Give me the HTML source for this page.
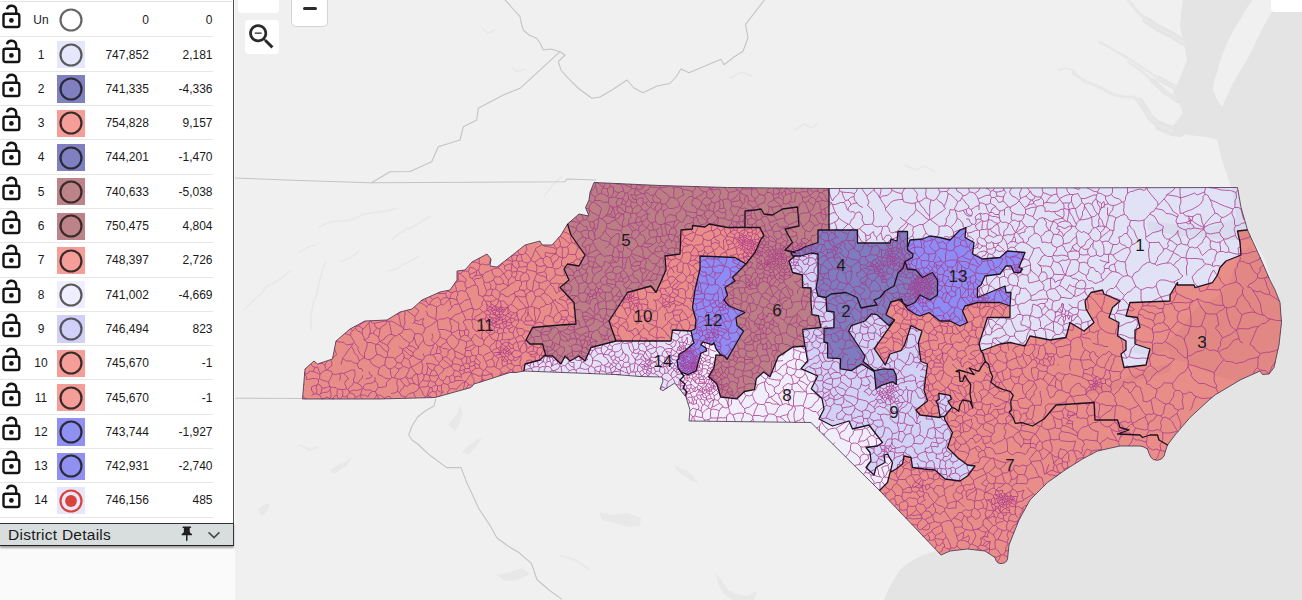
<!DOCTYPE html>
<html><head><meta charset="utf-8"><title>District Map</title>
<style>
html,body{margin:0;padding:0}
body{width:1302px;height:600px;overflow:hidden;position:relative;background:#f0f0f0;font-family:"Liberation Sans",sans-serif;color:#1a1a1a}
#map{position:absolute;left:0;top:0;width:1302px;height:600px}
#side{position:absolute;left:0;top:0;width:235px;height:600px;background:#fafafa}
#panel{position:absolute;left:0;top:0;width:232.6px;height:523px;background:#fff;border-right:1.7px solid #4d4d4d}
#topline{position:absolute;left:0;top:1.3px;width:232px;height:1px;background:#e2e2e2}
.r{position:absolute;left:0;width:213px;height:34.3px;border-bottom:1px solid #e6e6e6;box-sizing:border-box;font-size:12px;letter-spacing:0}
.r span{position:absolute;top:0;line-height:34.4px;white-space:nowrap}
.lk{position:absolute;left:0;top:0;width:24px;height:34px}
.n{left:28px;width:26px;text-align:center}
.sw{left:57px;top:3.6px!important;width:27.5px;height:27.2px}
.sw svg{position:absolute;left:-.2px;top:-.4px;width:28px;height:28px}
.p{right:64.2px;text-align:right}
.d{right:.5px;text-align:right}
#dd{position:absolute;left:0;top:522.6px;width:232.6px;height:21.4px;background:#d8dede;border-top:1.6px solid #333;border-bottom:1.8px solid #222;border-right:1.7px solid #333;box-shadow:0 1.5px 2px rgba(0,0,0,.35);font-size:15.5px;line-height:21px}
#dd b{font-weight:normal;position:absolute;left:8px;top:0;letter-spacing:.25px}
.btn{position:absolute;background:#fff}
</style></head><body>
<svg id="map" viewBox="0 0 1302 600">
<rect width="1302" height="600" fill="#f0f0f0"/>
<path fill="#e4e4e4" d="M884,600 888,590 893,581 900,570 907,564 915,559 922,555.5 930,552.5 936,551 942,550 960,540 1000,540 1010,500 1060,465 1120,440 1160,450 1200,400 1260,365 1275,350 1278,300 1265,260 1245,225 1237,187 1231,187 1226,172 1222,160 1219,148 1217,140 1220,125 1222,107 1228,94 1233,83 1240,71 1247,60 1254,46 1260,33 1267,20 1273,10 1281,0 1302,0 1302,600ZM1183,0 1181,14 1180,27 1184,44 1187,60 1180,78 1173,93 1179,103 1183,113 1176,122 1170,130 1188,135 1207,137 1217,140 1220,125 1222,107 1216,98 1213,90 1214,81 1217,73 1221,58 1227,43 1233,31 1240,20 1246,9 1253,0Z"/><path fill="none" stroke="#e4e4e4" stroke-width="6.5" stroke-linejoin="round" stroke-linecap="round" d="M1140,101 1146,110 1150,117 1160,126 1172,131"/><path fill="none" stroke="#e4e4e4" stroke-width="10" stroke-linejoin="round" stroke-linecap="round" d="M1160,126 1172,131 1180,132"/><path fill="none" stroke="#e4e4e4" stroke-width="4.5" stroke-linejoin="round" stroke-linecap="round" d="M1152,80 1166,93 1178,101"/><path fill="none" stroke="#e4e4e4" stroke-width="5" stroke-linejoin="round" stroke-linecap="round" d="M1158,78 1176,88 1182,92"/><path fill="none" stroke="#e4e4e4" stroke-width="7" stroke-linejoin="round" stroke-linecap="round" d="M1146,20 1158,28 1170,34 1183,42"/><path fill="none" stroke="#e7e7e7" stroke-width="3.2" stroke-linejoin="round" stroke-linecap="round" d="M1073,73 1086,82 1100,87 1112,94 1123,97 1133,97 1140,101 1146,110 1150,117 1160,126 1172,131"/><path fill="none" stroke="#e7e7e7" stroke-width="2.4" stroke-linejoin="round" stroke-linecap="round" d="M1128,62 1140,70 1152,80 1166,93 1176,100"/><path fill="none" stroke="#e7e7e7" stroke-width="2.6" stroke-linejoin="round" stroke-linecap="round" d="M1100,42 1117,52 1128,58 1140,66 1158,78 1176,88"/><path fill="none" stroke="#e7e7e7" stroke-width="3.4" stroke-linejoin="round" stroke-linecap="round" d="M1128,0 1136,10 1146,20 1158,28 1170,34 1183,42"/><path fill="none" stroke="#e7e7e7" stroke-width="1.5" stroke-linejoin="round" stroke-linecap="round" d="M1075,71 1066,68 1058,70"/><path fill="#e8e8e8" d="M330,470 336,466 345,462 352,457 347,465 340,470 334,474Z"/><path fill="#e8e8e8" d="M599,512 612,515 628,513 641,518 640,526 628,527 615,523 602,520Z"/><path fill="#e8e8e8" d="M448,425 452,420 457,414 460,405 463,414 459,424 455,431Z"/><path fill="#e8e8e8" d="M258,510 263,505 270,503 268,510 262,516Z"/><path fill="#e8e8e8" d="M497,575 510,572 522,568 530,574 518,580 505,581Z"/><path fill="#e8e8e8" d="M674,464 679,468 686,470 693,476 699,483 692,481 684,476 677,471Z"/><path fill="#e8e8e8" d="M716,573 722,581 728,590 737,594 747,596 757,591 754,600 733,600 724,594 718,584Z"/><path fill="#e8e8e8" d="M462,452 468,446 476,440 482,438 476,447 468,455Z"/><path fill="none" stroke="#e8e8e8" stroke-width="1.6" stroke-linecap="round" stroke-linejoin="round" d="M319,227 327,223 336,221 345,221 353,219 364,214 373.5,212.5 386,211 398.5,208"/><path fill="none" stroke="#e8e8e8" stroke-width="1.6" stroke-linecap="round" stroke-linejoin="round" d="M392,239.6 400,233 407,229 413,227 419,223 425,219 430,216.7"/><path fill="none" stroke="#e8e8e8" stroke-width="1.6" stroke-linecap="round" stroke-linejoin="round" d="M388,271 396,269 402.7,264.6 411,261 419,256"/><path fill="none" stroke="#e8e8e8" stroke-width="1.6" stroke-linecap="round" stroke-linejoin="round" d="M244,310 252,302 261,294 266,287 273.5,283 282,278 290,271"/><path fill="none" stroke="#e8e8e8" stroke-width="1.6" stroke-linecap="round" stroke-linejoin="round" d="M311,329 311,316 313,304 317,293 319,283 322,272 325.6,262.5"/><path fill="none" stroke="#e8e8e8" stroke-width="1.6" stroke-linecap="round" stroke-linejoin="round" d="M544,196 549,190 552.7,185 557,181 561,177"/><path fill="none" stroke="#e8e8e8" stroke-width="1.6" stroke-linecap="round" stroke-linejoin="round" d="M300,252 308,247 316,245"/><path fill="none" stroke="#e8e8e8" stroke-width="1.6" stroke-linecap="round" stroke-linejoin="round" d="M340,262 350,258 358,252"/><path fill="none" stroke="#e8e8e8" stroke-width="1.6" stroke-linecap="round" stroke-linejoin="round" d="M482,28 488,33 495,30"/><path fill="none" stroke="#e8e8e8" stroke-width="1.6" stroke-linecap="round" stroke-linejoin="round" d="M512,68 518,72 524,69"/><path fill="none" stroke="#e8e8e8" stroke-width="1.6" stroke-linecap="round" stroke-linejoin="round" d="M730,78 742,72 752,76"/><path fill="none" stroke="#e8e8e8" stroke-width="1.6" stroke-linecap="round" stroke-linejoin="round" d="M795,130 804,124 812,128 818,123"/><path fill="none" stroke="#e8e8e8" stroke-width="1.6" stroke-linecap="round" stroke-linejoin="round" d="M905,165 915,170 925,166 935,172"/><path fill="none" stroke="#e8e8e8" stroke-width="1.6" stroke-linecap="round" stroke-linejoin="round" d="M560,555 575,560 590,570"/><path fill="none" stroke="#e8e8e8" stroke-width="1.6" stroke-linecap="round" stroke-linejoin="round" d="M300,445 310,450 318,447"/><path fill="none" stroke="#c4c4c4" stroke-width="1.1" stroke-linejoin="round" d="M235,178 300,180.5 370,182.7 480,182.2 565,181.7 566.7,179 596,180"/><path fill="none" stroke="#c4c4c4" stroke-width="1.1" stroke-linejoin="round" d="M371.7,182.7 390,171.7 410,171.5 431.7,161.7 438.3,146.7 460,140 463.3,126.7 476.7,120 478.3,108.3 503.3,95 520,88.3 560,51.7 565,55 558.3,61.7 561,70 566.7,76.7 578,88 591.7,98.3 600,97 612,90 627,80 634,88 643,92.7 657,86 670,83.5 676,77 681,69 689,72.8 705,66 721,59.3 724,64.7 734,57 743,51.2 748,37.7 745.5,24.3 756,10.8 764.4,0"/><path fill="none" stroke="#c4c4c4" stroke-width="1.1" stroke-linejoin="round" d="M560,51.7 551,49 543.3,50 540,43 536.7,38.3 529,35 523.3,30 521,22 520,16.7 513,9 508.3,3.3 505,0"/><path fill="none" stroke="#c4c4c4" stroke-width="1.1" stroke-linejoin="round" d="M235.4,398.2 302,398.5"/><path fill="none" stroke="#c4c4c4" stroke-width="1.1" stroke-linejoin="round" d="M435.8,399 434,406 425,411 417.7,417 412,426 408.7,435 412,440 417.7,444 425,451 432,456.8 446.6,467.6 461,467.6 466.5,482 473,496 479,509 490,525.4 497,538 508,546 518.8,552.5 531.4,563.3 536.9,579.5 549,590 562,599.4"/><g><path fill="#e2e2f6" d="M1241,207.5 1237.5,187.5 1000,188 829,188.5 829,229 829,230 857.5,230 857.5,243 890,243 891,239 897,241 898,231.5 907.5,231.5 907.5,247.5 910,240 922.5,239 930,236 940,237.5 950,240 960,230 966,227.5 965,237.5 974,242.5 972.5,254 982.5,259 1000,257.5 1007.5,251 1025,252.5 1019,267.5 1022.5,269 1020,272.5 1014,272.5 1011,266 1006,266 1000,274 985,276 981,285 977.5,287.5 977.5,297.5 1005,286 1006,292.5 1011,292.5 1010,306 1010,317.5 987.5,317.5 979,344 981,351 1000,344 1010,342.5 1025,346 1030,336 1050,340 1066,337.5 1070,322.5 1084,331 1094,322.5 1086,309 1085,301 1091,292.5 1102.5,290 1104,294 1120,301 1112.5,307.5 1109,317.5 1119,322.5 1117.5,336 1126,341 1126,350 1121,354 1124,367.5 1146,365 1150,349 1135,344 1135,330 1140,327.5 1137.5,317.5 1126,316 1130,302.5 1132.5,302.5 1170,301 1170,295 1177.5,282.5 1177.5,285 1194,285 1195,287.5 1212.5,282.5 1217.5,275 1220,267.5 1226,261 1241,255 1240,242.5 1237.5,231 1247.5,230Z"/><path fill="#d2d2f5" d="M805,346 807.6,361 801,368.6 817.7,376 811.3,388.7 822,398.5 824,409 819,419 832.5,426 849,421 852.5,429 869,425 882.5,442.5 877.5,446 866,447.5 870,452.5 871,461 866,467.5 874,475 876,467.5 885,462.5 884,455 887.5,454 892.5,462.5 891,469 890,472.5 896,469 902.5,464 904,456 911,457.5 912.5,467.5 924,469 935,470 945,479 960,481 967.5,476 975,466 967.5,465 957.5,457.5 947.5,447.5 952.5,432.5 945,420 944.3,416.5 941.6,416.5 940,417.5 920,415 916,410 927.5,401 924,390 927.5,364 921,361.5 918.3,343 922,331 911,325.7 904.5,345 901,350.5 890,354 885.3,365 874.3,348.6 894.5,320 889,325.7 877,314.7 871.6,313.8 865,321 851.4,325.7 848.6,331 865,356 863.3,361.5 874.3,370.6 883.5,368.8 893.6,369.7 896.3,376 896.3,384.4 892.6,381.6 881.6,385.3 876,389 874.3,371.6 861.5,364 851.4,370.6 840.4,368.8 840.4,358.7 827.6,357.8 827.6,343 824,342 824,328.5 834,327.6 834,312 826.7,311 826,297.5 818,296 816,288 818,277.5 818,254 811,253 801,256 795,256 789,261 792.5,272.5 802.5,275 802.5,287.5 811,288 811,302.5 812,314.7 818.4,315.6 821,327.5 802.8,329.4 803,333.7Z"/><path fill="#f1eefb" d="M887.5,482.5 890,472.5 891,469 892.5,462.5 887.5,454 884,455 885,462.5 876,467.5 874,475 866,467.5 871,461 870,452.5 866,447.5 877.5,446 882.5,442.5 869,425 852.5,429 849,421 832.5,426 819,419 824,409 822,398.5 811.3,388.7 817.7,376 801,368.6 807.6,361 805,346 793,347 778.3,356.6 770,376.8 763.6,372 756.3,378.6 754.5,389.6 744.4,391.5 737,398.8 720.6,397 717,384 708.6,376.8 714,367.6 716,354.8 722.9,355.6 720,354 716,348.7 714,342.7 712,344.7 703,342 701,344.7 706,348 706.7,351 701,353 698.7,360.7 696,371 688,374.7 681.3,372.1 681,372.7 684,376 680,380 685,384 683,388 687,392 685.1,395.9 686,397 690,410 689,421 811,422.5 879.5,490.5 880,490Z"/><path fill="#e98d89" d="M1240,242.5 1241,255 1226,261 1220,267.5 1217.5,275 1212.5,282.5 1195,287.5 1194,285 1177.5,285 1177.5,282.5 1170,295 1170,301 1132.5,302.5 1130,302.5 1126,316 1137.5,317.5 1140,327.5 1135,330 1135,344 1150,349 1146,365 1124,367.5 1121,354 1126,350 1126,341 1117.5,336 1119,322.5 1109,317.5 1112.5,307.5 1120,301 1104,294 1102.5,290 1091,292.5 1085,301 1086,309 1094,322.5 1084,331 1070,322.5 1066,337.5 1050,340 1030,336 1025,346 1010,342.5 1000,344 981,351 979,344 987.5,317.5 1010,317.5 1010,306 1000,302.5 977.5,302.5 965,306 962.5,311 967.5,322.5 960,326 950,321 940,321 929,312.5 920,316 915,314 907.3,309 904.6,304.7 900,300 900,299.5 890.8,302 886,314.7 894.5,320 874.3,348.6 885.3,365 890,354 901,350.5 904.5,345 911,325.7 922,331 918.3,343 921,361.5 927.5,364 924,390 927.5,401 916,410 920,415 940,417.5 941.6,416.5 940,416.5 939.3,412 938,404.7 936,401.3 939.3,399.3 938.7,393.3 942.7,394 950,395.3 951.3,399.3 948,401.3 952,407.3 944.5,416.5 944.3,416.5 945,420 952.5,432.5 947.5,447.5 957.5,457.5 967.5,465 975,466 967.5,476 960,481 945,479 935,470 924,469 912.5,467.5 911,457.5 904,456 902.5,464 896,469 890,472.5 887.5,482.5 880,490 879.5,490.5 880,491 941,555 950,551 967.5,549 985,551 995,557.5 996,560.5 997.8,562.8 1001,563.6 1004,563 1006.3,561.5 1007.5,559 1009,545 1019,520 1030,500 1047.5,482.5 1065,470 1082.5,459 1097.5,451 1120,446 1140,446 1144,447 1147.5,449 1149,453.5 1151,457.5 1153.5,459.6 1157.5,460.3 1161.5,459 1164,456 1165.5,451 1167.5,445 1175,435 1190,417.5 1209,400 1215,395 1240,380 1260,371 1262.5,374.5 1269,374 1274,367.5 1279,345 1281.5,322.5 1280,302.5 1275,290 1270,280 1259,255 1247.5,230 1237.5,231Z"/><path fill="#d2d2f5" d="M936,401.3 938,404.7 939.3,412 940,416.5 944.5,416.5 952,407.3 948,401.3 951.3,399.3 950,395.3 942.7,394 938.7,393.3 939.3,399.3Z"/><path fill="#e4e2f7" d="M683,388 685,384 680,380 684,376 681,372.7 681.3,372.1 681,372 678,368 677,360 679,358.7 678.7,354.7 685,350.7 694,342.7 693,340 691,331 672.5,330 671,341 616,341 591,347.5 585,361 579,356 570,361 565,356 561,364 552.5,356 546,356 545,355 540,360 525,364 524,371 615,374.5 640,376.5 662,377 663,381 660,389 663,390.7 674.7,383 685.1,395.9 687,392Z"/><path fill="#e98d89" d="M540,360 545,355 546,356 542.5,344 530,344 526,340 532.5,327.5 560,325 576,324 574,302.5 560,287.5 569,280 564,269 567.5,264 579,266 585,255 571,235 567.5,224 561,235 552,245 542,245 540,241 525,245 510,257 497,267 490,266 491,259 487,254 472,262 465,270 457,271 457,280 450,290 440,292 422,300 412,309 400,312 387,320 365,321 350,329 336,341 332.5,359 317.5,364 314,361 305,369 302.5,399 379,399 435,397.5 471,387.5 474,384 490,379 510,372.5 516,372.5 524,371 525,364Z"/><path fill="#e98d89" d="M671,341 672.5,330 691,331 695,329 696,320 692.5,307.5 695,290 700,269 700,267 700,256 735,257.5 746,264 749,260 755,252.5 761,239 764,236 760,227.5 727.5,227.5 709,224 705,227 692.5,225.5 692.5,229 681,230 680,254 665,256 666,270 656,292.5 651,286 627.5,292.5 609,321 616,341Z"/><path fill="#ba7e84" d="M590,192.5 589,200 585.5,207.5 589,216 579,214 567.5,224 571,235 585,255 579,266 567.5,264 564,269 569,280 560,287.5 574,302.5 576,324 560,325 532.5,327.5 526,340 530,344 542.5,344 546,356 552.5,356 561,364 565,356 570,361 579,356 585,361 591,347.5 616,341 609,321 627.5,292.5 651,286 656,292.5 666,270 665,256 680,254 681,230 692.5,229 692.5,225.5 705,227 709,224 727.5,227.5 760,227.5 764,236 761,239 755,252.5 749,260 746,264 732.5,277.5 735,281 725,287.5 727.5,295 724,300 729,306 745,312.5 736,317.5 737,325.5 743.5,331 727,359.4 724.7,356.5 722.9,355.6 716,354.8 714,367.6 708.6,376.8 717,384 720.6,397 737,398.8 744.4,391.5 754.5,389.6 756.3,378.6 763.6,372 770,376.8 778.3,356.6 793,347 805,346 803,333.7 802.8,329.4 821,327.5 818.4,315.6 812,314.7 811,302.5 811,288 802.5,287.5 802.5,275 792.5,272.5 789,261 795,256 792.5,256 791,252.5 799,250 806,246.5 818,242.5 818,230 829,230 829,229 829,188.5 727.5,187.5 660,185.5 594,182.5Z"/><path fill="#8c8cf4" d="M695,290 692.5,307.5 696,320 695,329 691,331 693,340 694,342.7 685,350.7 678.7,354.7 679,358.7 677,360 678,368 681,372 688,374.7 696,371 698.7,360.7 701,353 706.7,351 706,348 701,344.7 703,342 712,344.7 714,342.7 716,348.7 720,354 725,356.7 727,359.4 743.5,331 737,325.5 736,317.5 745,312.5 729,306 724,300 727.5,295 725,287.5 735,281 732.5,277.5 746,264 735,257.5 700,256 700,269Z"/><path fill="#8c8cf4" d="M900,300 904.6,304.7 907.3,309 915,314 920,316 929,312.5 940,321 950,321 960,326 967.5,322.5 962.5,311 965,306 977.5,302.5 1000,302.5 1010,306 1011,292.5 1006,292.5 1005,286 977.5,297.5 977.5,287.5 981,285 985,276 1000,274 1006,266 1011,266 1014,272.5 1020,272.5 1022.5,269 1019,267.5 1025,252.5 1007.5,251 1000,257.5 982.5,259 972.5,254 974,242.5 965,237.5 966,227.5 960,230 950,240 940,237.5 930,236 922.5,239 910,240 907.5,247.5 907.5,250 913,254 912.5,257.5 905,261.5 907.5,269 916,270 922.5,277.5 932.5,272.5 937.5,280 937.5,295 930,300 920,295 915,302.5 907.5,306 903,303 901.8,299 900,299.5Z"/><path fill="#7c7cbe" d="M818,242.5 806,246.5 799,250 791,252.5 792.5,256 801,256 811,253 818,254 818,277.5 816,288 818,296 826,297.5 826.7,311 834,312 834,327.6 824,328.5 824,342 827.6,343 827.6,357.8 840.4,358.7 840.4,368.8 851.4,370.6 861.5,364 874.3,371.6 876,389 881.6,385.3 892.6,381.6 896.3,384.4 896.3,376 893.6,369.7 883.5,368.8 874.3,370.6 863.3,361.5 865,356 848.6,331 851.4,325.7 865,321 871.6,313.8 877,314.7 889,325.7 894.5,320 886,314.7 890.8,302 901.8,299 903,303 907.5,306 915,302.5 920,295 930,300 937.5,295 937.5,280 932.5,272.5 922.5,277.5 916,270 907.5,269 905,261.5 912.5,257.5 913,254 907.5,250 907.5,231.5 898,231.5 897,241 891,239 890,243 857.5,243 857.5,230 818,230Z"/><path fill="#000" fill-opacity=".03" d="M1226,240 1250,240 1252.1,240 1247.5,230 1241,207.5 1237.5,187.5 1235.2,187.5 1232,188 1236,218 1214,226 1180,225 1148,221 1148,230 1180,236ZM1249,246 1236,262 1229,284 1216,298 1196,308 1181,328 1166,343 1171,359 1191,364 1216,376 1237.9,381.3 1240,380 1260,371 1262.5,374.5 1266.9,374.2 1274.9,363.5 1279,345 1281.5,322.5 1280,302.5 1275,290 1270,280 1259,255 1258.3,253.4ZM1166,343 1150,347 1130,346 1128,352 1150,356 1168,350ZM1170,372 1172,362 1140,372 1110,384 1086,388 1085,395 1110,392 1140,380Z"/></g><path transform="scale(.5)" d="M613 798l-8-5M607 770l1-1M610 744l0 5M637 759l-6-2 -7 0 -7 2 -4 0 0-6 -3-4M610 749l7-3 2-4 7 1M630 735l-5-2 -3-5M628 788l-5 3M640 749l-8-4 -6-2M626 743l4-8M628 788l-5-8 0-6 4-2 7-2M633 788l-5 0M641 748l-3-6 -3-8 -5 1M639 790l-6-2M633 788l1-8 -2-4 2-6M634 770l1-1M644 776l-4-6 -5-1M635 769l2-4 0-6M639 757l-2 2M643 798l-1-4 -3-4M641 787l-2 3M657 764l-6-2 -5-1 -7-4M639 757l1-8M650 731l-4-4 -6 0 0-1M640 749l1-1M641 787l2-5 1-6M660 779l-4 5 -9 1 -6 2M641 748l6-6 7-2M643 798l5-1 5-3 7 3M660 773l-5 1 -5 2 -6 0M654 740l-3-3 -1-6M655 723l-4 4 -1 4M655 740l-1 0M665 748l-2-5 -8-3M655 740l2-4 6-4 1-6 -2-6 1-1M660 773l-2-5 -1-4M657 764l4-7 1-3 3-6M660 779l2 7 0 7 -2 4M660 779l1-5M660 797l1 1M661 774l-1-1M661 774l6 1 5 0 3 3M663 798l3-1M665 748l6 1 9-2M669 697l3 9 2 3 -3 2 -5 4 -1 0M666 797l2 1M666 797l2-4 6-3M672 683l16 2 5 5 12-2M674 790l2 6 3 2M674 790l0-6 1-6M675 778l8 1M679 761l2-7 -1-7M687 747l-5-1 -2 1M685 792l-4 6M685 717l-1 5 -2 7M685 792l1-8 -3-5M683 779l5 0 5-1M685 792l4 2 5-2M685 717l8 5 10 0 4 4 8 1M685 717l0-1 4-4 5-8 4-6 5-5M693 778l-1-5 -3-6 3-6 5-3 -4-6 -6-5M687 747l9-4 7-3 6 0 1 5 0 8 -3 5 0 5 1 1M701 671l-11-4M696 779l-3-1M694 792l2 6M699 785l-5 7M696 779l2 4M696 779l4-5 4-3 4-7M698 783l1 2M698 783l10-3 5 1 11-3M699 785l8 3 4 6M705 662l-4-5M701 671l3 5 5 8 -1 1M705 662l-3 3 -1 6M703 693l3 5 3 8 6 6 4 10M705 688l-2 5M705 688l3-3M705 662l6-6M729 716l-9-9 -5-9 2-3 -9-10M708 764l7 3M711 794l-3 4M711 794l5-1 5-4M711 656l5 7 4 0 5 6M711 656l1-3M711 652l1 1M717 652l-5 1M715 767l6 3 4 7M715 767l4-6 4-3 2-4 0-3M715 727l0 4 3 6 5 0 3 6M715 727l4-5M717 652l4 2 5 4M717 652l7-6 5-3 0-1M729 716l-6 2 -4 4M721 790l0-1M724 778l-1 6 -2 5M721 790l9 0 6 4 3-7 6-4M725 798l-3-3 -1-5M724 778l1-1M725 777l1-1M725 669l3 6 0 5 2 0M725 669l-1-5 2-6M745 783l-4-3 -11 0 -4-4M726 776l2-5 3-3 6-1 7-1 6-4M738 646l-4 3 -2 4 -6 5M729 716l0-10 3-7 2-6 0-8M729 716l6 3 4 0M734 685l-4-5M739 668l-2 7 -7 5M731 758l9-2 5-4 -5-3 -2-6M734 685l8 0 5 2 5 2M739 668l2-6 -2-9 -1-7M738 646l2-4M739 668l7-2M739 719l4 8 5 4 5 2 6 3M739 719l8-3 1-3 6-4M741 641l2 4 6 2M745 783l6 0M746 666l5 4 6 4M746 666l3-4 6-6M748 798l3-3 2-5M755 656l-5-3 -1-6M749 647l6-2 11-2 8-1M750 762l0-8M756 775l-1-8 -5-5M753 789l-2-6M756 775l-2 3 -3 5M754 709l-2-7 -1-8 1-5M752 689l2-1M753 790l4 6 0 2M753 790l0-1M769 796l-6-4 -2-1 -8-2M754 709l6 1 6 4 6 2M754 688l6 2 6 8 9 7M754 688l5-5M755 656l5 2M780 758l-7 7 0 7 -5 2 -8 1 -4 0M759 683l-1-6 -1-3M757 674l2-7 1-9M759 683l1 0M780 758l-11-2 -3-3 -10-4 1-8 2-5M770 730l-5 1 -6 5M760 658l1 0 2-5 8-4 4-7M760 683l6 3 4 2 5 3M760 683l9-5 2-4 8-5 4 0M770 798l-1-2M781 797l1-1 -2-3 -4 0 -7 3M770 730l4 6 6 2M770 730l0-6 2-8M772 716l2-2M774 640l0 2M790 719l-3-4 -6 0 -7-1M775 705l0 5 -1 4M774 642l1 0M778 643l-3-1M775 705l3-8 -3-6M775 691l5-9 4-4 6-7M778 643l2 9 2 9 1 8M804 654l-9-5 -6-4 -7-3 -4 1M784 755l-2-4 -1-7 -1-6M780 738l5-2 4-3M780 758l4-3M782 787l7-1 6-3M790 671l-7-2M784 755l5 1M798 738l-5-2 -4-3M789 733l4-4 1-4M795 758l-6-2M789 756l2-7 6-6 1-5M790 671l3 1 5-4M790 719l4 6M790 719l3-5 5-3 7-6M793 628l1 1 3 0M802 726l-8-1M795 758l-2 10 3 5 -1 10M795 758l4 0 1 0M795 783l4 2M797 629l2 7 2 12 3 6M797 629l4-5M798 738l6-3 2-2M798 668l6 6 2 3 9 6 4 3M807 659l-4 7 -5 2M798 693l3 3 4 2M811 794l-9-3 -3-6M799 785l4-7 3-1 3-7M809 770l-5-6 -4-6M800 758l5-1 6-3M806 733l-4-7M802 726l3-4 3-7M807 658l-3-4M805 698l0 1M805 698l8-3M805 705l3 4 0 6M805 705l0-6M805 699l5 3 9 8 5 2M806 733l5 1 7 3M807 659l0-1M807 658l2-11 1 0 -1-14 1-4 0-5 -1-2M807 659l7 0 7-1 5 5 4 5M817 719l-4-2 -5-2M809 770l5 3 6-5M810 797l1-3M820 768l-3-5 -2-4 -4-5M812 753l-1 1M811 794l6-6 5-2 5-1M824 756l-7 1 -5-4M818 737l0 5 -3 4 -3 7M813 695l5 5 6 3 2 3M817 692l-4 3M830 633l-6-4 -9-7 -2-1M823 734l-3-6 -1-6 -2-3M817 719l3-3 4-4M833 698l-6-4 -5-2 -5 0M817 692l2-6M823 734l-5 3M828 674l-2 7 -7 5M830 768l-5-1 -5 1M833 748l-3-4 -5-6 -2-4M823 734l6-3 8-5 6-4M830 768l-4-5 -2-7M833 748l-5 2 -4 6M826 712l-2 0M828 645l-3 3M826 706l0 6M833 698l-3 3 -4 5M845 720l-7-1 -4-2 -8-5M832 796l-1-1 -4-10M838 775l-3 6 -8 4M846 650l-7-1 -4-1 -7-3M828 645l2-4M837 695l-5-7 -1-4 -3-10M830 668l-2 6M829 614l9 7 -3 5 -5 7M830 641l0-8M838 772l-5-3 -3-1M846 650l-1-7 3-6 -7 2 -4 3 -7-1M843 669l-7-2 -6 1M834 748l-1 0M833 698l4-1 0-2M834 748l4 1 6-3M838 771l-1-6 -1-9 -2-8M837 695l1-4 5-6 4-5M838 775l0-3M838 772l0-1M857 609l-4 6 -2-4 -7-4 -6-2M845 761l-5 5 -2 5M839 775l-1 0M851 793l-4-3 -4-9 -4-6M839 775l4-1 8 0 4-2M853 603l-10-2M843 669l3 5 1 3 0 3M843 669l4-3 3-9M843 722l3 11 -2 7 0 6M843 722l2-2M844 746l4 4M845 720l2-1 2-5M859 762l-7 0 -7-1M845 761l3-6 0-5M846 707l3 7M846 650l4 7M847 680l2 7 4 3 7 2 6-2M853 749l-5 1M849 714l6-4 6 0M851 793l-2 3M850 657l5-3 6-3 7-5 6-5M851 622l3 3 1 6 4 2 9 4 4 3M853 603l-2-6M851 793l3-1M859 751l-6-2M856 734l-2 9 -1 6M853 603l4 6M854 792l2-7 3-7 1-3M854 792l2 0M855 772l5 3M855 772l2-5 2-5M864 795l-1-1 -7-2M865 783l-6 3 -3 6M864 741l-4-3 -4-4M856 734l-3-8 5 1 8 1 7 3M857 609l2 0M859 609l6 1 8 4M859 609l3-6 3-4M864 741l-2 4 -3 6M861 761l-2 1M859 751l10 1 6-2M859 751l0 4 2 6M864 775l-4 0M865 599l-4-5 -1-1M861 761l5 3 4 0M865 710l-4 0M866 690l0 6 -4 5 -1 9M865 783l-1-8M864 775l3-3 5-2M864 741l4-1M864 667l2 6 -3 7 3 3 4 4M878 725l-6-6 -2-5 -5-4M872 707l-7 3M872 784l-7-1M865 599l6-3 5-2 5 7M870 687l-4 3M868 740l5 4 2 6M868 740l1-6 4-3M871 687l-1 0M870 764l2 6M877 754l-3 6 -4 4M871 687l5 5M880 674l-3 5 -6 8M873 794l0-4 -1-6M872 784l3-5M875 772l-3-2M872 707l8 0M876 692l-2 6 -2 9M872 640l2 1M873 614l0 11 -1 8 0 7M878 729l-5 2M873 614l6-3 3-3M875 642l-1-1M875 750l2 1M875 779l0-7M883 770l-8 2M877 659l-1-4 -1-8 0-5M875 642l4-4 9 0 7-3 4 2M875 779l3 4 7 2M876 692l4 2M876 586l0 1 8 0 7 0M878 585l-2 1M877 754l3 5 6 3M877 751l0 3M888 738l-2 5 -5 4 -4 4M877 659l12 0 3 1 10 4M877 659l0 2 3 5 0 8M888 738l-6-5 -4-4M878 725l0 4M885 718l-3 4 -4 3M879 793l1-2 5-6M880 707l4 4 1 5M880 707l3-3 -3-4 0-6M880 694l2-1M880 674l8 4 5 2M881 601l1 7M881 601l6-5 7-1M898 701l-3-3 -9-1 -4-4M894 683l-5 4 -4 2 -3 4M882 608l4 3 5-5 2-2 5-5M885 785l2-1 -4-4 0-10M883 770l4-3M885 718l3 3 7 5 7 6M885 718l0-2M892 713l-7 3M887 767l-1-5M886 762l5-5 2-5 5 2M896 769l-9-2M902 732l-8 3 -6 3M891 587l3 8M895 582l-4 5M892 713l5 4 5 4 3 4M892 713l4-4 0-7 2-1M893 680l1 3M893 680l5-7 5-4M894 683l2 5 3 3 5 6M894 595l4 2M895 582l7 3 4-1M895 581l0 1M899 778l-1-3 -2-6M896 769l4-4M896 622l5-3 3-5M896 788l-1-4 4-6M900 765l0-5 -2-6M906 749l-5 3 -3 2M904 614l-3-5 0-5 -3-5M898 599l0-2M900 597l-2 0M904 697l-6 4M899 778l6-1 8 2 1-2 4-5 5-4 5-5M899 637l1 1M924 623l-3 3 -12 4 -4 5 -6 2M900 597l6 0 8 3M906 584l-5 7 -1 6M900 765l8-1 1-1M900 638l5 1 8 5 5 2 -1 7 1 6M902 664l1-12 -3-8 0-6M902 732l1 0M902 664l1 2M908 740l-3-3 -2-5M905 728l-2 4M903 669l6 3 3 4 6 4M903 669l0-3M903 666l8-3 7-4M904 614l5-5 8-1M907 698l-3-1M905 725l0 3M923 731l-4-1 -6-2 -8 0M910 714l-4 6 -1 5M906 749l3 5M906 749l2-4 0-5M906 584l7-2M907 698l2 4M907 698l6-5 4-7 1-6M908 740l9 3M930 711l-9-4 -6-3 -6-2M909 702l1 6 0 6M909 754l1 4 -1 5M922 750l1 5 -6-3 -8 2M909 763l5-2 8 0 3-1 3 3M909 567l3 8 1 7M916 563l-7 4M924 718l-6 0 -8-4M915 584l-2-2M917 608l-3-8M915 584l1 6 -3 3 1 7M914 545l4 2M931 583l-8-2 -8 3M918 547l-2 5 1 6 -1 5M930 565l-6-3 -8 1M922 750l-2-5 -3-2M919 741l-2 2M918 609l-1-1M918 680l1-1M918 659l1 1M918 609l4 8 2 6M918 609l6-3 5-5 11-3M918 547l3 0M919 741l5 0 5-3M923 731l-2 4 -2 6M919 679l8 2 6 3M922 674l-3 5M919 660l5 2 5-1M922 674l-3-6 0-8M921 547l3 4 5 4 4 5 -3 5M921 547l5-5M922 674l7-4M922 750l6-4M926 730l-3 1M924 718l-1 3 4 8M930 712l-6 6M931 640l-1-6 -2-4 -4-7M945 617l-5 0 -10 5 -6 1M925 541l1 1M926 542l4 0 7 1M926 730l5 7M927 729l-1 1M926 779l1-2 2-8 0-6M927 729l6-3M929 763l-1 0M929 738l-1 8M928 746l9-2 6 2M929 763l5 2 3 4M929 763l4-2 7-11 3-3M929 670l0-4 0-5M932 659l-3 2M929 670l7 2M929 738l2-1M930 711l0 1M930 711l0-5 2-5M930 565l0 7 3 4M930 712l1 1M932 701l-2-4M933 684l0 7 -3 6M930 697l7-3 6-3 6-2M931 737l8 0M931 583l5 5 0 5 4 3 0 2M931 583l2-7M931 640l-5 3 3 6 3 4 0 6M944 640l-6-1 -7 1M931 713l7 1M933 726l1-8 -3-5M932 778l5-9M932 701l9 0M932 659l4 0 2 6 -2 7M933 576l6-1 6-4 6-1M933 684l6-3 4-1M938 728l-5-2M936 672l3 4 4 2M939 549l-2-6M937 543l3-9 9 3 4 4M937 769l8 2M941 724l0-5 -3-5M945 711l-7 3M939 733l-1-5M941 724l-3 4M939 737l4 8M939 733l0 4M939 549l1 6 4 2M939 549l7-3 7-3M949 730l-4 2 -6 1M940 598l1 5 3 9 1 5M941 701l2 6 2 4M951 691l-4 6 -6 4M949 723l-8 1M943 746l0-1M951 737l-5 3 -3 5M943 747l0-1M949 689l-4-5 -2-4M943 680l0-2M943 678l3-5 5-5 4 5 5 3 5 2M943 747l1 0M944 557l3 4M944 557l6-5M944 747l8 2 4 3 8 0M948 768l0-9 -4-6 0-6M944 640l0 5 2 5 -1 6 5 4 2 3 8-1 4-3M945 639l-1 1M945 524l8 1 6 3M945 772l0-1M945 771l1-1M945 639l3 0M945 639l-1-6 3-10 -1-6M945 711l7 1M945 617l1 0M959 617l-8 3 -5-3M951 570l-1-6 -3-3M965 553l-6 4 -7 0 -5 4M948 639l8 2 6-4 8 1M948 639l3-6 10-5 4-5M951 737l-2-7M949 730l1-4M949 723l1 3M952 716l-3 7M949 689l2 2M958 730l-8-4M950 552l3-4 0-5M950 552l9-2 6 3M965 593l-8-3 0-6 -1-7 -1-5 -4-2M960 736l-9 1M951 691l6 2M952 716l4 4 5 5 -3 5M952 716l0-4M952 712l5-4M953 543l0-2M953 541l4-1M957 693l0 6 0 9M957 693l5 0 5-5M957 540l3 8 6 2M957 540l2-5 1-6M967 713l-4-3 -6-2M958 765l4-2 2-5M960 736l-2-6M959 528l-1-12M959 528l1 1M959 617l6 6M968 600l-4 4 0 7 -5 6M960 736l7 5M960 529l6-1 6 2 6-1 2-7 2-4M964 752l0 6M964 750l0 2M964 659l1 0M964 659l1-8M965 763l-1-5M984 750l-4-2 -8 3 -8-1M964 750l1-5 2-4M964 758l7 3M965 678l3 4M965 678l-2-7 1-3 1-9M965 623l2 1 1 0M968 600l-3-7M965 593l2-1M965 659l4 2 3 3 6 3M965 553l1 4 2 6M965 553l1-3M966 550l4-5 9-3 3-3 1 1M973 581l-1 7 -5 4M967 592l6-1 5 1 6-2M967 741l3-2M967 688l7 4 5 3M968 682l-1 6M971 723l-1-2 -3-8M967 713l3-4 7-3 6-3M968 682l3-5 5-4 3-3M968 563l5 3 5-2M973 581l-2-5 -3-7 0-5 0-1M968 600l3 2M972 629l-4-5M968 624l5-3M984 750l1-2 -7-3 -5-4 -3-2M974 734l-4 5M973 645l-3-7M970 638l2-4M971 602l3 0 6 1M971 602l2 5M971 723l3 6 0 5M971 723l7-3 6-2M977 637l-5-3M972 629l0 5M978 630l-6-1M973 607l2 4 6 3M973 607l1 4 0 7M973 645l5 6M973 645l3-2M973 621l1 0M974 618l-1 3M973 581l8-3M974 734l7 0 8-1M981 614l-7 4M981 625l-7-4M983 619l-9 2M976 643l1-6M976 643l3 0M980 634l-3 3M979 670l-1-3M978 667l3-4 1-6 -4-4 0-2M980 634l-2-4M981 628l-3 2M978 651l3-1M981 578l1-8 -4-6M978 564l5-2 4-2M979 643l4 1M984 635l-5 8M979 695l4 8M979 695l3-5 6-4 3-5M979 670l7-2 3-4M979 670l4 7 8 4M980 603l2 4M980 603l7-1 6-4M980 634l4 1M981 628l0-3M986 628l-5 0M984 621l-3 4M982 614l-1 0M981 578l5 1M981 650l5 1M981 650l3-6M982 614l2 2M982 607l0 7M982 607l7 5M984 704l-1-1M983 619l1 2M984 616l-1 3M983 540l3 9 4 4M983 540l5-3 8-1M983 644l1 0M986 639l-3 5M984 644l2 2M984 590l4 3 5 5M984 590l-1-5 3-6M984 635l2 1M984 718l4 6 1 9M984 718l4-8M986 707l-2-3M984 704l3-5 7-2M984 750l2 6M984 616l6 4M989 612l-5 4M984 621l3 5M984 621l6-1M986 651l2 3 1 0M986 646l0 5M990 643l-4-4M986 639l0-3M991 578l-5 1M986 707l2 3M986 707l4-2 6 0M986 628l1 0 0 1M986 628l1-2M988 646l-2 0M986 636l5 0M987 626l3-1M991 629l-4 0M993 632l-6-3M992 568l-5-8M987 560l3-7M988 710l3 2M988 646l2 1M990 643l-2 3M989 664l-1-5 1-5M989 654l1 0 1 0M989 733l3 2M994 665l-5-1M989 612l1 0M990 612l0 8M990 553l6 1 4-1M990 612l1-1M990 620l3 2M990 643l2 0M990 647l2 3M992 643l-2 4M990 625l1 0 0 4M993 622l-3 3M1000 656l-6-1 -3-1M992 650l-1 4M991 712l5 5M991 712l5-3 5 0M992 637l-1-1M993 632l-2 4M991 681l3 0M991 578l5 3 4 4M991 578l1-5 0-5M991 611l2 6 0 4M992 611l-1 0M994 631l-3-2M992 611l5 5M997 600l-1 6 -4 5M992 568l6 1 9-2M1000 739l-7-3 -1-1M992 735l1-4 1-6 3-6 -1-2M992 643l1 0M992 643l0-6M992 650l2-1M995 638l-3-1M993 622l0-1M993 643l1 6M993 643l4-1 1-2M993 621l2 2 3 1M993 598l3 1M993 632l4 2M994 631l-1 1M995 620l-2 1M994 697l-2-6 1-6 1-4M999 629l-4 0 -1 2M995 697l-1 0M997 667l-3-2M994 665l1-5 6-4M1000 682l-6-1M997 667l0 6 -3 8M994 649l5-1M997 616l-2 4M995 620l3 0M1000 701l-5-4M995 697l7-4M998 640l-3-2M995 638l1-2M1008 547l-5-5 -2-3 -5-3M996 536l4-4 5-5M996 599l1 1M996 599l3-5 1-6M997 634l-1 2M996 636l4-1M996 717l4-2 4-3M996 705l4-4M996 705l5 3M996 705l6 0M1006 665l-5 2 -4 0M1001 614l-4 2M997 616l2 3M1000 602l-3-2M997 634l3-1M1002 748l-4 3 -1 1M998 640l1 0M999 624l-1 0M998 620l0 4M999 619l-1 1M1000 630l-1-1M999 624l0 5M1000 656l-1-8M999 648l5-2M1001 614l-2 5M1004 640l-5 0M999 640l1-5M999 619l4 1M1003 623l-4 1M1000 739l3 7M1000 739l6-6M1000 635l0-2M1007 567l-1-6 -4-5 -2-3M1000 553l4-4 4-2M1000 630l0 3M1005 628l-5 2M1000 602l2 6 0 6M1000 602l7 0 3 2 2 4 5 3M1000 588l8 1 1 3 7 2 5-4 8-4M1000 585l0 3M1001 701l-1 0M1000 585l3-4 9-5 5-4M1001 656l-1 0M1003 688l-3-6M1004 679l-4 3M1004 635l-4-2M1001 656l6 3M1002 702l-1-1M1001 701l1-8M1001 709l0-1M1002 705l-1 3M1001 709l2 1 1 2M1002 614l-1 0M1002 748l0 3M1003 746l-1 2M1002 704l0 1M1007 706l0 1 -5-3M1002 702l0 2M1002 702l4-2M1007 698l-5-5M1002 693l1-5M1002 614l1 0M1003 623l2 4M1003 623l0-1M1003 620l0 2M1003 620l1-1M1003 746l6 1M1003 622l6 0M1003 614l6 2 6-2M1003 614l1 5M1004 688l-1 0M1004 712l2 1M1004 635l1 5M1008 630l-4 5M1004 619l7 0M1008 657l0-5 -4-6M1004 646l1-1M1004 721l0 7 2 5M1004 721l-1-1 3-7M1004 721l1 0M1004 679l6 1 8-2 0 1M1006 665l-1 7 -1 7M1004 688l5 4 4 1M1004 688l7-4 7 2M1004 640l1 4M1005 640l-1 0M1010 637l-5 3M1005 526l0 1M1010 532l-5-5M1005 721l6 2 4-1M1005 721l4-4M1005 628l0-1M1005 627l4-5M1012 648l-7-3M1005 645l0-1M1005 628l3 2M1012 642l-7 2M1006 713l3 1M1007 664l-1 1M1007 706l-1-6M1006 700l1-1M1012 731l-6 2M1007 664l0-5M1007 659l1-2M1007 664l6 3M1007 699l6 4M1007 699l0-1M1007 698l1 0M1017 572l-4-2 -6-3M1007 706l3 1M1008 547l2 4 3 5 4 4M1008 547l5-5M1011 655l-3 2M1012 631l-4-1M1008 698l5 1M1013 693l-5 5M1009 714l0 3M1009 714l2-2M1011 619l-1 2 -1 1M1009 717l6 4M1009 747l1 1M1020 739l-3 5 -8 3M1013 642l-3-5M1013 631l-3 6M1013 542l-4-5 1-5M1010 532l7-4 7 0M1010 707l1 5M1010 707l1-1M1015 614l-4 5M1011 655l7 3M1011 655l2-3M1011 712l4 2M1016 708l-5-2M1011 706l2-3M1020 739l-3-3 -5-5M1014 729l-2 2M1013 652l-1-4M1012 648l1-4M1012 642l1 2M1012 642l1 0M1012 520l6 0 7 3M1012 631l1 0M1012 631l1-2 3-2M1013 642l7-5M1013 703l1 0M1014 693l-1 0M1020 637l-7-6M1013 699l1 4M1015 697l-2 2M1013 542l5-2 4 2M1013 652l7-1 3-3M1013 644l6 1 4 1M1014 693l1 4M1014 693l3-3M1016 702l-2 1M1014 729l1-7M1014 729l5-2 5 1M1016 627l0-8 -1-5M1015 614l1-1M1019 699l-4-2M1015 722l0-1M1017 719l-2 2M1015 714l2 5M1018 710l-3 4M1016 627l1 0M1021 623l-3-3 -2-7M1017 611l-1 2M1017 705l-1-3M1018 700l-2 2M1018 710l-2-2M1016 708l1-3M1022 697l-5-7M1017 690l1-4M1024 631l-7-4M1017 627l4-4M1024 707l-7-2M1023 609l-6 2M1017 560l-1 6 1 6M1023 553l-6 7M1017 572l1 0 5-6 4 0 5-5M1017 719l1 0 4 2M1018 710l5-2M1018 658l0 6 8 2M1027 653l-6 3 -3 2M1018 700l6 7M1019 699l-1 1M1018 686l0-7M1028 675l-4 3 -6 1M1018 686l8 4M1019 699l3-2M1020 637l3 9M1020 637l0-1M1025 740l-5-1M1027 637l-7-1M1020 636l4-5M1029 626l-8-3M1022 697l5 0M1022 721l2 7M1022 721l5-1M1022 542l2 2M1024 528l-1 8 -1 6M1023 553l7 2M1023 553l1-5 0-4M1023 648l0-2M1030 640l-7 6M1026 522l-2-4 -1-6M1023 512l5-2 8 1M1037 620l-4-3 -4-4 -6-4M1031 592l-2 7 -4 5 -2 5M1027 653l-4-5M1023 708l2 4 3 2M1023 708l1-1M1024 528l0-1M1024 631l5-5M1024 707l3-5 4-1M1024 728l6 4M1024 544l9-1M1024 527l4 7 7 3M1025 523l-1 4M1024 745l2-3M1025 740l1 2M1025 740l2-5 3-3M1025 523l1-1M1026 522l7-1M1030 745l-4-3M1027 697l-1-7M1026 690l3-4 5-2M1026 666l2 9M1031 655l-3 5 -2 6M1027 720l3 2 7-5 3-5M1027 720l1-6M1031 701l-4-4M1030 640l-3-3M1027 637l4-3 3-7M1027 653l4 2M1040 712l-7 3 -5-1M1031 676l-3-1M1029 586l2 6M1029 586l0-2 5-1 5-3M1034 625l-5 1M1037 640l-7 0M1030 732l1-1 9 0M1030 555l2 6M1030 555l4-6 -1-6M1031 592l1 1M1031 701l9 1M1034 684l-3-8M1038 672l-7 4M1034 656l-3-1M1037 640l0 5 -3 4 -3 6M1032 593l5 3 3 6 6 5 6 8M1052 593l-8 1 -7-2 -5 1M1041 561l-9 0M1033 521l3 2M1033 521l0-5 3-5M1033 543l1-1M1034 627l0-2M1037 620l-3 5M1048 546l-7-3 -7-1M1035 537l-1 5M1037 640l-2-7 -1-6M1034 656l6 1 5 0 4 5M1038 672l-2-5 -2-5 0-6M1034 684l1 1M1035 537l3-3M1040 701l-3-6 -1-6 -1-4M1035 685l8-3 6 0M1036 501l0 2 3 6M1036 511l3-2M1038 534l0-6 -2-5M1045 522l-4 0 -5 1M1052 615l-8 3 -7 2M1037 640l5 0M1054 532l-7 2 -4 0 -5 0M1044 671l-6 1M1039 509l3 0M1039 580l4 0M1039 580l0-5 4-6 0-5M1042 711l-2 1M1040 731l3 3M1040 731l0-9 2-2 0-9M1040 702l4 5M1040 702l0-1M1040 701l1-5 4-7 4-4M1043 564l-2-3M1041 561l-1-5 3-6 5-4M1042 509l1 6 2 7M1042 509l5 0 3-3M1042 640l6 5M1042 640l3-8 5-5 3-12M1042 711l1-2 1-2M1043 734l0 5 2 4M1043 734l4-4 6-2M1043 580l7 1 4-4M1052 592l-3-9 -6-3M1043 564l6-2 5 0M1044 707l4-2 4-2M1044 671l2 5 4 5M1049 662l-1 5 -4 4M1045 522l4 3 7 1M1046 742l4-2 5-2 8-1M1052 545l-4 1M1067 652l-6-2 -7 0 -5-2 -1-3M1048 645l3-3M1053 700l0-4 -1-5 -3-6M1049 685l0-3M1049 662l5 0 7 2M1049 682l1-1M1050 681l1 0M1050 506l5 3 3 4 4 5M1050 506l4-7 -2-8 -1-1M1057 696l-3-3 -3-8 0-4M1053 681l-2 0M1051 642l6 0 8-1M1051 642l0-7 4-3 1-8M1053 615l-1 0M1052 545l5 5 2 9 -5 3M1052 545l2-6M1052 593l1 6 3 10 2 5M1052 592l0 1M1056 705l-4-2M1052 703l1-3M1052 592l3-6 8-4M1064 691l-5-4 -6-6M1063 673l-5 6 -5 2M1053 728l7 5M1053 728l1-7 7-1 3 2M1053 700l4-4M1053 615l3 0M1054 539l0-7M1054 532l2-6M1054 577l4 3 5 2M1054 562l-1 6 1 9M1072 544l-6-2 -4-1 -8-2M1056 624l0-9M1058 614l-2 1M1062 521l-6 5M1060 709l-4-4M1066 702l-4 1 -6 2M1056 624l2 7 5 6 2 4M1064 691l-7 5M1063 613l-5 1M1060 733l3 4M1060 733l1-5 3-6M1060 709l3 5 7-1M1074 706l-7 3 -7 0M1063 673l-1-3 -1-6M1067 656l-3 5 -3 3M1062 521l0-3M1062 518l4-6 1-5 4-7M1069 524l-7-3M1063 582l1 0M1069 615l-6-2M1071 594l-1 4 -5 8 -2 7M1066 743l-3-6M1063 737l5-3M1067 675l-4-2M1066 691l-2 0M1068 585l-4-3M1064 582l2-8 1-9 1-5 1 0M1064 722l2 1M1065 641l5 4M1074 706l-5-3 -3-1M1066 702l1-6 -1-5M1068 734l-1-6 -1-5M1071 721l-5 2M1066 691l3-9 -2-7M1066 691l4 3 7 2M1067 675l4-2 8 0 3-2M1067 656l5 3 6 4 4 3M1067 652l0 4M1070 647l-3 5M1071 594l-2-5 -1-4M1079 577l-8 3 -3 5M1068 734l8-1M1072 528l-3-4M1084 517l-5 0 -6 5 -4 2M1078 618l-5-2 -4-1M1069 615l0 10 0 4 2 6 -1 9M1078 565l-6-2 -3-3M1074 547l-3 6 -2 7M1070 647l0-2M1070 644l0 1M1070 713l1 8M1070 713l5-5M1078 618l3 6 -2 5 -4 11 -5 4M1070 647l9-3 6 2M1075 723l-4-2M1084 517l-6-7 -3-5 -4-5M1084 489l-2 2 -6 3 -5 3 0 3M1071 594l5-2 5 1M1092 532l-4-1 -6 2 -6-1 -4-4M1072 528l2 9 -2 7M1072 544l2 3M1075 708l-1-2M1074 706l0-6 3-4M1093 557l-5-5 -7 0 -7-5M1089 543l-6 2 -8 1 -1 1M1079 711l-4-3M1077 731l-2-8M1079 719l-4 4M1079 735l-3-2M1076 733l1-2M1088 723l-6 3 -5 5M1077 696l4-2M1079 735l-2 8M1078 618l4-4 5-1 5-4M1095 561l-7 2 -5 3 -5-1M1079 577l-1-5 0-7M1079 719l5 3 3 1M1079 719l0-8M1089 583l-3-4 -7-2M1079 735l7-2 5 1M1082 710l-3 1M1092 609l-3-6 -5-6 -3-4M1081 593l3-5 5-2M1087 701l-2-5 -4-2M1081 694l4-7M1082 710l8 3M1087 701l-4 5 -1 4M1082 666l0 1M1088 650l-1 6 -5 6 0 4M1086 683l-2-5 -2-7M1082 669l0 2M1082 667l0 2M1103 658l-7 5 -6 0 -8 4M1095 670l-6 0 -7-1M1087 517l-3 0M1088 650l-3-4M1099 632l-4-1 -5 2 -2 7 -3 6M1094 693l-4-1 -5-5M1085 687l0-2 1-2M1100 680l-8 2 -6 1M1087 490l1 2 11 2 7 1 7 4M1094 702l-7-1M1087 517l-1 7 6 8M1091 513l-4 4M1088 723l-1 0M1090 713l-3 5 0 5M1091 727l-3-4M1088 650l6 1 3 4 8 1M1089 543l4 6 0 8M1094 534l-3 5 -2 4M1091 734l-3 8 1 2M1089 583l0 3M1101 569l-3 2 -4 5 -5 7M1106 602l-2-4 -7-7 -8-5M1094 711l-4 2M1092 733l-1 1M1101 516l-6-3 -4 0M1091 513l-1-5 2-4 5 2 9 1 6-1M1092 733l-1-6M1091 727l3-3M1094 534l-2-2M1092 609l5 0 5-3M1092 733l6 0 3 2M1095 561l-2-4M1106 535l-7 0 -5-1M1095 713l-1 5 0 6M1094 724l6-2M1094 702l1 1M1094 702l0-9M1094 711l1 2M1095 708l-1 3M1094 693l2 0 6 2M1095 708l0-5M1095 703l6-2 4-2M1100 680l-2-5 -3-5M1103 658l-2 6 -6 6M1100 563l-5-2M1095 708l5 1 5-1M1098 715l-3-2M1098 715l3 6 -1 1M1104 715l-6 0M1099 632l8 4M1102 606l2 7 -2 10 -3 9M1100 680l3 1M1100 563l1 4M1100 563l3-5 6-4 2-5M1103 733l0-6 -3-5M1100 744l4-4M1106 530l-3-8 -2-6M1112 508l-5 1 -6 7M1104 740l-3-5M1101 735l2-2M1101 569l6 6 3 6 3 6 5-4M1101 569l0-2M1119 568l-5-2 -9 1 -4 0M1106 604l-4 2M1102 695l3 4M1105 683l0 5 -3 7M1103 733l1-1M1103 681l2 2M1103 681l3-4 5-7 6-6M1103 658l2-2M1104 715l3 6M1104 715l2-3M1104 740l1 1M1107 721l-1 0 0 5 -2 6M1116 727l-7 2 -5 3M1105 683l4 4M1109 741l-4 0M1105 741l2 3M1105 656l6-1 5 4 1 3M1111 702l-6-3M1109 687l0 5 -4 7M1106 712l-1-4M1111 702l-6 6M1117 625l-4-9 -1-4 -6-8M1106 602l0 2M1112 716l-6-4M1109 538l-3-3M1106 535l0-5M1118 513l-4 8 -4 1 -4 8M1110 600l-4 2M1114 497l-4-3 -3-7M1111 720l-4 1M1107 636l0 6 4 4 7-2 4-6M1117 625l-6 5 -4 6M1113 744l-4-3M1120 732l-4 6 -7 3M1109 538l1 6 1 5M1123 531l-5 6 -9 1M1119 690l-5-2 -5-1M1110 600l4 5 7 3 9 9 3 4M1110 600l2-2M1111 720l4 3M1111 720l1-4M1112 702l-1 0M1111 549l6 1 6 2 6-2M1116 709l-4 7M1112 506l0 2M1113 499l-1 7M1116 709l-4-7M1121 693l-4 4 -5 5M1118 513l-6-5M1114 497l-1 2M1120 493l-6 4M1115 723l1 4M1115 723l2-6 6-4M1122 712l-6-3M1118 729l-2-2M1117 664l3 7 1 7M1117 664l0-2M1117 625l2 0M1117 662l3 0M1117 475l4 12 -1 6M1119 568l-2 6 1 9M1118 583l6-2 4-2M1126 516l-8-3M1120 732l-2-3M1128 717l-1 2 -4 4 -5 6M1119 625l3 4 1 5M1119 625l4-4 10 0M1119 568l4-1 6 2M1121 693l-2-3M1119 690l0-5 2-7M1120 472l2 2 7 4 7 7 5 2M1122 733l-2-1M1125 663l-5-1M1120 662l2 6 10 7 4 7M1120 493l4 1M1121 678l6 4 9 0M1122 712l3-5 4-5 0-7 -8-2M1122 733l1 7 1 5M1122 733l5-2 4 1M1122 638l8 2M1122 638l1-4M1122 712l1 1M1123 713l5 4M1123 634l5 0 6 1M1123 531l6 2 4 3M1126 516l-3 6 0 9M1135 493l-5 2 -6-1M1126 516l-2-7 1-8 -1-7M1125 663l7 5 7 1M1134 658l-5 2 -4 3M1126 463l8 3 9 5M1126 516l6-1 4-7M1135 715l-7 2M1128 579l4 2M1128 579l1-5 0-5M1129 550l3 2 6-2 9 1M1133 536l-5 5 1 9M1129 569l3-2 5 0M1130 640l-3 4 -2 6 7 1 5-3M1130 640l3-2M1139 741l-5-4 -3-5M1131 732l1-3 4-3M1131 589l4 4M1132 603l-6-3 -8-2 3-3 6-2 4-4M1131 589l1-8M1132 603l3 7M1132 603l3-4M1132 581l6 0 4 1M1133 536l3-2M1133 621l2 0M1133 638l5 7M1134 635l-1 3M1134 658l7 3 8-2M1134 658l4-7M1137 630l-3 5M1135 621l2 4 0 5M1135 621l1-2 0-5 -1-4M1135 599l1-4M1135 599l6-1 4 2 4-6 4-2M1136 508l1-7 -2-8M1141 487l-6 6M1135 448l1 0M1146 712l-5 0 -6 4 0-1M1145 702l-5 5 -6 2 1 6M1136 595l-1-2M1135 593l4-6 4-4 -1-1M1135 610l4-4 5-1 5 3M1136 448l5 5 8 1 4 5M1136 448l5-5 5 0 7 1 6 3M1148 735l-7-3 -5-6M1148 735l0-5 0-5 -5 0 -5-3 -2 4M1136 745l3-4M1139 679l-2 4 -1-1M1136 595l7-4 8 0 2 1M1148 546l-4-6 -3-2 -5-4M1136 534l4-4 2-5 5 0M1136 508l7 1 8 0M1137 630l5 3 6 2M1137 567l4 3 3 4 -2 8M1149 556l-4 3 -5 5 -3 3M1138 651l-1-3M1137 648l1-3M1137 691l4 2M1138 651l5 2 5 2M1148 644l-5-1 -5 2M1139 669l2 5 -2 5M1153 678l-7-1 -7 2M1148 664l-5 2 -4 3M1149 739l-4 0 -6 2M1141 693l3 4 1 5M1141 693l5-3 5-1M1141 487l3-2M1143 471l-2 6 3 8M1143 471l6-5 4-6M1148 487l-4-2M1145 702l7 1 9-1M1145 702l0 6 1 4M1149 715l-3-3M1147 551l2 5M1148 546l-1 5M1147 525l3 5 2 4 2 7M1147 525l3-5 5-2M1148 635l1 1 2 4M1152 619l-1 6 -1 3 -2 7M1149 659l-1-4M1148 655l2-5 -2-6M1148 735l1 4M1153 678l-3-8 -2-6M1148 664l1-2M1148 546l6-5M1151 640l-3 4M1148 487l4 2 4 6M1148 487l7-4 5-6 6-3M1152 619l-5-2 2-5 0-4M1149 608l7-3 4-4M1152 740l-3-1M1149 715l2 5 5 1 5 0M1149 715l3-3 5-3M1162 671l-7-3 -6-6M1150 660l-1 2M1150 660l-1-1M1150 556l-1 0M1150 556l2 5 5 7M1164 552l-9 0 -5 4M1150 660l7-3 6-2M1151 640l7 2 1 8 4 5M1151 689l8 1 6 6M1151 689l2-4 1-7M1160 444l-6-5 -1-3 -2-2M1151 509l2 5 2 4M1151 509l3-8 2-6M1153 746l-1-6M1160 736l-4 1 -4 3M1152 619l8 0 3 4 2 2M1153 592l2 0M1153 460l0-1M1159 447l-5 4 -1 8M1153 678l1 0M1153 460l3 3 5 1M1154 541l4-1M1157 678l-3 0M1160 601l-3-6 -2-3M1158 587l-3 5M1155 518l3 1M1173 510l-6-6 -5-6 -6-3M1161 681l-4-3M1157 678l2-3 3-4M1157 568l0 1 1 8 -1 5 1 5M1169 564l-7 3 -5 1M1161 721l-2-8 -2-4M1157 709l4-7M1165 550l-6-4 -1-6M1164 535l-6 5M1158 587l7-1 4-1M1164 530l-2-8 -4-3M1158 519l5-4 6-1 4-3M1159 447l1-2M1160 445l4 4 5 4 4-1 2 8M1160 444l0 1M1167 440l-7 4M1160 736l7 2 4 1 6-2M1160 736l1-6 3-6M1160 601l4 3 7 0M1165 696l-3-9 -1-6M1161 681l4-1 5-1M1161 702l2-1M1161 721l1 0M1166 474l-2-5 -3-5M1161 464l7-3 7-1M1164 724l-2-3M1162 721l2-5 2-3M1162 671l4-2M1167 440l-2-8 -3-3M1163 701l0 1M1163 701l2-5M1172 653l-9 2M1163 702l5 3 9 4M1166 713l-3-4 0-7M1164 535l3 4 5 1M1164 530l0 5M1164 724l2 0M1176 526l-6 4 -6 0M1164 552l1 7 4 5M1165 550l-1 2M1165 550l5-4 4 0M1165 696l0-4 4-6 1-6M1165 696l7-1M1165 625l1 8M1165 625l5-1M1166 633l-1 3 2 2M1188 636l-8 0 -5-4 -9 1M1172 476l-6-2M1166 669l5 5M1178 662l-4 3 -8 3 0 1M1166 724l8 6 6 3M1166 724l4-3 6-2 -7-6M1169 713l-3 0M1173 439l-6 1M1177 640l-4 0 -6-2M1171 646l-4-8M1169 585l3 2 4 1M1169 585l2-7 5-6M1169 713l8-4M1172 565l-3-1M1170 494l2 7 0 4 1 5M1170 494l-6-2 2-7 4-2 2-7M1181 490l-6 0 -5 4M1170 680l0-1M1171 674l-1 5M1189 633l-8-3 -3-4 -8-2M1188 625l-4-4 -5-7 -2 5 -7 5M1170 680l4 3M1171 604l1 0M1171 604l2-7 2-4 1-5M1176 673l-5 1M1172 653l-1-7M1171 646l6-6M1172 565l4 2M1172 565l0-5 3-8 1-5 -2-1M1178 418l-6-1M1172 695l4 6 4 8M1186 701l-7-1 -7-5M1172 695l4-4M1172 476l7 1M1172 604l7 5 1-1 1-7 5-4M1172 604l4-2 3-5 0-4M1172 653l4 2 2 7M1172 653l5-1 4-2 6-4 2-8M1174 546l-2-6M1172 540l3-5 4-2M1173 439l6 5M1173 439l2-6 1-1M1173 511l0-1M1174 511l-1 0M1175 512l-1-1M1176 508l-2 3M1176 691l-2-8M1174 683l6-3M1175 460l2 1 1 1M1191 515l-6-1 -4 0 -6-2M1177 523l-1-6 -1-5M1176 526l3 7M1177 523l-1 3M1176 567l0 5M1176 567l4 0 4-3M1176 572l3 5 2 3M1181 490l-2 7 0 3 -3 8M1194 500l-6 2 -5 3 -7 3M1182 676l-6-3M1179 663l-2 6 -1 4M1176 588l3 5M1176 588l3-2M1176 691l3-1M1188 525l-6-3 -5 1M1180 709l-3 0M1177 429l2-4 0-6M1177 737l0 6 2 3M1177 737l3-4M1177 640l5-2 6-2M1178 401l7 4M1179 477l-3-9 2-6M1185 460l-7 2M1178 662l1 1M1179 746l-1 1M1179 419l-1-1M1185 405l-6 6 -1 7M1179 533l6 1M1183 747l-4-1M1198 433l-7-5 -7-3 -5-6M1179 444l0 1 2 9 6 3M1187 443l-8 1M1185 590l-6-4M1179 586l2-6M1185 593l-6 0M1186 481l-7-4M1179 663l9 0M1179 690l8 1 3 4M1179 690l2-4M1181 710l-1-1M1180 733l2-1M1180 680l1 6M1182 676l-2 4M1181 383l3 7 7 4M1191 372l-4 7 -6 4M1186 485l-5 5M1185 718l-1-4 -3-4M1181 710l3-6 2-3M1181 686l6-3 7 0M1181 580l5 0 3-1M1189 736l-7-4M1182 732l3-6 0-6M1182 676l1 0M1183 676l4 3 6 2 1 2M1183 676l0-7 5-6M1184 564l7 4M1189 549l0 1 -4 7 -1 7M1185 718l0 1 0 1M1185 718l5-5 3-3 4-2M1190 472l-3-7 -2-5M1185 460l2-3M1188 525l-1 6 -2 3M1201 533l-7 1 -5 2 -4-2M1189 549l-2-1 -3-6 1-8M1186 597l0-1 -1-3M1185 593l0-3M1187 589l-2 1M1185 405l3-2M1185 720l6 1 5 1 6 3 1 4M1186 485l3 7 2 1 3 7M1186 485l0-4M1186 701l4-3M1186 481l4-2M1192 597l-6 0M1193 591l-6-2M1187 589l1-3 5 0M1188 457l-1 0M1187 443l2 7 -1 7M1197 437l-5 2 -5 4M1188 403l3 4 9 6 3 4 -2 7 -1 3 -2 6M1188 403l1-2M1190 523l-2 2M1196 661l-3-1 -5 3M1191 630l-3-5M1188 625l2-5 -1-5 2-7 5-1M1192 458l-4-1M1189 638l-1-2M1188 636l1-3M1190 740l0 5 -1 2M1189 736l1 4M1189 736l5-3 7-1M1189 638l6 1 5 4 6 1M1189 549l5-4 4-2 6-3 -1-6M1191 630l-2 3M1191 394l-2 7M1189 401l11 0 7 4 10-1M1189 579l4 7M1193 575l-4 4M1197 708l-4-4 -3-6M1190 698l0-1M1190 523l4 5 7 5M1190 523l1-8M1190 479l0-7M1190 472l-1-5 3-9M1190 697l0-2M1190 695l1-6 3-6M1203 696l-6 0 -7 1M1190 740l5 3 4 0M1190 479l3-1 6-3M1191 372l3 7 0 6 3 3M1191 365l0 7M1193 628l-2 2M1191 515l5-6 6-1M1191 568l2 7M1191 568l5-2 5-3M1191 365l7 2 3 3 5 5M1191 394l6-6M1192 458l3-1 0-5 2-7 0-8M1196 606l0-5 -4-4M1192 597l2-4 -1-2M1193 591l0-5M1193 628l7 1 2 7 6 2M1199 619l-1 5 -5 4M1193 575l4 2M1196 585l-3 1M1194 500l5 3 3 5M1199 619l-3-6 0-6M1196 607l0-1M1202 669l-4-3 0-3 -2-2M1207 649l-4 3 -5 4 -2 5M1209 601l-5 2 -8 3M1201 587l-5-2M1197 577l-1 8M1197 388l6-1M1200 577l-3 0M1199 436l-2 1M1197 708l5-1 5 2M1199 436l-1-3M1199 436l5 2M1220 487l-5-4 -12-3 -4-5M1199 475l6-5 2-6 3-2M1199 743l0 5M1200 742l-1 1M1199 619l8-2 6 0M1206 584l-2-5 -4-2M1200 577l2-4 4-4M1200 742l6 0 6 3M1201 732l1 4 -2 6M1201 563l5 6M1201 563l0-3 3-5 8-4M1203 729l-2 3M1209 601l-5-5 -5-4 2-5M1206 584l-5 3M1201 533l2 1M1202 669l7 2M1202 669l1 6 4 5M1202 508l1 0 5 5 4-1 8-1 4-1M1203 685l4-5M1203 534l5-4 1-8 5 2 6 3M1203 387l6 2 7 4M1206 375l-3 6 0 6M1207 709l-5-7 1-6M1215 695l-4-2 -4-3 -2 0 -2 6M1203 729l5 2M1204 438l6 4 3 6M1204 438l4-4 3-2M1207 648l-1-4M1206 644l2-6M1206 569l5 1 1-1M1211 585l-5-1M1206 375l4 2 5 0M1206 375l4-6 1-3M1207 680l3-1M1217 724l0-2 -5-7 -5-2 0-4M1207 709l6 0 4 1M1207 709l4-5 5-6M1207 649l4 6 7 3M1207 648l0 1M1207 648l6-4 7-1M1208 731l2 1M1217 724l-3 4 -6 3M1208 638l2-1M1209 671l1 8M1214 669l-5 2M1209 601l2-3 -1-6 1-7M1209 601l3 2M1220 641l-5 0 -5-4M1210 637l0-4 3-5M1210 732l4 2 5 0M1212 745l-1-6 -1-7M1210 497l5-4 5-5M1210 462l3 5 7 7 3 2M1210 462l3-7M1217 679l-7 0M1211 585l0-1 5 1 6-1M1211 432l2-2M1228 435l-4 0 -6-3 -7 0M1212 548l0 3M1212 548l-3-4 4-3 5-7 4-3M1212 548l5-3 8-1M1213 747l-1-2M1212 551l3 6M1225 578l-5-5 -8-4M1214 566l-2 3M1212 603l0 7 1 7M1225 600l-7 2 -6 1M1213 748l0-1M1223 634l-7-2 -3-4M1213 628l0-4 0-6M1213 455l0-7M1213 448l8-2 3-4 7-2M1213 617l0 1M1213 747l5-2 5 1M1220 411l-2 8 -2 6 -3 5M1221 428l-8 2M1213 455l7 3 9 2 7 0 6 2M1229 619l-6 0 -10-1M1217 674l-3-5M1214 669l0-7 4-4M1231 569l-4 0 -7-1 -6-2M1215 557l-2 5 1 4M1216 698l-1-3M1215 695l4-6M1229 559l-6 1 -8-3M1215 377l0 7 2 3 -1 6M1221 373l-6 4M1224 700l-8-2M1218 396l-2-3M1217 724l5 4M1217 710l5 4M1217 710l2-5 6-3M1220 411l-2-2 -1-5M1218 396l-1 8M1217 674l0 5M1226 666l-3 4 -6 4M1217 679l3 3M1218 366l1 1 2 6M1220 658l-2 0M1221 395l-3 1M1219 734l2 4M1222 728l-3 6M1225 693l-6-4M1219 689l1-7M1220 527l1 1M1220 527l1-4 5-4M1220 488l0-1M1223 476l-3 5 0 6M1242 679l-9-1 -4 4 -9 0M1229 494l-5-4 -4-2M1220 411l4 2M1220 643l3 3 2 5M1220 643l0-2M1220 641l3-7M1226 666l-4-5 -2-3M1225 651l-5 7M1231 394l-6 1 -4 0M1221 395l6-8 0-7M1222 531l-1-3M1221 528l5-4 7 1M1221 373l6 1 0 6M1223 746l-2-8M1221 738l6-5M1228 435l-3-3 -4-4M1224 413l1 8 -4 7M1227 536l-5-5M1222 714l0 4 4 3M1222 714l7-4M1226 594l-2-6 -2-4M1222 584l3-6M1222 728l1 0M1223 746l6-4 3-6M1223 476l5-4 5-4 5-1 1 10 -3 9 0 5M1231 631l-8 3M1223 728l4 5M1226 725l-3 3M1225 748l-2-2M1223 746l6-3 6 0 6-2M1224 413l1 1M1224 700l1 2M1224 700l1-7M1225 512l-1-2M1229 494l-2 7 -1 5 -2 4M1224 749l1-1M1225 748l0 1M1225 693l4-4 11-2 3-4M1235 413l-4 1 -6 0M1225 414l4 6 -1 4 3 7M1228 603l-3-3M1225 600l1-6M1225 578l6-5M1236 659l-4-5 -7-3M1225 651l5-4 5-2M1225 749l1 0M1232 548l-7-4M1225 544l2-8M1237 514l-6 1 -6-3M1226 519l-1-7M1230 704l-5-2M1226 519l4 3 3 3M1226 721l0 4M1230 719l-4 2M1239 672l-8-1 -5-5M1226 725l7 3M1226 594l6-3M1227 536l4-2 6-2 7 4M1238 385l-6-1 -5-4M1231 734l-4-1M1230 436l-2-1M1233 612l-2-6 -3-3M1228 603l6-1 3-3M1231 631l-1-7 -1-5M1233 612l-4 7M1229 494l2 0M1232 714l-3-4M1229 710l1-6M1232 564l-3-5M1232 548l0 7 -3 4M1237 724l-3-2 -4-3M1230 719l2-5M1243 697l-6 6 -7 1M1231 439l-1-3M1230 436l1-5M1232 736l-1-2M1233 728l-2 6M1236 397l-5-3M1231 394l4-5 3-4M1231 631l7 4M1231 431l2-3 5-2M1231 440l0-1M1231 439l7-3 3-6 5-2M1231 440l4 4 5 6 5 3M1237 502l-2-4 -4-4M1231 494l5-3M1231 573l0-4M1232 564l-1 5M1231 367l2 1 3 0M1231 573l5 2 4 4 0 1M1238 715l-6-1M1241 739l-5 0 -4-3M1232 548l5-1 4-2M1232 591l8 3M1232 591l3-5 5-6M1238 562l-6 2M1233 525l1 0 3-5 1-5M1244 612l-4-1 -7 1M1237 726l-4 2M1240 749l-6 0 -1 0M1235 413l-1 7 4 6M1236 397l-4 9 3 7M1235 645l5 6M1235 645l3-4 0-6M1235 413l8 3 4 6 4 2M1243 408l-3 3 -5 2M1236 397l7 0M1236 367l0 1M1236 368l6 0M1239 672l-4-6 1-7M1236 659l4-8M1236 491l7-2 6 1M1237 502l7 2M1237 514l2-5 -2-7M1243 735l-3-6 -3-3M1237 726l0-2M1237 599l5 1 5 3M1237 599l3-5M1237 514l1 1M1240 721l-3 3M1247 382l-4 1 -5 2M1238 562l7 1M1242 552l-5 6 1 4M1246 428l-8-2M1252 639l-5-2 -7-2 -2 0M1240 721l-2-6M1246 703l-2 6 -6 6M1238 515l7 0M1239 672l3 4 0 3M1240 749l-1 1M1240 748l0 1M1240 580l2 8 3 4M1240 651l1 0M1240 721l5 0M1240 748l2 2M1240 748l1-7M1240 594l5-2M1253 661l-5-8 -7-2M1241 651l7-6 5-2M1241 739l0 2M1243 735l-2 4M1241 741l7 2 2 2 6 1M1241 545l1 7M1241 545l5-4M1242 679l1 4M1242 552l4 6M1242 462l0 1 5 6 6 3 2 4M1245 453l-1 5 -2 4M1242 368l4 8 1 6M1243 368l-1 0M1243 397l2 4 -2 7M1245 395l-2 2M1243 735l3-1M1246 703l-3-6M1243 697l-1-6 3-6M1243 408l7 1M1245 685l-2-2M1245 515l1-5 -2-6M1249 490l-2 5 0 6 -3 3M1247 539l-3-3M1244 536l2-9 -1-5 1-6M1244 612l4 5M1244 612l3-7M1249 725l-4-4M1252 709l-2 6 -5 6M1249 566l-4-3M1246 558l-1 5M1245 592l1 1 2 5M1255 686l-6 1 -4-2M1245 453l0-9 3-6 -1-10M1245 453l6 0 5-4M1245 395l3 6 5 4M1250 386l-1 6 -4 3M1246 516l-1-1M1246 703l2 4 4 2M1254 515l-8 1M1246 734l6 1M1246 734l0-6 3-3M1262 374l-4-1 -9-3 -3-2M1246 541l7 5 2 6M1246 541l1-2M1247 428l-1 0M1255 552l-3 3 -6 3M1247 539l3-2 1-10 3-7 0-5M1250 386l-3-4M1247 428l4-4M1247 605l0-2M1247 603l1-4M1259 605l-6-1 -6 1M1248 599l0-1M1256 595l-8 3M1248 599l4 1 5-1M1256 632l-3-3 -3-8 -2-4M1259 616l-5 0 -6 1M1249 566l-2 4 3 5 3 1M1258 558l-3 5 -6 3M1256 724l-7 1M1264 502l-5-4 -4-2 -6-6M1255 476l-4 8 -2 6M1255 386l-5 0M1250 409l2 3M1250 409l3-4M1251 424l0-6 1-6M1261 427l-5-2 -5-1M1262 412l-5 2 -5-2M1252 735l2 6 2 5M1252 735l6-2 2-4M1252 639l1 4M1252 639l5-4 -1-3M1252 709l3 1 3 6 -2 8M1257 398l-4 7M1258 662l-5 0 0-1M1253 661l4-7 -2-8 -2-3M1253 576l-1 6 1 6M1254 576l-1 0M1253 588l5 2M1253 588l3 7M1254 515l4-2M1267 581l-6-4 -7-1M1264 564l-5 7 -5 5M1255 386l0 1 2 5 0 6M1263 377l-3 4 -5 5M1255 686l3 6 1 6 6 8M1255 686l8-1M1265 477l-5-2 -5 1M1255 552l2 1M1261 728l-5-4M1256 596l0-1M1256 596l1 3M1256 596l3-2M1256 449l3 5 6 8M1258 448l-2 1M1256 632l6-7 -1-7M1258 748l-2-2M1258 558l-1-5M1265 548l-4 4 -4 1M1257 599l0 1M1263 404l-1-3 -5-3M1259 604l-2-4M1257 600l2-3M1257 751l1-3M1269 673l-4-7 -7-4M1258 662l7-1 5-5 6 4 1 8M1262 744l-4 4M1264 564l-6-6M1258 448l2 0M1258 448l-1-9 5-4 -1-8M1258 513l2 6 1 8 2 3M1261 511l-2 2 -1 0M1258 590l1 0M1258 590l4-2M1259 616l1-5 -1-6M1259 605l0-1M1259 590l4 4M1259 594l0-4M1260 617l-1-1M1259 594l0 1M1259 604l4-1M1259 597l0-2M1259 595l4 0M1263 370l-4-2M1262 599l-3-2M1260 617l1 1M1260 617l3-6 3-5M1260 448l2 3 7 6 4 3M1270 446l-5 0 -5 2M1260 729l0 6 2 9M1261 728l-1 1M1261 511l5 3 3 4 5 5M1263 507l-2 4M1270 725l-4 3 -5 0M1261 427l3-1M1261 618l5 1M1265 419l-2-5 -1-2M1262 412l-1-5 2-3M1263 377l-1-3M1262 374l1-4M1263 603l-1-4M1262 599l1-4M1262 588l3 5M1267 581l-5 7M1265 744l-3 0M1263 377l8 1M1273 405l-2 0 -8-1M1263 594l0 1M1264 368l-1 2M1269 595l-2 3 -4-3M1263 531l6 2 5-2 6 0M1268 542l-4-3 -2-5 1-3M1263 530l0 1M1274 523l-6 2 -5 5M1265 593l-2 1M1263 507l10 4 7 2 9 4M1264 502l-1 5M1264 603l-1 0M1263 685l2 5 1 3 2 7M1263 685l2-1 0-7 4-4M1278 565l-8 1 -6-2M1266 606l-2-3M1264 603l6-3 8-1M1272 427l-8-1M1264 426l1-7M1276 492l-5 3 -7 7M1265 706l-2 3 4 5 4 6M1265 706l1-1M1277 410l-6 3 -6 6M1267 593l-2 0M1269 478l-4-1M1265 462l-2 8 2 7M1265 462l8-2M1278 565l-3-7 -7-3 -3-7M1265 548l3-6M1270 744l-5 0M1265 744l4-7 0-7 2-4M1266 705l6 2 4-1M1268 700l-2 5M1272 624l-6-5M1266 619l3-7M1266 606l2 2M1271 580l-4 1M1267 593l2 2M1271 580l-3 5 -1 8M1268 608l1 4M1275 606l-7 2M1268 542l4 0 4-2 4-3M1277 695l-3 4 -6 1M1273 612l-4 0M1269 673l4-3 4-2M1278 597l-5-2 -4 0M1269 478l5 7 2 7M1279 468l-4 6 -6 4M1270 446l5 3 3 4M1271 445l-1 1M1270 389l2 2M1270 389l-5 1 -4-1 3 4 2 5 6 1M1271 379l-2 4 1 6M1270 744l2 7 2 2M1270 744l5-2M1271 726l-1-1M1270 725l1-5M1271 378l0 1M1272 377l-1 1M1271 720l1-5 4-3 1-4M1283 443l-6 2 -6 0M1271 445l1-7 3-5M1271 720l5 0 5-2M1275 579l-4 1M1271 726l6 4M1271 379l8 5 5 3M1272 427l3 6M1284 418l-6 7 -6 2M1272 377l7 2 8-3 0-2M1274 369l0 2 -2 6M1273 401l-1-2M1272 391l0 8M1272 625l6 4 3 4M1272 625l-4 4 -1 4 2 9 6 4M1272 625l0-1M1272 649l3-3M1272 624l5-3M1284 387l-5 2 -7 2M1277 410l-4-5M1273 401l0 4M1277 461l-4-1M1286 405l0-9 -7 0 -6 5M1273 612l3 6M1275 606l-2 6M1274 523l8 0M1275 579l-1 4 2 8 2 6M1275 579l3-7 5-3M1275 606l3-2M1275 742l4 2M1277 730l-2 5 0 7M1281 435l-6-2M1275 646l2 0 4-6 0-7M1276 492l6 1M1277 621l-1-3M1279 606l-3 6 0 6M1276 706l1 2M1280 701l-4 5M1284 620l-7 1M1277 730l1 0M1281 413l-4-3M1277 708l6 0 4 3M1280 466l-3-5M1278 453l-1 8M1277 668l1 0M1277 695l3 6M1278 689l-1 6M1278 668l4 5M1278 668l3-6 7-6M1285 449l-7 4M1278 604l1 2M1278 604l0-5M1278 689l-2-1 3-7 3-8M1288 688l-5-1 -5 2M1278 730l5 4M1278 730l2-2M1287 374l-8-3 -1-2M1278 565l5 2M1279 598l-1-1M1279 598l-1 1M1281 608l-2-2M1291 597l-7 2 -5-1M1282 751l-3-7M1279 744l6-4M1279 468l6 2 4 3 2 6 -2 7M1279 468l1-2M1293 456l-5 5 -4 1 -4 4M1280 537l0-6M1282 523l-2 8M1280 701l6 1 4 2M1286 547l-4-3 -2-7M1291 538l-5-2 -6 1M1280 753l2-2M1280 728l7 1M1280 728l6-7M1289 630l-4 2 -4 1M1281 718l5 2 0 1M1281 718l2-5 4-2M1295 610l-8-2 -6 0M1281 608l3 5 0 7M1283 443l-2-8M1294 427l-7 4 -6 4M1284 418l-3-5M1286 405l-1 5 -4 3M1282 673l4 3 7 0 0 2M1282 493l4 10 0 7 4 7M1282 493l1-1M1282 751l3 0M1289 517l-3 4 -4 2M1283 567l0 2M1283 567l2-4M1283 569l6 5M1294 495l-5-1 -6-2M1289 486l-6 6M1286 739l-3-5M1283 734l6-1M1284 443l-1 0M1284 387l5 0M1289 621l-5-1M1292 422l-5-1 -3-3M1284 443l1 6M1284 443l5-1 5-7M1285 449l4 3 4 4M1285 562l0 1M1285 562l0-1 -1-9 2-5M1285 562l8-8 1-4 6-8M1297 560l-6 1 -6 2M1285 751l2 2M1285 751l4-4M1285 740l4 7M1286 739l-1 1M1293 539l-3 6 -4 2M1286 721l5 3M1288 656l-2-7M1286 739l2-1M1292 406l-6-1M1287 374l3-4M1287 729l1 1M1291 726l-4 3M1287 711l1 5 2 0M1290 704l-3 7M1288 688l4 6M1293 678l-2 5 -3 5M1288 656l4 3 6 5M1291 731l-3-1M1289 733l-1-3M1288 738l6 2M1288 738l2-5M1289 574l5 0 8 0 6 3 4 6M1293 584l-3-6 -1-4M1292 747l-3 0M1289 517l1 0M1290 733l-1 0M1294 638l-3-3 -2-5M1289 621l-1 4 1 5M1296 616l-7 5M1304 490l-1-3 -7 1 -7-2M1289 486l4-2 5-6 5-3M1289 387l0 3 4 6 4 5M1290 386l-1 1M1300 717l-5 2 -5-3M1290 716l2 6M1291 517l-1 0M1300 717l-5-5 -5-8M1293 701l-3 3M1307 390l-6 1 -5-5 -6 0M1300 374l-4 6 -6 2 0 4M1290 733l1 0M1291 724l0 2M1291 724l1-2M1294 734l-3-1M1291 733l0-2M1293 539l-2-1M1291 538l-1-9 3-3 -2-9M1291 597l5 5 -1 8M1291 597l2-6 0-7M1296 517l-5 0M1291 731l3-3M1291 726l3 2M1292 406l2 4 5 5M1292 406l5-5M1295 751l-3-4M1292 747l1-2M1300 719l-8 3M1292 694l2 6M1300 688l-3 4 -5 2M1292 422l2 5M1299 415l-3 4 -4 3M1293 539l6 2 1 1M1293 753l2-2M1293 678l6 4M1299 747l-6-2M1293 745l1-5M1312 583l-4 3 -8-1 -7-1M1294 456l-1 0M1302 708l-4-5 -5-2M1294 700l-1 1M1294 734l1 5M1294 734l2-3M1294 495l5 6 2 3 5 3M1304 490l-3 3 -7 2M1294 435l2 5 5 6M1294 435l1-8M1309 695l-7 2 -8 3M1294 427l1 0M1294 456l5 5M1294 456l4-7 3-3M1294 638l-1 6 7 4 3 1 9 4M1299 636l-5 2M1294 728l1 0M1294 740l1-1M1294 740l8 4M1295 427l5 2M1295 751l2 1M1295 728l0 1M1299 722l-4 6M1298 737l-3 2M1296 616l-1-6M1295 729l5 1M1296 731l-1-2M1296 731l1 1M1308 622l-6-3 -6-3M1296 517l5 6 4 4 7 1M1306 507l-5 3 -5 7M1297 401l4 4 4 0M1309 569l-5-5 -7-4M1297 560l5 1 7-1 5-1 0-4 0-6M1297 560l4-3 3-6 3-4M1297 752l2 1M1297 752l2-5M1298 737l-1-5M1297 732l4 0M1298 664l0 5 6 2 6 4 4 1M1298 664l5-6 3-1 6-4M1303 737l-5 0M1301 413l-2 2M1299 747l4-1M1299 370l1 4M1299 722l2 7M1300 720l-1 2M1313 642l-6-1 -8-5M1308 622l-3 4 -4 6 -2 4M1299 461l-1 4 1 6 4 4M1299 461l9-1M1299 682l1 6M1299 682l8-2 5 2M1300 717l0 2M1300 542l3 1M1302 714l-2 3M1304 726l-4-6M1300 720l0-1M1300 374l5 0 10 1 4 2M1312 723l-5 0 -7-4M1300 688l5 3 4 4M1301 732l-1-2M1301 729l-1 1M1304 736l-3-4M1301 413l4 5 5 1M1301 413l2-3 2-5M1305 445l-4 1M1301 729l2-1 1-2M1303 746l-1-2M1303 737l-1 7M1302 714l0-6M1312 702l-4 4 -6 2M1316 713l-6 2 -8-1M1304 736l-1 1M1309 747l-2 1 -4-2M1303 475l4-1 5 0M1307 547l-4-4M1312 530l-2 4 -2 4 -5 5M1303 754l1 0M1312 724l-8 2M1304 736l4-1M1304 490l1 0 5-4 3-3M1305 445l0 7 3 8M1305 445l2-1 5 0M1305 405l3-1M1308 506l-2 1M1310 601l-4-2M1314 549l-7-2M1307 390l-2 7 3 7M1310 388l-3 2M1317 406l-5-1 -4-1M1312 460l-4 0M1308 622l3 0M1308 506l4 5 9 5M1308 506l2-3M1311 743l-3-8M1308 735l1-2 4-3M1309 695l3 0M1309 747l7 4 2 3M1309 747l2-4M1324 501l-6 3 -8-1M1324 493l-7-1 -4 4 -3 2 0 5M1311 622l2-5 -1-11 -2-5M1315 600l-5 1M1321 406l0-8 -7-3 -4-7M1310 388l4-8 5-3M1310 419l5 7M1317 406l-6 7 -1 6M1311 743l8-1M1311 622l3 1M1323 449l-6 0 -5-5M1315 426l-3 2 -2 9 2 7M1312 583l8-3M1312 528l0 2M1321 516l-3 8 -6 4M1312 653l1-6 0-5M1312 682l2 6 -2 7M1315 676l-3 6M1312 653l2 1M1313 730l-1-6M1312 723l0 1M1316 718l-4 5M1312 695l1 1M1312 702l3 4 1 7M1313 696l-1 6M1312 474l1 9M1314 473l-2 1M1312 460l3 7 -1 6M1322 453l-4 4 -6 3M1312 530l8 5M1314 623l1 1 0 6 0 7 -2 5M1313 696l7-3 7 2 2 4M1316 731l-3-1M1313 483l4 4 6-4M1321 473l-7 0M1324 658l-3-3 -6-1 -1 0M1314 676l-1-9 2-4 -1-9M1315 549l-1 0M1314 676l1 0M1314 623l6-6 5-5M1325 550l-6 0 -4-1M1315 549l3-6 2-8M1315 426l1 0 0-4 5-4M1315 676l9-2 6 2M1315 600l4 4 6 5M1315 600l6-4 1-5M1316 718l4 3 6 5M1316 718l0-5M1316 731l4 4M1316 731l5 0 5-5M1324 711l-8 2M1317 406l4 0M1318 568l2 1 6-5M1319 371l0 1M1326 749l-5-3 -2-4M1319 742l1-7M1319 377l1-1M1319 371l0 1M1319 372l1 4M1339 395l-5-7 -7-4 -3-3 -4-5M1328 533l-8 2M1339 372l-2 1 -11 2 -6 1M1323 589l-3-9M1320 580l2-4 7 1M1320 735l7-1M1320 777l2-1M1321 516l4 0M1321 778l1-2M1321 418l7 4M1324 408l0 5 -3 5M1321 473l0 5 2 5M1325 472l-4 1M1324 408l-3-2M1322 453l2 6 0 4 1 9M1322 453l1-4M1326 597l-4-6M1322 591l1-2M1322 776l3-2M1337 592l-7-3 -7 0M1323 771l2 3M1330 487l-7-4M1323 754l3-5M1323 449l7-2M1324 408l7 0M1324 501l7 5M1324 501l0-8M1324 493l5-3M1324 711l6 4M1329 700l-4 5 -1 6M1324 658l7 5 3 7 2 0 4 6 8 4M1337 643l-1 0 -1 5 -8 5 -3 5M1325 609l0 2M1326 607l-1 2M1328 614l-3-2M1325 612l0-1M1325 516l2 4M1331 506l-3 7 -3 3M1325 472l4 0 5-3M1338 607l-6 3 -7 1M1325 757l5 2 7 4M1332 777l-7-3M1326 564l-2-8 1-6M1328 533l1 7 0 9 -4 1M1326 607l-1-6 1-4M1326 607l6-4M1326 749l3-2M1326 726l1 7M1329 723l-3 3M1331 599l-5-2M1326 564l4-3 5-1M1329 747l1-7 -3-6M1327 733l0 1M1327 520l0 5 3 6M1327 520l4-2 6 0M1327 733l5 0M1331 436l-3-3 -2-7 2-4M1336 415l-3 3 -5 4M1328 533l2-2M1335 625l-2-7 -5-4M1328 614l7-1 5 2 0-3M1329 747l6-1M1329 723l4 2M1330 715l-1 8M1329 699l0 1M1329 699l7-2 8 0M1329 700l3 3M1340 590l-4-3 -4-4 -3-6M1341 573l-7 3 -5 1M1329 490l4 6 4 2M1329 490l1-3M1337 533l-7-2M1339 479l-7 2 -1 4 -1 2M1332 715l-2 0M1331 436l0 5 -1 6M1330 447l1 1M1350 442l-8 2 -5 1 -7 2M1331 408l3 4 2 3M1331 408l5-5 3-8M1335 625l-6 4 2 7 0 5M1352 432l-8-2 -6-1 -2 3 -5 4M1331 686l5 3 4 0M1331 448l8 2 5 6M1334 469l-1-6 -3-10 1-5M1332 603l-1-4M1331 599l6-7M1331 506l3-1M1338 604l-6-1M1332 778l0-1M1332 777l2-1M1332 733l1 1M1333 726l-1 7M1332 703l6 1 4 1M1337 711l-5-8M1332 715l5 3M1332 715l5-4M1337 742l-4-8M1337 731l-4 3M1333 725l0 1M1333 725l1 0M1333 726l4 5M1339 726l-5-1M1338 719l-4 6M1334 505l2 2M1337 498l-3 7M1337 763l-3 5 0 8M1334 469l2 0M1340 569l-1-6 -4-3M1337 555l-2 5M1335 625l4 1 6-3M1342 752l-3-3 -4-3M1335 746l2-4M1336 507l4 0 4 4 6 2M1336 507l-1 6 2 5M1336 415l2 2 7 0 8-2 6-4M1336 469l1 5 2 5M1339 469l-3 0M1337 711l5-1M1344 736l-7 6M1341 536l-4-3M1337 533l1-7 5-6M1345 757l-4 3 -4 3M1337 498l7-3 6 2M1340 731l-3 0M1337 718l1 1M1343 713l-6 5M1343 520l-6-2M1337 643l7 6M1337 643l5-4 5-4M1337 555l-3-5 2-7 5-7M1337 555l7-3 4 2 3 3M1339 592l-2 0M1338 605l0-1M1338 604l2-7 0-4M1338 607l2 5M1338 607l0-2M1338 605l4 0M1338 719l4 2M1339 469l5 0 6 2M1344 456l-5 5 0 8M1339 726l1 4M1342 722l-3 4M1339 395l5 0 5 1M1344 482l-5-3M1340 593l-1-1M1340 590l-1 2M1344 736l-4-5M1340 730l0 1M1345 584l-5 6M1346 726l-6 4M1345 695l-5-6M1340 689l5-4 3-5M1349 596l-9-3M1340 612l5-4M1341 573l-1-4M1340 569l5-4 4-4 2-4M1341 573l3 3M1342 536l-1 0M1344 664l-2 1M1342 722l0-1M1344 719l-2 2M1346 726l-4-4M1348 546l-2-6 -4-4M1354 531l-6 2 -6 3M1345 756l-3-4M1342 752l1-6 5-6M1342 710l0-5M1344 698l-2 7M1342 486l2-4M1344 711l-2-1M1345 608l-3-3M1342 605l3-2 3 0M1343 372l2 3 2 1M1343 713l1 6M1344 711l-1 2M1352 516l-4 2 -5 2M1344 719l7 1 2 2M1345 736l-1 0M1344 649l6 1 5-1M1345 663l-4-6 3-8M1344 711l2 0M1347 480l-3 2M1344 664l7 3 5 2M1344 664l1-1M1348 456l-4 0M1344 697l0 1M1345 695l-1 2M1344 576l2 2M1344 576l4-7 5-2 3-5M1353 703l-4-1 -5-4M1345 757l3 3 2 6M1345 757l0-1M1345 736l2 2M1349 730l-4 6M1345 663l3-3 5-4M1345 695l5-3 2-5 0-5M1347 631l-2-8M1345 608l4-1M1345 756l6-3M1352 610l-2 6 -5 6 0 1M1345 623l7-3 7 0 5-1 1 3M1345 584l5 3 6 4M1346 578l-1 6M1349 727l-3-1M1346 578l3 0M1346 711l2 1 7 1 1 1M1346 711l7-6M1347 635l0-4M1347 631l5-1 7 0M1348 740l-1-2M1347 738l4-1M1358 643l-6-1 -5-7M1353 485l-6-5M1347 480l3-8M1347 376l1 5 -1 10 2 5M1362 376l-1 1 -5-3 -9 2M1352 744l-4-4M1352 682l-4-2M1348 456l1 1M1350 442l-3 8 1 6M1349 607l-1-4M1349 601l-1 2M1349 596l0 5M1349 596l4-4 4 0M1352 610l-3-3M1349 457l3 3 1 6 -3 5M1360 443l-4 4 -4 5 -3 5M1353 399l-3-3 -1 0M1349 730l0-3M1349 727l5-4M1349 730l5 3M1349 578l7 2M1349 578l4-2 5-7 4-4M1366 607l-4-1 -9-4 -4-1M1350 471l0 1M1354 439l-4 3M1350 472l5 2M1350 513l1-5 -2-5 1-6M1352 496l-2 1M1352 516l-2-3M1360 760l-3-4 -6-3M1351 753l3-4M1365 545l-4 3 -5 4 -5 5M1356 562l-5-5M1351 737l3 2M1354 733l-3 4M1366 607l-8 4 -6-1M1358 770l-6-1M1352 432l2 7M1352 432l1-5 7-5 3-7M1352 744l2 3M1352 744l2-5M1355 681l-3 1M1361 520l-5-1 -4-3M1352 496l6 2 6 5M1352 496l0-7 1-4M1359 411l-1-7 -5-5M1353 399l6-5 4-2 5-2 -3-6 0-5M1353 703l0 2M1353 703l2-3M1353 485l7-3M1353 656l3 4 5 1M1355 649l-2 7M1359 707l-4-1 -2-1M1354 723l-1-1M1356 719l-3 3M1354 739l5-1M1354 723l6 3M1354 723l2 5 -1 5M1354 439l6 4M1354 531l1 6 -1 6 5 2 5-1M1354 531l4-6 5-2M1354 749l1 0 6-1 4 0M1354 747l0 2M1354 733l1 0M1354 747l6-7M1355 649l3-4M1355 700l6 1M1355 700l1-6 1 0M1355 681l3 3M1355 681l4-6M1355 733l4 3M1360 482l-2-4 -3-4M1355 474l4-4 7-1M1355 733l5-6M1356 669l3 6M1356 669l3-2 2-6M1356 714l0 5M1361 718l-5 1M1362 565l-6-3M1357 592l-1-1M1356 580l1 7 -1 4M1356 714l6 0M1360 711l-4 3M1356 580l4-3 5 0 4 2 2 5M1357 592l3 3 5 1 5 2M1361 701l-4-7M1359 693l-2 1M1358 645l4 5 2 5 4 5M1358 643l0 2M1361 771l-3-1M1358 770l0-7 2-3M1358 643l4-1M1358 684l9 1M1358 684l2 6 -1 2M1359 693l3 3M1359 692l0 1M1359 675l5-1M1359 736l0 2M1362 732l-3 4M1359 630l1 6 2 6M1365 622l-3 4 -3 4M1359 411l3 3M1359 738l0 1M1359 692l7 0M1360 711l-1-4M1361 705l-2 2M1360 740l-1-1M1365 736l-6 3M1364 742l-4-2M1360 779l1-7M1360 726l0 1M1360 726l4-4M1363 484l-3-2M1360 443l6 2 2-6 5-7M1360 711l2 3M1360 779l7-1 2-4M1360 711l4 0M1362 728l-2-1M1360 760l1 1M1361 771l0 1M1361 771l0-2M1361 718l3 4M1361 718l2-3M1361 701l1 0M1361 661l7-1M1367 763l-6-2M1361 769l0-8M1361 705l3 3M1361 705l2-2M1367 764l-6 5M1369 771l-8 1M1361 520l2 3M1361 520l3-5 2-8M1362 730l0-2M1362 728l7-2M1362 642l7-3 5 0M1362 714l1 1M1371 561l-7 5 -2-1M1367 730l-5 0M1362 730l0 2M1362 701l1 2M1362 701l1-3M1362 414l1 1M1362 414l4-5 3-6 7-8 4-2 5 0M1366 735l-4-3M1367 732l-5 0M1362 376l3 3M1362 376l1-4M1362 696l1 2M1366 693l-4 3M1363 484l-1 5 5 4M1363 484l2-2M1363 703l2 0M1364 711l-1 4M1363 715l1 1M1363 415l4 2 2 3M1363 523l4 3M1366 698l-3 0M1364 708l3 0M1364 711l0-3M1365 748l-1-6M1364 742l1 0M1366 722l-2 0M1366 718l-2 4M1367 685l-3-4 0-7M1364 674l6-4 5-1 1-1M1367 753l-3 2M1364 711l4 0M1365 716l-1 0M1368 712l-4 4M1364 544l1 1M1364 544l2-4 0-9 1-5M1364 503l2 4M1364 503l1-5 2-5M1365 545l4 4 4 5M1365 622l4 4 5 7 1 4M1366 718l-1-2M1368 715l-3 1M1365 748l1 1 2 2M1378 490l-6-2 -7-6M1365 482l4-6M1371 742l-1 0 -5 0M1367 738l-2 4M1365 379l6 0 7 2 7 2M1367 738l-2-2M1366 735l-1 1M1366 469l-1-5 0-5M1367 708l-2-5M1365 703l3 0M1365 786l6 0M1366 698l3 4M1368 696l-2 2M1366 718l1 0M1366 469l2 3M1366 607l1 0M1366 693l0-1M1367 691l-1 1M1367 734l-1 1M1366 693l2 3M1369 726l-3-4M1368 721l-2 1M1381 506l-4-2 -6 1 -5 2M1370 692l-3-1M1367 685l-1 4 1 2M1367 526l8 1M1370 738l-3 0M1369 756l-2-3M1367 753l1-2M1367 764l0-1M1367 763l2-4M1367 607l0 4 7 1 6 7 9 5M1367 607l3-3 0-6M1367 493l9-1 2-2M1367 685l1 0M1367 708l1 1M1367 730l0 2M1367 730l3-4M1367 734l1 0M1367 732l0 2M1370 768l-3-4M1367 718l1 1M1367 718l3-2M1371 731l-4 1M1375 662l-7-2M1368 721l0-2M1371 721l-3 0M1368 696l3 1M1368 711l0 1M1368 709l0 2M1368 719l3 1M1371 750l-3 1M1368 715l0-3M1374 713l-6-1M1370 716l-2-1M1370 707l-2 2M1369 476l-1-4M1368 472l5-1 10-5 5-1M1370 738l-2-4M1371 733l-3 1M1369 704l-1-1M1368 703l1-1M1373 687l-5-2M1368 685l4-5 2-6 1 5 0 6 -2 2M1369 774l2 7M1369 774l0-3M1369 759l0-3M1369 756l5 0M1369 420l6 3 12 2 6 0M1369 420l3 5 1 7M1370 726l-1 0M1371 770l-2 1M1369 476l5 1 6 4 4 2 4-7 3-7M1369 702l4 1M1371 697l-2 5M1369 704l4 1M1369 704l1 3M1375 761l-6-2M1370 716l3 0M1373 708l-3-1M1372 729l-2-3M1370 726l2-1M1370 692l1 5M1370 692l3-2 0-3M1371 770l-1-2M1370 768l6-7M1371 742l-1-4M1370 738l2-1M1370 598l3-2M1371 742l0 1M1373 771l-2-1M1374 751l-3-1M1371 750l2-4M1371 733l1 3M1371 731l0 2M1371 743l2 3M1375 740l-4 3M1377 565l-6-4M1373 554l-2 7M1371 584l0 7 2 5M1371 584l6-6 -1-7 1-6M1372 725l-1-4M1371 721l0-1M1371 720l2-3M1372 730l-1 1M1371 786l2 2M1371 786l0-1M1371 697l4 0M1371 781l0 4M1371 785l5-1 3-5M1371 781l3-5M1374 724l-2 1M1374 732l-2-2M1372 729l0 1M1375 729l-3 0M1372 736l0 1M1374 734l-2 2M1376 738l-4-1M1374 712l-1-4M1374 707l-1 1M1375 699l-2 4M1381 597l-8-1M1373 432l4-1 5 4 6 1M1373 687l4 2 5 2M1373 797l0-9M1384 795l-5-1 -6 3M1379 806l-1-6 -5-3M1374 707l-1-2M1373 705l0-2M1373 703l3 0M1373 746l2 0M1377 722l-4-5M1373 717l0-1M1373 716l1-1 0-2M1379 550l-6 4M1373 771l1 5M1373 771l9-2M1373 788l8-1M1374 707l2-1M1374 756l0-5M1379 751l-5 0M1375 732l-1 0M1374 732l0 2M1378 727l-4-3M1374 724l3-2M1382 715l-8-2M1374 712l0 1M1374 734l3 1M1374 756l2 1M1374 712l5-3M1380 651l-2-8 -4-4M1375 637l-1 2M1379 778l-5-2M1376 668l-1-6M1375 662l4-6 1-5M1389 625l-4 2 -4 6 -6 4M1379 751l-4-5M1376 744l-1 2M1377 735l-2-3M1375 732l2-1M1375 740l1 4M1376 738l-1 2M1379 550l2-7 -3-7 -3-9M1377 526l-2 1M1375 697l1 1M1375 697l2-2 3-1M1375 729l2 2M1378 727l-3 2M1376 761l-1 0M1375 761l1-2 0-2M1375 699l1 4M1375 699l1-1M1376 698l5 4M1376 761l5 4M1381 671l-5-3M1376 757l2-2M1379 806l-3 1M1377 738l-1 0M1376 706l0-3M1376 703l4 0M1376 706l3 1M1380 743l-4 1M1378 732l-1-1M1380 740l-3-2M1377 738l0-1M1377 565l3 1M1378 722l-1 0M1377 737l0-2M1377 735l1-3M1381 736l-4 1M1386 532l-5-2 -4-4M1380 522l-3 4M1378 727l0-5M1378 727l1 1M1378 722l2-1M1385 758l-1 0 -6-3M1379 751l-1 4M1378 490l6-1 3 4M1378 732l1 0M1380 729l-1-1M1379 728l1-2M1379 779l2 7M1379 778l0 1M1382 776l-3 2M1379 709l0-2M1379 707l1 0M1382 711l-3-2M1383 749l-4 2M1385 833l-4-5 -2-1M1386 550l-7 0M1381 734l-2-2M1379 732l1-1M1382 806l-1 0 -2 0M1380 703l0 4M1380 707l3-1M1380 740l0 3M1380 740l3-2M1380 822l1-1 5-5 7 3M1380 694l2 8M1388 701l-3-3 -5-4M1382 691l-2 3M1387 574l-4-5 -3-3M1380 566l6-3M1380 651l4-1 6 1M1381 724l-1-3M1381 719l-1 2M1380 731l0-2M1382 728l-2 1M1380 731l2 0M1384 726l-4 0M1381 724l-1 2M1381 702l-1 1M1381 743l-1 0M1382 510l0 5 -2 7M1380 522l8-2M1385 794l-4-7M1381 786l0 1M1383 749l-2-6M1384 742l-3 1M1381 724l3 1M1381 736l1 1M1381 736l0-2M1382 702l-1 0M1381 734l2 0M1381 786l6-3M1381 506l1 4M1381 506l4-6 3-5M1381 765l1 4M1381 765l4-7M1381 597l2 6 8 5M1382 596l-1 1M1381 671l4 5M1381 671l5-2 7-3M1384 720l-3-1M1382 715l-1 3 0 1M1385 833l-2 7 -1 2M1384 682l-2 3 0 6M1388 693l-6-2M1383 713l-1-2M1382 711l2-2M1382 776l0-7M1382 731l1 3M1385 730l-3 1M1382 806l4 3M1384 795l1 6 -3 5M1382 702l2 0M1382 769l2 0 6 6M1382 776l3 2M1382 596l6 2 8 0 11 0M1382 596l3-3M1382 728l3 2M1384 726l-2 2M1382 737l1 1M1382 737l1-2M1382 510l6 2 9-1M1382 715l5 2M1382 715l1-2M1386 712l-3 1M1384 738l-1 0M1384 750l-1-1M1384 702l-1 4M1384 709l-1-3M1387 706l-4 0M1383 734l0 1M1383 734l1-1M1383 735l3 1M1391 689l-3-5 -4-2M1384 682l1-6M1384 720l1 2M1384 720l3-2M1388 701l-4 1M1384 725l0 1M1386 728l-2-2M1386 708l-2 1M1384 742l0-4M1384 725l3 0M1385 722l-1 3M1384 750l2 5M1384 750l4-3M1384 733l2 2M1386 732l-2 1M1384 795l1-1M1386 738l-2 0M1384 742l4 5M1384 742l3-1M1385 393l2 3M1385 383l1 6 -1 4M1396 680l-6 0 -5-4M1385 778l2 5M1385 778l5-3M1386 755l-1 3M1386 759l-1-1M1388 582l-2 6 -1 5M1406 587l-7 1 -10 2 -4 3M1385 722l2 0M1386 732l-1-2M1386 729l-1 1M1388 794l-3 0M1385 383l5-4 1-6M1387 833l-2 0M1386 444l2 6M1386 444l-5 3 -5 0 -7 4 0 3 4 4 9 2 5 5 1 0M1388 436l-2 8M1388 733l-2-1M1391 761l-5-2M1392 766l-1 0 -5-7M1387 713l-1-1M1386 712l1-2M1386 728l0 1M1386 728l1-1M1388 729l-2 0M1386 737l0-1M1386 736l0-1M1387 553l-1-3M1395 542l-4 3 -5 5M1388 739l-2-1M1386 738l0-1M1396 567l-5 0 -5-4M1387 553l0 4 -1 6M1386 737l4-2M1389 799l-2 4 -1 6M1386 809l7-2M1387 710l-1-2M1387 706l-1 2M1386 755l2 0M1388 733l-2 2M1395 542l-5-6 -4-4M1398 525l-8 2 -4 5M1387 833l2 7 2 2M1390 832l-3 1M1387 574l-2 3 3 5M1395 569l-5 2 -3 3M1394 711l-2-1 -5 0M1387 713l1 3M1394 712l-7 1M1387 706l1-1 0-4M1387 783l2 0M1387 727l0-2M1387 741l1 6M1387 741l2-2M1387 727l3 0M1387 725l3 1M1387 725l0-3M1388 495l-1-2M1387 493l5-3 6 0 7-3M1387 717l0 1M1388 716l-1 1M1387 722l1 0M1388 718l-1 0M1399 565l0-2 -8-5 -4-5M1390 397l-3-1M1387 396l-3 8 0 7 5 1 5 7M1396 503l-3-6 -5-2M1392 759l-4-4M1392 753l-4 2M1390 733l-2 0M1388 729l2 3M1390 727l-2 2M1389 799l-1-5M1388 794l5-3M1390 467l-2-2M1388 520l5 1 5 4M1397 511l-4 4 -5 5M1388 693l3 5M1391 689l-3 4M1391 715l-3 1M1390 726l-2-4M1390 721l-2 1M1389 700l-1 1M1392 434l-4 2M1390 721l-2-3M1391 717l-3 1M1390 747l-2 0M1389 740l-1 7M1388 739l1 0M1388 739l2-4M1396 581l-8 1M1389 739l0 1M1389 783l1 1 6-6M1389 783l2-8M1397 633l-4-5 -4-3M1389 625l0-1M1392 620l-3 4M1396 709l-3-4 -4-5M1391 698l-2 2M1389 799l4 2M1393 740l-4 0M1403 405l-6-7 -7-1M1390 397l4-3 11-6 3-5M1391 469l-1-2M1390 467l4-8 2-4 6-6M1390 775l1 0M1390 733l0 1M1390 732l0 1M1390 721l1 0M1392 652l-2-1M1390 651l5-8 1-3 1-7M1390 734l0 1M1391 726l-1 0M1391 731l-1-4M1391 731l-1 1M1390 732l4 0M1392 735l-2-1M1390 727l1-1M1390 832l7 2 8 1M1390 832l1-6 2-7M1390 747l3 2M1390 747l5-6M1392 726l-1 0M1392 724l-1-3M1391 721l1-1M1404 471l-8-1 -5-1M1391 689l2-1 3-8M1391 608l3 6 -2 6M1391 608l4-1 7-4 4-2M1394 728l-3 3M1391 717l0-2M1394 712l-3 3M1392 720l-1-3M1392 766l-1-5M1392 759l-1 2M1397 698l-6 0M1391 775l3-1M1393 740l-1-5M1392 735l3 0M1408 617l-4 0 -7 3 -5 0M1392 759l6-2M1392 434l4 4 0 5 5 6 1 0M1394 431l-2 3M1394 728l-2-2M1392 726l0-2M1392 766l4 2M1393 653l-1-1M1392 652l5-5 9-5 5-2M1393 719l-1 1M1392 724l4-2M1392 753l6 4M1393 749l-1 4M1393 740l2 1M1393 749l4-1M1393 653l8 2M1393 653l1 5M1396 797l-3-6M1393 791l1-1M1393 666l3 1M1393 666l1-8M1408 383l-6-2 -5-7 -4-1M1393 807l0-6M1393 801l3-4M1397 721l-4-2M1395 714l-2 5M1393 425l1 6M1393 425l1-6M1393 819l3 0M1396 819l2-4 -1-5 -3-3 -1 0M1394 712l0-1M1394 712l1 2M1394 790l-1-2 4-4M1401 790l-7 0M1394 658l3 2 5 2M1394 711l2-2M1397 726l-3 2M1394 728l1 3M1394 419l3-2M1395 735l-1-3M1394 732l1-1M1396 778l-2-4M1394 774l3-4M1394 431l4 0M1399 717l-4-3M1396 581l1-7 -2-5M1395 569l1-2M1395 542l4 3 4 7 8 0M1395 542l4-3M1396 736l-1-1M1395 735l4-3M1395 731l4 0M1396 741l-1 0M1395 741l1-5M1396 778l2 2M1396 741l1 7M1396 741l8-1M1396 709l3-1M1396 736l3-1M1399 565l-3 2M1396 819l6 3M1399 679l-3 1M1403 585l-7-4M1397 726l-1-4M1396 722l1-1M1401 673l-5-6M1396 667l6-5M1401 799l-5-2M1397 511l-1-8M1396 503l6 0 6-4M1396 768l1 2M1396 768l1-1M1401 727l-4-1M1397 770l5 3 1 1M1409 637l-7-4 -5 0M1397 698l3 5 0 4M1401 681l1 6 -1 7 -1 0 -3 4M1397 417l6 3 9 3M1404 406l-4 7 -3 4M1397 784l6 0M1397 784l1-4M1397 511l4 3 5-3 4-8M1397 767l9 0 5-1M1397 767l2-4M1397 721l4 2M1399 717l-2 4M1398 748l-1 0M1398 748l0 1M1404 741l-5 4 -1 3M1414 442l-5-4 -6-5 -5-2M1409 426l-6 5 -5 0M1398 749l0 8M1398 749l4 0M1403 775l-5 5M1400 781l-2-1M1410 520l-4 0 -4 4 -4 1M1399 759l-1-2M1404 752l-6 5M1399 735l0-3M1399 731l0 1M1399 763l4 1 7 1M1399 759l0 4M1399 717l1 0M1413 550l-1-6 -8 0 -5-5M1419 534l-1 0 -4 2 -8-3 -5 2 -2 4M1401 727l-2 4M1401 681l-2-2M1399 679l2-6M1405 739l-6-4M1399 708l1 1M1400 707l-1 1M1401 566l-2-1M1399 759l8 0M1406 706l-6 1M1403 784l-3-3M1400 781l5-2M1400 709l5 6M1400 717l0-8M1400 717l3 0M1401 799l-1 2 3 5 3 4M1403 798l-2 1M1401 723l0 4M1403 721l-2 2M1405 671l-4 2M1401 655l3 7M1401 655l6-5 6 1M1403 798l-2-8M1405 788l-4 2M1401 566l8 0 3 2 5 1M1403 585l0-5 -2-7 0-7M1401 681l5 1M1401 727l3 1M1402 449l4 0 6-2 2-3M1404 662l-2 0M1402 822l3 4M1402 822l1-8 3-4M1404 752l-2-3M1404 741l1 3 -3 5M1403 798l7 3M1403 717l0 4M1403 717l2-2M1403 775l0-1M1403 774l4-4 4-4M1405 785l-2-1M1403 775l2 1M1403 721l6 2M1406 587l-3-2M1403 405l1 1M1403 405l4-7 6-4M1404 471l3 7M1404 471l4-5 4-1 6-3 5-1M1404 406l6 5M1404 741l0-1M1404 740l1-1M1406 752l-2 0M1404 662l1 1M1405 730l-1-2M1409 723l-5 5M1405 739l1-1M1405 835l4 5M1405 835l0-9M1413 796l-7-2 -1-6M1405 788l1-1M1405 785l0-6M1405 779l0-2M1405 785l1 1M1405 777l0-1M1405 776l7-4M1405 826l3-3 4-4 6-3M1405 671l0-8M1405 663l8-4M1405 777l4 2M1410 718l-4-3 -1 0M1405 671l4 0M1405 730l0 6 1 2M1405 730l8 0 4 2M1409 494l-4-7M1407 478l-1 4 -1 5M1406 787l0-1M1406 786l3-5M1409 787l-3 0M1406 738l2-1 7 2M1409 614l-3-5 0-8M1406 601l1-3M1406 587l2 1M1416 711l-8-1 -2-4M1413 697l-4 3 -3 6M1409 809l-3 1M1406 752l1 7M1406 752l2-1M1406 682l1 2M1406 682l5-3M1407 598l2-3M1408 760l-1-1M1415 686l-8-2M1407 684l4 6 -2 5 4 2M1407 478l9 3 6-1M1410 765l-2-5M1411 757l-3 3M1408 499l2 4M1408 499l1-5M1408 842l1-2M1408 383l4 1M1408 617l4 4 1 4M1408 617l1-3M1411 757l-3-6M1414 746l-3 2 -3 3M1408 588l1 1M1408 588l3-9 5-5 1-5M1417 839l-4 1 -4 0M1409 589l0 6M1430 588l-5 1 -11-2 -5 2M1420 601l-8-1 -3-5M1416 438l-6-5 -1-7M1412 423l-3 3M1409 671l2 5M1409 671l5-3M1411 723l-2 0M1409 809l7 4M1410 801l-1 8M1411 640l-2-3M1409 637l3-7 1-5M1413 793l-4-6M1409 787l4-2M1421 609l-6 4 -6 1M1409 781l0-2M1409 779l3-1M1409 494l8-2 5 1M1414 782l-5-1M1410 411l3 6 2 3M1421 407l-5 3 -6 1M1410 765l1 1M1419 534l-1-4 -3-4 -5-6M1414 517l-4 3M1410 801l3-3M1410 718l1 3M1410 718l2-3 4-4M1410 503l5 5M1420 725l-8-1 -1-1M1411 721l0 2M1411 676l0 3M1411 676l8-2M1411 679l1 0M1420 719l-5 1 -4 1M1414 759l-3 7M1412 757l-1 0M1413 768l-2-2M1411 640l2 5 1 5M1411 640l7-1M1418 569l-4-6 0-5 -3-6M1413 550l-2 2M1412 423l3-3M1413 394l1-5 -2-5M1412 384l4-3 3-3M1412 778l0-6M1413 770l-1 2M1414 759l-2-2M1417 754l-2-1 -3 4M1414 779l-2-1M1413 680l-1-1M1412 679l7-5M1417 550l-4 0M1414 665l-1-6M1413 659l0-1M1413 658l6 1 3 3M1413 651l0 7M1413 394l6 3M1413 798l0-2M1413 796l0-3M1413 697l4 0M1419 788l-6-3M1413 785l1-3M1413 798l2 4 5 4M1413 651l1-1M1413 798l5 0 5-1M1418 776l-5-6M1413 770l0-2M1415 768l-2 0M1419 789l-6 4M1413 680l2 6M1419 679l-6 1M1425 623l-5 2 -7 0M1418 747l-4-1M1414 746l1-6M1428 518l-7 0 -7-1M1415 508l0 5 -1 4M1418 782l-4 0M1414 779l0 3M1417 650l-3 0M1418 777l-4 2M1414 668l0-3M1414 665l9-1M1414 442l0 2M1416 438l-2 4M1419 448l-5-4M1414 668l4 2M1419 759l-5 0M1415 740l0-1M1415 739l3-3M1418 768l-3 0M1415 768l2-4 2-5M1415 740l7 4M1427 502l-6 3 -6 3M1418 421l-3-1M1419 689l-4-3M1418 816l-2-3M1420 806l-4 7M1428 426l-4 4 -5 6 -3 2M1416 711l1 0M1422 715l-5-4M1417 697l1 7 -1 7M1417 650l4 2 3 6M1427 648l-5 1 -5 1M1417 754l2 2M1418 752l-1 2M1418 736l-1-4M1421 727l-4 5M1418 697l-1 0M1417 550l5 3 5 2M1417 550l6-3 3-6M1418 569l-1 0M1419 843l-2-4M1417 839l5-3M1421 736l-3 0M1418 670l1 4M1418 670l5-5M1418 747l0 5M1418 752l4-2M1421 770l-3-2M1418 768l5-4M1418 697l4 3 9 3 4-4 5 0M1418 697l1-5M1418 783l0-1M1419 779l-1 3M1430 568l-6 3 -6-2M1419 779l-1-2M1418 776l0 1M1421 818l-3-2M1422 774l-4 2M1430 644l-4-3 -8-2M1430 630l-5 7 -7 2M1418 374l1 4M1427 425l-3-3 -6-1M1421 407l-3 6 0 8M1418 783l1 5M1423 782l-5 1M1418 747l3-1M1419 789l0-1M1419 692l0-3M1420 683l-1 6M1419 679l1 4M1419 679l1-4M1419 789l2 4 2 4M1419 757l0-1M1419 756l2-1M1419 759l0-2M1419 397l5 7M1419 397l6-1 5-6 -5-4 -1-5 -4-3M1419 378l1 0M1420 675l-1-1M1419 759l4 2M1426 757l-7 0M1419 534l5 0M1422 780l-3-1M1419 789l6-2M1423 461l0-8 -4-5M1426 446l-7 2M1426 689l-7 3M1420 806l2-4 6-2M1420 675l6 1M1420 725l0-6M1420 719l2-4M1420 725l1 2M1427 680l-7 3M1421 609l-1-8M1425 599l-5 2M1421 378l-1 0M1424 404l-3 3M1421 610l0-1M1422 750l-1-4M1421 746l1-1M1421 736l2 5 -1 3M1426 734l-5 2M1422 819l-1-1M1421 818l3-4M1421 727l4 1M1421 378l7 2 6-2 6 1 1 9 -3 5 3 7M1428 374l-7 4M1426 755l-5 0M1423 751l-2 4M1426 616l-5-6M1421 610l4-4 5-1M1421 770l1 2M1426 766l-5 4M1422 836l-1-4 0-8 1-5M1439 821l-4-1 -8-2 -5 1M1422 774l1 1M1422 774l0-2M1422 744l0 1M1429 740l-3 6 -4-1M1422 750l1 1M1422 662l1 2M1424 658l-2 4M1423 782l-1-2M1422 780l2-2M1422 772l5-1M1422 715l6 0 3 3M1427 500l-5-7M1422 493l1-5M1435 836l-7 0 -6 0M1422 480l1 8M1422 480l6-6M1423 761l0 3M1425 760l-2 1M1423 665l0-1M1426 786l-3-4M1428 751l-5 0M1423 797l5 3M1426 766l-3-2M1424 778l-1-3M1423 775l4-1M1424 665l-1 0M1424 462l-1-1M1438 487l-8-2 -7 3M1426 541l-2-7M1424 534l2-1M1424 665l1 1M1424 665l1 0M1424 778l3 0M1424 404l5 2M1424 462l4 5 0 7M1424 462l6-2 3-3M1424 658l4 0M1424 814l2-7 2-7M1439 807l-4 2 -7 4 -4 1M1425 760l4 3M1425 760l1-3M1428 668l-3-2M1428 673l-3-3 0-4M1425 599l5 3M1430 588l-3 5 -2 6M1425 623l5 6M1425 623l1-7M1425 665l4-7M1430 664l-5 1M1427 731l-2-3M1431 718l-3 6 -3 4M1425 787l3 4M1425 787l1-1M1426 446l4 1 5 4M1426 446l6-5 4-7M1426 786l5-5M1426 533l5 1 7-4 10 2M1428 518l0 6 -2 9M1427 680l-1-4M1426 676l2-3M1430 546l-4-5M1429 740l-3-6M1426 734l1-3M1442 693l-5 0 -6-4 -5 0M1429 682l-3 7M1426 766l1 5M1426 766l2-1M1426 757l1 0M1427 757l-1-2M1428 751l-2 4M1426 616l8-3M1427 778l0-4M1427 772l0 2M1430 759l-3-2M1427 502l0-2M1439 492l-6 6 -6 2M1427 680l2 2M1430 780l-3-2M1428 517l2-5 -1-7 -2-3M1427 731l4 0 4-2 4-6M1428 426l-1-1M1429 406l1 6 -3 6 0 7M1427 648l2 4 -1 6M1427 648l1 0M1427 772l0-1M1427 772l1 0M1427 555l4 5 -1 7M1427 555l3-4 0-5M1428 765l4 2M1428 765l1-2M1438 655l-7-2 -3-5M1430 644l-2 4M1429 799l-1 1M1428 751l1-1 2 0M1429 799l-1-8M1437 786l-4 3 -5 2M1428 673l0-5M1428 517l0 1M1433 676l-5-3M1428 673l5-1 3-3M1428 658l1 0M1437 519l-9-2M1428 772l2 1M1428 772l4-5M1430 664l-2 4M1428 668l8 0M1428 426l3 6 5 2M1428 426l8-5M1428 474l1 0M1434 764l-5-1M1430 759l-1 4M1435 660l-6-2M1429 474l2 5 8 4 -1 4M1429 474l8-3 4-3M1436 801l-7-2M1431 682l-2 0M1429 406l9-4M1432 748l-3-8M1429 740l7-2M1430 546l7 0 6-1M1430 568l6 2 4 5M1430 567l0 1M1430 567l1-6 9-11 3-5M1435 584l-5 4M1430 629l0 1M1430 629l3-6 6-3M1435 660l-5 4M1432 642l-2 2M1430 780l0-7M1430 773l4-1M1432 759l-2 0M1433 633l-3-3M1430 602l0 3M1430 602l6-2M1430 780l1 1M1434 613l-4-8M1440 686l-5-2 -4-2M1431 682l2-6M1431 718l3 1M1431 781l2 0M1437 754l-6-4M1431 750l1-2M1432 748l5-6M1434 764l-2-5M1437 754l-5 5M1432 767l2 3M1435 764l-3 3M1432 642l4 3 6 3M1432 642l1-5 0-4M1439 632l-6 1M1435 783l-2-2M1433 781l3-6M1437 669l-1 7 -3 0M1433 457l5 1 3 5M1436 452l-3 5M1434 719l5 4M1444 707l-4 5 -3 2 -3 5M1436 775l-2-3M1434 770l0 2M1439 768l-5 2M1434 613l1 0M1435 837l-1 6M1435 764l-1 0M1435 837l0-1M1435 836l2-5 0-4 2-6M1437 786l-2-3M1435 783l6-5M1435 584l2 7 0 6 -1 3M1435 584l2-5 3-4M1435 764l2 1M1435 837l5-2 6 1 7-1M1435 451l1 1M1435 451l1-9 1-7M1437 614l-2-1M1435 613l4-6M1436 662l-1-2M1435 660l3-5M1436 434l1 1M1436 452l6 1 5-3 3 5M1451 424l-7 2 -8-5M1436 421l3-4M1439 807l-3-6M1436 801l4-5 2-5M1439 607l-3-7M1436 668l0 1M1436 662l0 6M1437 669l-1 0M1436 662l6 0 8 4M1437 774l-1 1M1436 738l1 4M1436 738l1 0 5-4M1448 437l-6-1 -5-1M1437 754l2 0M1445 672l-5-2 -3-1M1437 519l4 6 3 2 4 5M1437 519l2-5 4-7 9-3M1437 742l5 7M1437 786l4 3M1437 765l2 3M1437 765l5-7M1438 615l-1-1M1437 614l5-1 4-4M1441 778l-4-4M1441 769l-4 5M1439 417l1-8 -2-7M1441 400l-3 2M1439 620l-1-5M1438 615l7 0M1438 655l1-1M1439 492l-1-5M1439 607l4-1M1439 723l3 2M1448 416l-4 1 -5 0M1439 620l1 1M1446 814l-2-4 -5-3M1447 498l-3-2 -5-4M1439 632l5 6 2 7M1439 632l5-3M1442 758l-3-4M1439 754l3-5M1439 821l3-5 4-2M1441 769l-2-1M1454 662l-4-4 -6 0 -5-4M1439 654l3-6M1447 600l0-5 -2-9 -2-9 -2-2 -1 0M1444 707l-4-8M1440 699l2-6M1440 621l1 4 3 4M1440 621l6-1M1440 686l3 6 -1 1M1445 674l-5 7 0 5M1442 791l-1-2M1445 779l-1 6 -3 4M1441 468l0-5M1441 463l3-3 5-4M1445 400l-4 0M1444 778l-3 0M1441 769l1 0M1451 475l-4-3 -6-4M1442 769l2-4 -1-7M1442 758l1 0M1442 769l5 1 7-3M1443 771l-1-2M1442 648l4-3M1457 813l-3-11 -2-3 -7-8 -3 0M1442 734l2 6 2 6M1442 734l2-3M1442 749l1-1M1442 725l2 6M1442 725l4-3M1443 606l3 3M1443 606l3-6 1 0M1443 771l5 2M1444 778l-1-7M1443 545l2-1 2-6 2-5M1452 755l-6-2 -3-5M1446 746l-3 2M1443 758l3 0 6-3M1444 778l1 1M1444 707l6 4M1445 629l-1 0M1444 731l6 4 6 0M1453 642l-4-7 -4-6M1445 629l4-2 6 0M1447 616l-2-1M1445 615l1-6M1445 674l3 2 5 3 8-1 -4-8 1-5M1445 674l0-2M1445 672l5-6M1448 416l-1-9 -2-7M1456 398l-5 0 -6 2M1445 779l9 2M1445 779l3-6M1446 722l5 2 7 0M1450 711l-3 6 -1 5M1449 609l-3 0M1447 645l-1 0M1446 746l3-1M1446 814l5 2 6-1M1446 620l2 1 5-4M1446 620l1-4M1447 616l4-1M1449 609l-2-4 0-5M1456 599l-9 1M1454 662l0-5 -4-5 -3-7M1453 642l-6 3M1452 503l-5-5M1447 498l1-6 -1-5 0-7 4-3M1448 416l5 5 -2 3M1449 532l-1 0M1448 773l4 0 5-4M1448 437l1 0 9 4 6-2M1448 437l4-5 -1-8M1449 533l0-1M1449 532l4-9 1-9 0-5 -2-5M1450 609l-1 0M1449 745l6 6M1449 745l2-7 5-3M1449 533l6 1 4 3M1449 456l1 7 2 4 2 5M1450 455l-1 1M1449 375l2 3 3 2 3 5M1450 711l4-3 3-4 4-6M1450 711l2 4 7 3 1 2M1450 609l1 2M1456 600l-3 4 -3 5M1450 455l8 0M1455 663l-5 3M1453 617l-2-2M1451 611l0 4M1453 481l-2-4M1451 477l0-2M1457 690l-6 1M1459 610l-8 1M1451 475l3-2M1454 755l-2 0M1452 504l0-1M1452 503l3-3M1452 766l2 1M1453 642l5 1 4-2M1453 835l0 8M1453 835l1-5 6-4M1456 490l-3-5 0-4M1453 481l6-1 7 5M1453 617l3 2M1457 769l-3-2M1455 663l-1-1M1468 476l-6-2 -8-1M1454 473l0-1M1454 784l0-3M1458 774l-4 7M1459 765l-1-7 -4-3M1454 755l1-3 0-1M1461 465l-4 2 -3 5M1455 784l-1 0M1457 797l-4-5 -3-2 4-6M1462 790l-4-2 -3-4M1455 784l4 0 6-1M1455 751l3-7M1455 500l2-5 -1-5M1470 495l-4 1 -7 3 -4 1M1462 641l-3-5 -3-6 -1-3M1455 627l2-4 -1-4M1455 663l2 1M1456 600l0-1M1456 599l-1-7 -1-3 -3-5 8 1M1460 401l-4-3M1456 398l0-5 1-8M1466 486l-6 3 -4 1M1456 600l1 4 2 6M1456 600l4-3 6 0M1458 744l-2-9M1459 734l-3 1M1456 619l3-5M1457 813l-1-7 1-9M1457 797l5-7M1460 826l-1-5 -2-6M1457 815l0-1M1457 664l1 1M1463 642l0 3 -2 8 -3 3 -1 8M1457 385l5-1 7-1 5-3M1457 814l0-1M1457 814l1-1 5-5 0-8 4-6M1457 690l4 8M1470 683l-7 0 -6 7M1458 774l0-3 -1-2M1459 765l-2 4M1458 774l4 3 4 5 -1 1M1467 750l-6-2 -3-4M1459 734l-1-4 0-6M1458 724l2-4M1458 455l3 5 0 5M1466 457l-8-2M1463 447l-4 3 -1 5M1473 664l-8 3 -7-2M1459 537l1 2M1459 537l6-3 9-1M1459 585l2 4 6 3M1459 585l5-4 3-3M1475 768l-5-3 -5-3 -6 3M1469 735l-5-2 -5 1M1459 614l5 4 5 2M1460 611l-1 3M1459 610l1 1M1459 556l-2 3 -5 2 -1 5 -5 5 8 0 2 3 8 0M1460 539l1 4 0 7 -2 6M1475 550l-6 1 -5 3 -5 2M1467 720l-7 0M1460 826l6 4M1460 539l3 3 6 2 5 4 1 2M1460 611l4-1M1462 403l-2-2M1460 401l10-5 6-8 5-5M1461 698l4 2 4 4M1461 464l0 1M1461 464l4 4 5 1M1468 460l-7 4M1464 411l-2-8M1462 403l5 0 8-1 5-3M1462 790l2 0M1463 642l-1-1M1463 642l7-5 6-4M1463 711l4-1M1468 452l-5-5M1464 439l-1 8M1466 792l-2-2M1464 790l1-7M1464 574l4 3M1464 574l1-7M1469 620l0-3 -5-7M1464 610l4-4M1464 439l3 4 7 1M1464 439l4-7M1464 411l6 3 6-1 5 3M1464 411l-4 7 4 7 4 7M1465 567l-3-5 6 0 6-1 4 1M1465 567l7-1 5 1 1-5M1466 597l0 5 2 4M1466 597l1-2M1467 794l-1-2M1466 792l5-5 4-5M1470 843l0-2 -4-11M1466 830l7-3 8-1 6 1M1466 457l2 3M1468 452l-2 5M1466 486l0-1M1466 485l2-9M1469 489l-3-3M1467 520l4 1 6-3M1467 520l-2 4 6 3 4 2M1474 507l-6 3 -8 1 4 2 3 7M1467 750l2 5 7 1M1471 738l-2 7 -2 5M1467 710l1 5 -1 5M1467 710l1-2M1467 794l6 2M1467 595l7 1 5 4 4 1M1467 592l0 3M1467 592l2-2 -3-6 1-6M1468 577l-1 1M1472 724l-5-4M1483 607l-8 2 -7-3M1468 460l6 1M1468 577l9-2 1 1M1469 475l-1 1M1473 479l-5-3M1473 453l-5-1M1468 432l4-2M1476 716l-5-2 -3-6M1469 704l-1 4M1479 473l-4 3 -6-1M1470 469l-1 6M1476 630l-3-3 -3-4 -1-3M1476 702l-7 2M1470 494l-1-5M1469 489l6-5M1469 735l2 3M1469 735l1-4 3-4M1478 699l-2-7 -2-5 -4-4M1479 677l-4 4 -5 2M1472 497l-2-2M1470 495l0-1M1475 464l-5 5M1470 494l5-1 4-4M1471 375l3 5M1471 738l7 1 7 4M1473 727l-1-3M1472 724l4-8M1472 497l2 7 0 3M1472 497l7-2M1472 430l6 3M1481 416l-3 2 -3 7 -3 5M1473 479l2 4M1473 479l4-1M1473 796l5 5 3 7 1 0M1473 796l4-6 1-5 -3-3M1489 725l-9-2 -7 4M1475 456l-2-3M1473 453l1-4 0-5M1479 672l-2-5 -4-3M1478 655l-2 1 -3 8M1474 533l2 4 8 0M1474 533l1-4M1474 461l1 3M1475 456l-1 5M1474 507l2 4M1474 380l7 3M1474 444l2 0M1475 777l-1 3 1 2M1475 777l-1-2 1-7M1475 777l8-2 6-2M1478 466l-3-2M1480 554l-5-4M1475 484l0-1M1478 481l-3 2M1477 485l-2-1M1475 768l1-1 1-6 -1-5M1483 453l-8 3M1477 528l-2 1M1481 714l-4-7 -1-5M1478 699l-2 3M1477 445l-1-1M1476 444l4-6 -2-5M1481 714l-5 2M1486 752l-5 1 -5 3M1476 633l7 3 5 0 4 2M1476 633l0-3M1483 621l-2 5 -5 4M1476 511l1 7M1476 511l5-3 5 0M1477 528l2 4 5 1M1477 528l2-5M1479 523l-2-5M1477 518l5-2 5 0M1477 478l1 3M1480 476l-3 2M1483 453l-4-4 -2-4M1487 443l-5 0 -5 2M1479 489l-2-4M1480 484l-3 1M1478 576l1 8 3 4M1478 576l5-1 7 1M1478 655l4 1M1490 649l-6 1 -4-3 -2 8M1480 481l-2 0M1478 466l1 4M1478 466l1-1M1478 433l4-2 6-1M1478 699l5-2 6 1M1479 561l-1 1M1489 525l-5-2 -5 0M1479 465l7 4M1490 459l-7 3 -4 3M1491 567l-5-4 -7-2M1480 554l-1 7M1481 490l-2-1M1479 473l1 3M1479 470l0 3M1487 683l-4-3 -4-3M1479 677l0-5M1479 495l3 4M1483 491l-4 4M1479 470l5 1M1479 672l6-4 2-5M1480 484l0-3M1482 479l-2 2M1480 554l5-2 4-3M1483 485l-3-1M1480 399l3 5 2 4M1482 386l-3 5 1 8M1480 476l2 3M1480 476l5-2M1484 378l-3 5M1481 383l1 3M1481 502l1-3M1489 716l-8-2M1503 420l-8-1 -4-3 -8 1 -2-1M1485 408l-4 8M1483 491l-2-1M1483 485l-2 5M1484 480l-2-1M1482 386l5 3 6 2M1489 817l-3-3 -4-6M1482 808l2-4 5-7 3-6M1482 588l1 5 0 8M1482 588l5-2 4-1M1482 656l5 7M1490 651l-3 3 -5 2M1482 499l2-1M1483 491l1 1M1489 453l-6 0M1483 601l2 3M1484 484l-1 1M1483 621l-2-6 2-8M1485 604l-2 3M1492 622l-4-1 -5 0M1484 492l1-6M1490 546l-1-4 -5-5M1484 533l0 4M1485 482l-1-2M1484 480l3-2M1485 474l-1-3M1484 471l2-2M1484 484l1 2M1484 484l1-1M1490 528l-6 5M1484 843l-1-4 3-5 1-7M1485 493l-1-1M1488 489l-4 3M1486 375l-2 3M1504 378l-9 0 -3 0 -8 0M1484 498l4 2M1485 493l-1 5M1487 474l-2 0M1485 408l2-1 3-4 -1-5 4-7M1489 494l-4-1M1485 483l0-1M1485 482l5-2M1489 484l-4-1M1485 743l1 8M1486 742l-1 1M1492 603l-7 1M1485 486l2 1M1486 469l1 0M1491 769l-4-4 0-8 -1-5M1486 751l0 1M1504 755l-4 0 -7-3 -7-1M1487 514l-1-6M1488 506l-2 2M1503 740l-5 1 -5 1 -7 0M1486 742l3-7 1-8M1489 453l1-2 -3-8M1490 435l-4 5 1 3M1488 489l-1-2M1489 484l-2 3M1487 516l0-2M1496 658l-5 2 -4 3M1488 471l-1-2M1490 459l-1 4 -2 6M1487 514l6-2M1487 683l2 3M1487 683l4-5 4-4 4-4 1 0M1490 824l-3 3M1490 523l-3-7M1493 515l-6 1M1487 474l1 1M1487 474l1-3M1490 480l-3-2M1487 478l1-3M1490 433l-2-3M1488 430l0-2 7-2 3-3 5-2M1490 489l-2 0M1492 475l-4 0M1488 500l0 4M1490 496l-2 4M1488 504l0 1 0 1M1488 506l1-1M1488 504l3-4 5-1M1493 471l-5 0M1489 453l1 6M1489 525l1 3M1489 525l1-2M1490 727l-1-2M1489 719l0 6M1489 505l7 3M1489 505l5-1 3 3M1489 716l0 3M1492 710l-3 6M1489 549l3 6M1489 698l3 3M1489 698l1-9M1489 484l1-4M1492 791l-2-2 -1-3 -1-7 1-6M1491 769l-2 4M1489 494l1 2M1489 494l2-3M1505 719l-9 0 -7 0M1489 817l1 7M1489 817l10-3 7-6 6-3M1489 549l10 1 4 5M1489 549l1-2 0-1M1489 484l1 1M1490 689l-1-3M1489 686l7-1 8-5M1491 491l-1-2M1490 489l1-3M1490 528l3 2M1490 433l0 2M1502 430l-6 1 -6 2M1496 440l-6-5M1495 519l-2 2 -3 2M1505 832l-6-4 -6-1 -3-3M1490 689l7 1 8-2M1493 477l-3 3M1490 576l-1 4 2 5M1490 576l2-2M1493 482l-3-2M1490 651l0-2M1490 649l2-8M1497 536l-4 6 -3 4M1504 724l-5 1 -4 3 -5-1M1490 459l2 2M1490 485l1 1M1490 485l3-3M1490 496l5 1M1496 658l-6-7M1491 486l4 1M1511 767l-7 1 -4-1 -9 2M1491 585l6 4M1491 491l4 0M1491 567l1 3M1491 567l2-1M1504 790l-5 2 -7-1M1492 641l0-3M1497 634l-5 4M1492 603l6 4M1492 603l3-8 2-6M1492 574l2 1M1492 570l0 4M1492 475l1 2M1493 471l-1 4M1499 570l-7 0M1506 716l-8-1 -6-5M1492 701l0 9M1492 555l6 5M1493 566l-2-5 1-6M1501 659l1-2 -4-5 0-8 -6-3M1495 464l-3-3M1503 457l-5 0 -6 4M1492 701l9 2 6-3M1492 622l7 5M1492 622l2-7 2-3 2-5M1495 469l-2 2M1497 536l-4-6M1493 530l4-5 7-1 1 1 0 1 -2 5 -3 4M1495 482l-2 0M1493 391l3 1 1 9M1494 513l-1-1M1496 509l-3 2 0 1M1493 566l4-2M1495 477l-2 0M1495 519l-2-4M1493 515l1-2M1498 513l-4 0M1503 578l-3 2 -6-5M1499 573l-5 2M1495 497l1 2M1495 497l1-5M1496 479l-1-2M1495 477l4-5M1495 482l1 2M1496 479l-1 3M1504 464l-4 2 -5-2M1495 464l0 5M1495 519l7-1 1-4M1499 472l-4-3M1495 491l1 1M1495 491l1-3M1495 487l1 1M1496 484l-1 3M1496 479l4 1M1500 487l-4 1M1499 483l-3 1M1496 492l6 0M1496 509l2 4M1496 509l0-1M1496 440l-1 8 6 2 4-1M1496 440l3-3 5-1M1497 499l-1 0M1496 508l1-1M1496 658l5 1M1497 564l3 3M1497 564l1-3M1497 499l2 7M1497 499l1 0M1509 644l-9-4 -3-6M1497 634l2-3 0-4M1497 589l1-1 3 1M1499 506l-2 1M1510 401l-5 2 -8-2M1497 401l-2 6 5 3 7 6M1500 535l-3 1M1503 514l-5-1M1498 607l2 5 1 6 1 6M1506 606l-8 1M1498 561l5 3 1 1M1498 560l0 1M1498 499l4 3M1498 499l1-1M1498 560l5-4M1499 570l0 3M1499 570l0-1M1503 507l-4-1M1503 473l-4-1M1499 483l1 4M1500 482l-1 1M1499 498l3-6M1504 497l-5 1M1499 627l3-3M1500 573l-1 0M1502 571l-3-2M1499 569l1-2M1500 480l0 2M1500 480l1-2M1500 670l2 5 2 5M1503 665l-3 5M1500 482l1 0M1506 838l-6 6M1500 567l4-1M1502 487l-2 0M1500 535l7 1 4 5M1503 578l-3-5M1500 573l2-2M1501 659l2 6M1501 589l2 5 4 5 -1 7M1517 584l-6 1 -6 2 -4 2M1503 486l-2-4M1503 482l-2 0M1501 478l2 4M1501 478l2-1M1504 436l-2-6M1503 421l-1 9M1503 493l-1-1M1502 488l0 4M1502 571l5-2M1502 488l0-1M1503 486l-1 1M1502 488l5 2M1503 507l-1-5M1502 502l3-2M1502 624l7-2 4-4 1-8M1503 473l0 2 0 2M1506 467l-3 6M1503 477l2 4M1503 420l0 1M1503 740l2 8M1511 732l-3 4 -4 2 -1 2M1503 507l1 1M1503 556l0-1M1512 544l-7 3 -2 8M1504 497l-1-4M1507 493l-4 0M1514 576l-5 1 -6 1M1508 665l-5 0M1503 457l2 5M1505 449l-2 8M1506 484l-3 2M1504 512l-1 2M1505 483l-2-1M1507 416l-4 4M1504 556l-1 0M1503 375l1 3M1504 680l4 3M1504 508l0 4M1504 508l4-4M1504 724l4 3 3 5M1504 724l1-5M1504 497l1 3M1509 495l-5 2M1504 565l0 1M1510 557l-4 4 -2 4M1504 436l4 2 5 4M1507 569l-3-3M1504 755l6 6 1 6M1504 755l1-7M1504 790l3 5 1 5 4 5M1504 790l2-5 4-4 3-5 2-6M1506 467l-2-3M1504 464l1-2M1504 378l-1 7 -1 5 4 3 4 5M1504 378l9 0 3 7 3 3M1508 513l-4-1M1505 719l1-3M1512 458l-7 4M1505 500l4 1M1505 483l1 1M1505 481l0 2M1505 481l5-3M1505 449l6-3M1507 700l1-5 -3-7M1505 688l3-5M1506 838l-1-6M1507 831l-2 1M1505 748l6-1 3-3M1507 844l-1-6M1506 606l8 4M1506 484l1 4M1506 484l4-1M1511 468l-5-1M1515 710l-4 5 -5 1M1507 831l2-7 4-9 3-7M1507 831l12 0 6 2 10-2M1509 494l-2-1M1507 493l0-3M1514 573l-7-4M1507 489l0 1M1512 489l-5 0M1507 489l0-1M1507 700l6 3M1507 488l4-1M1508 415l-1 1M1508 665l4 4M1508 665l6-3 3-3M1508 513l6 5M1508 513l4-4M1508 415l0 7 3 10 4 9M1508 415l7-3M1508 504l4 2M1508 504l1-3M1518 680l-5 3 -5 0M1512 669l-4 5 0 9M1509 495l0 5M1509 494l0 1M1509 494l4-2M1509 501l0-1M1509 644l0 1 0 1M1509 644l3-4 2-4 1-1M1518 649l-9-3M1517 659l-3-7 -6-3 1-3M1509 500l6 0M1511 479l-1-1M1513 469l-3 4 -1 4 1 1M1510 483l1 2M1511 479l-1 4M1510 401l0-3M1510 398l6-5 3-5M1510 401l2 4 4 6M1514 573l-1-4 -1-7 -2-5M1510 557l5-4M1511 732l7-1M1517 478l-6 1M1511 468l2 1M1511 468l2-5 -1-5M1515 770l-4-3M1512 489l-1-2M1511 485l0 2M1511 541l1 3M1514 537l-3 4M1511 446l4 8M1513 442l-2 4M1516 485l-5 0M1512 544l3 4M1512 489l1 3M1512 669l1 6 5 5M1520 669l-8 0M1512 805l4 3M1512 509l0-3M1512 506l3-2M1512 509l4 1M1512 458l3-4M1515 710l0-5 -2-2M1513 703l1-7 1-6 7-4M1515 469l-2 0M1515 441l-2 1M1515 492l-2 0M1514 518l-1 3 3 5M1514 518l3-1M1517 609l-3 1M1517 584l-3-8M1514 576l0-3M1514 744l5 3 7 8 6 4M1519 732l-2 8 -3 4M1514 573l2-1M1514 537l-1-6 3-5M1514 537l1 0M1522 438l-7 3M1515 500l0 4M1515 537l7 2 6-2M1515 537l3-5 4-3M1529 764l-7 2 -7 4M1515 504l1 2M1517 494l-2-2M1516 485l-1 7M1527 544l-6 4 -6 0M1515 548l0 5M1515 500l6 3M1517 494l-2 6M1520 556l-5-3M1515 635l7 4M1515 635l1-5 5-2 4-5M1515 454l3 2M1519 715l-4-5M1515 412l4 5 2 7 4 10M1516 411l-1 1M1515 469l3 6M1515 469l2-4 4-3M1516 411l7-4 5-1 3-8 -2-7M1516 485l3-2M1520 556l-1 7 -3 5 0 4M1527 563l-7 3 -4 6M1516 808l5 1 7 0M1516 526l1 0M1516 510l0-4M1516 506l4-1M1516 510l3 2M1521 521l-4-4M1519 512l-2 5M1517 584l1 1 5 4M1517 659l1-1M1520 489l-3 5M1522 529l-5-3M1521 521l-4 5M1517 609l4 4 6 2M1517 609l2-5 1-5 4-8M1517 494l8 2M1517 478l2 5M1518 475l-1 3M1522 668l0-5 -4-5M1518 658l1-5 -1-4M1520 680l-2 0M1518 649l6 1 4 0M1518 649l4-4 0-6M1523 658l-5 0M1521 462l-3-6M1529 450l-6 3 -5 3M1519 732l-1-1M1522 723l-4 8M1518 475l6 0M1519 483l1 6M1519 732l4 3 5 6 7 6 1 3M1529 391l-6-1 -4-2M1519 483l5 1M1522 723l-2-5 -1-3M1519 715l6-4 5-1 5 0M1522 512l-3 0M1522 512l-2-7M1521 503l-1 2M1524 557l-4-1M1520 669l1 5 1 5M1520 669l2-1M1520 489l5 0M1520 680l2 6M1522 679l-2 1M1521 521l2 0 -1 8M1523 502l-2 1M1521 462l6 2M1522 686l1 2M1533 676l-5 0 -6 3M1524 512l-2 0M1528 667l-6 1M1535 710l4 6 -1 7 -3 1 -6-2 -7 1M1522 438l4 7 4 4 -1 1M1525 434l-3 4M1523 529l-1 0M1522 639l4 0M1523 529l4 7M1523 529l6-3M1524 512l1-5 -2-5M1523 502l1-1M1523 658l3 4 2 5M1523 658l6-5M1524 591l-1-2M1530 585l-7 4M1532 686l-4 3 -5-1M1532 699l-7 0 1-6 -3-5M1524 557l3 6M1524 557l3-2M1524 591l5 6 7 3 3 4M1524 501l5 5M1525 496l-1 5M1528 478l-4-3M1524 475l3-7M1524 484l1 5M1524 484l4-3M1529 516l-4-4 -1 0M1525 623l2 4M1527 615l-2 8M1525 489l3 3M1526 496l-1 0M1525 434l7-2M1526 639l2 1M1526 639l0-6 1-6M1526 496l6 6M1528 493l-2 3M1527 555l8 1M1527 555l1-8M1536 566l-5-2 -4-1M1528 547l-1-3M1527 544l2-4M1527 627l4 4 4 1M1527 464l0 4M1527 464l4-2M1527 536l1 1M1527 536l3-8M1527 615l6-1M1534 474l-4-3 -3-3M1530 645l-2-5M1535 632l1 1 -5 2 -3 5M1528 493l5 2 4 0M1528 493l0-1M1528 492l1-2M1528 481l0-3M1528 478l6-4M1528 667l3 1M1529 540l-1-3M1528 537l7-5M1532 484l-4-3M1536 828l-4-8 0-6 -4-5M1528 809l3-4M1528 547l5 2 4 3M1528 844l3-8 4-5M1529 653l-1-3M1528 650l2-5M1529 516l0 3 1 1M1529 516l7-4M1537 542l-8-2M1529 526l1 2M1530 523l-1 3M1529 653l4 3M1538 795l-1-8 -5-5 -2-8 -1-10M1529 764l2-2M1529 391l5-6M1531 462l-1-5 -1-7M1536 512l-7-6M1529 506l3-3M1532 484l-3 6M1529 490l8-1M1530 528l4 2M1530 520l5 0M1530 520l0 3M1533 525l-3-2M1539 644l-9 1M1530 585l6 3 3 2 5 4M1530 585l5-7 5-6M1559 810l-6-2 -8 0 -5-3 -9 0M1531 805l2-6 5-4M1531 668l1 1M1533 656l-1 7 -1 5M1531 462l1 0M1549 775l-6-5 -6-1 -6-7M1532 759l-1 3M1532 484l5-1M1533 676l-1-7M1532 669l7-1 5-5M1532 503l5 4M1532 502l0 1M1532 699l2 4 2 6 -1 1M1532 686l3 8 -3 5M1537 680l-5 6M1532 432l5 7 2 6M1532 432l2-1M1541 696l-9 3M1538 499l-6 3M1532 462l5 7 1 5M1532 462l6-1 6-2M1535 755l-3 4M1533 656l5 0M1533 676l4 4M1535 525l-2 0M1533 525l1 5M1548 625l-5-6 -5-2 -5-3M1533 614l2-5 4-2M1534 530l0 1M1548 432l-7-1 -7 0M1534 431l2-5 2-7 0-6M1545 389l-5-4 -6 0M1534 385l0-3 4-6M1534 474l3 1M1534 531l1 1M1534 531l2-5M1535 831l1-3M1537 529l-2 3M1540 535l-5-3M1535 755l6 3 11 2 9 0M1536 750l-1 5M1535 556l0 5 1 5M1535 556l2-4M1535 525l1 1M1535 525l1-1M1536 524l-1-4M1537 520l-2 0M1535 632l2-6 7 2 4-1M1536 566l4 6M1536 512l2 0M1536 526l2 1M1540 524l-4 0M1548 829l-7-1 -5 0M1536 750l6-4M1537 680l2 4 4 6M1537 489l0-6M1537 483l2-2M1537 489l2 4M1537 552l2-2M1537 520l3 4M1539 518l-2 2M1540 546l-3-4M1537 542l3-5M1537 507l1 4M1539 501l-2 6M1537 529l1-2M1537 529l3 0M1537 495l1 4M1537 495l2-2M1537 475l2 6M1537 475l1-1M1538 527l3-2M1538 474l3-2 7 6 4 4M1538 499l1 2M1541 794l-3 1M1538 512l0-1M1538 512l7 4M1539 518l-1-6M1538 413l5 1M1548 398l-3 4 -5 1 -5 6 3 4M1538 656l5 4M1540 648l-2 8M1538 511l6-3M1539 481l8 3 5 0M1539 518l4 1M1539 604l0 3M1539 604l1-5 4-5M1539 493l1 0 4 1M1539 550l5 8M1539 644l1 4M1539 644l4-2 2-5 1 0M1548 609l-9-2M1549 552l-6-1 -4-1M1540 546l-1 4M1539 445l-1 4 4 3 2 6M1539 445l7-2 8-3M1539 501l1 0M1540 524l1 1M1540 537l7 4M1540 537l0-2M1542 531l-2-2M1541 525l-1 4M1540 546l6-2M1541 534l-1 1M1540 648l7 3M1540 572l0-9 4-5M1546 592l-1-5 -3-8 -2-7M1540 501l4 7M1547 499l-7 2M1540 572l2 0M1541 696l5 5M1543 690l-2 6M1541 525l3-1M1541 794l6 7 4 2 8 7M1541 794l5-2 6-6M1548 535l-7-1M1541 534l1-3M1545 528l-3 3M1542 746l1-9 0-5 0-9 7-2M1542 746l8-3M1554 575l-5-3 -7 0M1542 572l4-3 4-5 3-5M1543 690l7-1M1543 519l1 4M1543 519l2-3M1544 663l-1-3M1549 653l-6 7M1543 414l3 9 3 5 -1 4M1561 412l-5 0 -6 2 -7 0M1553 671l-3-5 -6-3M1546 592l-2 2M1547 464l-3-5M1544 458l0 1M1544 524l1 4M1544 523l0 1M1576 453l-7 1 -7 0 -4 0 -4-8 -6 4 -4 8M1544 558l6-4M1544 494l3 5M1544 494l4-2 4-4M1545 509l-1-1M1547 505l-3 3M1544 523l2 0M1545 516l1-4M1545 516l1 1M1551 509l-3 1 -3-1M1546 512l-1-3M1548 397l-3-8M1545 389l2-1M1548 529l-3-1M1549 518l-3-1M1546 517l3-3M1550 523l-4 0M1546 523l3-5M1547 640l-1-3M1546 637l4-4M1549 514l-3-2M1546 592l5 2 4 4 1 4M1546 592l3-5 4-3 4-5M1546 701l-3 7 5 5M1546 701l7 0M1549 552l-1-7 -2-1M1546 544l1-3M1547 499l1 1M1547 388l4 1 6-3M1547 388l0-8 3-4M1547 541l2-3M1547 464l0 1 1 7 6 6M1558 462l-6 1 -5 1M1552 507l-5-2M1548 500l-1 5M1547 651l2 2M1547 640l-1 6 1 5M1547 640l4 5 7 4 -2 4M1548 398l3 5 7 4 3 5M1548 397l0 1M1550 721l-2-8M1555 701l-3 5 -4 7M1554 440l-3-4 -3-4M1553 617l-3-4 -2-4M1548 609l4-2 4-5M1548 397l8-2M1548 535l1 3M1549 533l-1 2M1548 529l1 4M1548 529l1-1M1548 627l2 6M1548 627l0-2M1548 500l3-1M1548 625l3-5 2-3M1553 833l-5-4M1548 829l6-7 1-5 6-6M1550 554l-1-2M1551 514l-2 0M1553 539l-4-1M1556 653l-7 0M1552 786l-4-4 1-7M1549 775l5-3 4-2 2-6 1-4M1552 517l-3 1M1549 533l4-1M1549 528l2-3 -1-2M1549 528l7 0M1550 689l2 5 1 7M1552 687l-2 2M1552 743l-2 0M1550 743l1-8 -1-8 1-5M1558 633l-8 0M1551 722l-1-1M1550 523l2-6M1556 521l-6 2M1550 554l4-6 4-2M1553 559l-3-5M1552 511l-1-2M1552 507l-1 2M1551 499l1 7M1552 498l-1 1M1552 517l-1-3M1551 514l1-3M1551 722l9 0 6-1M1559 380l-7-4M1552 506l0 1M1552 786l5 2M1552 488l-1 6 1 4M1552 488l1-3M1566 753l-4-4 -7-3 -3-3M1552 743l5-3 6-8 9-5M1555 499l-3-1M1552 511l3-1M1553 485l-1-1M1552 482l0 2M1555 518l-3-1M1552 687l6 1M1552 687l-3-6 1-7 3-3M1552 506l3 1M1552 482l2-4M1553 671l8-2M1560 488l-7-3M1553 701l2 0M1553 833l7 1M1555 844l-2-11M1558 546l-1-1 -4-6M1556 535l-3 4M1563 618l-6-2 -4 1M1555 559l-2 0M1553 532l3 3M1553 532l3-4M1557 579l-3-4M1560 567l-4 5 -2 3M1569 436l-7 1 -7 3 -1 0M1554 478l5 0 3-4M1556 507l-1 0M1556 501l-1 6M1560 567l-2-4 -3-4M1555 559l4-2M1556 518l-1 0M1555 518l2-5M1556 702l-1-1M1556 501l-1-2M1560 497l-5 2M1557 513l-2-3M1555 510l1-3M1562 507l-6 0M1556 653l3 7 1 4 1 5M1558 535l-2 0M1561 504l-5-3M1556 521l0-3M1556 518l3 0M1556 395l6 2 4 4M1557 386l1 5 -2 4M1557 524l-1-3M1558 602l-2 0M1556 528l1 0M1557 524l-1 2 0 2M1581 693l-6 8 -5 5 -4 5 -3-5 -5-4 -2 0M1558 688l-1 6 -1 8M1565 809l-3-9 -3-4 -2-8M1567 779l-5 6 -5 3M1557 513l2-1M1557 524l6-1M1557 386l2-2M1562 582l-5-3M1563 529l-6-1M1557 528l2 6M1558 633l5 5 5 2M1563 618l0 4 -4 4 -1 7M1559 602l-1 0M1558 602l2-8 -1-6 4-4M1558 535l3 6M1558 535l1-1M1560 550l-2-4M1558 546l2-2M1564 470l-2-5 -4-3M1576 453l-5 1 -8 4 -5 4M1558 688l7-2M1559 384l3 3M1559 380l0 4M1561 377l-2 3M1564 610l-2-4 -3-4M1572 594l-6 2 -7 6M1559 557l5 1 4 3M1559 557l1-7M1560 513l-1-1M1559 512l3-5M1559 810l2 1M1559 534l3-1M1562 519l-3-1M1561 515l-2 3M1560 567l8-3M1572 844l-5-5 -7-5M1560 834l6-3 6-1 4-2M1560 497l2 1M1561 489l-1 8M1561 541l-1 3M1560 544l5 0 4 2M1561 489l-1-1M1560 488l4-2 5-5M1561 515l-1-2M1560 513l3-1M1560 550l2 1M1561 377l0-1M1561 489l4 2 5 2M1561 760l5-4 0-3M1562 412l-1 0M1561 504l1 3M1561 504l1-5M1561 515l3-1M1563 376l-2 1M1562 669l-1 0M1561 541l4-3M1561 811l4-2M1562 499l0-1M1569 494l-3 1 -4 3M1568 555l-6-4M1562 551l8-2M1563 521l-1-2M1562 519l3-4M1565 538l-3-5M1564 530l-2 3M1563 584l-1-2M1571 574l-6 3 -3 5M1570 433l-2-4 -4-8 -2-6 0-3M1567 407l-5 5M1562 387l5 7M1570 382l-8 5M1563 507l-1 0M1565 501l-3-2M1562 669l2 4 1 8 0 5M1562 669l4-3 7 0M1562 474l4 4 3 3M1564 470l-2 4M1563 584l6 6 3 4M1564 514l-1-2M1563 512l0-5M1565 617l-2 1M1564 507l-1 0M1563 529l1 1M1564 527l-1 2M1563 523l1 0 0 4M1563 523l0-2M1563 521l3-3M1564 470l8-2M1570 527l-6 0M1564 530l4 3M1565 515l-1-1M1565 617l-1-7M1577 596l-5 6 -4 1 -4 7M1564 507l3 1M1564 507l2-5M1566 515l-1 0M1565 538l2 0M1565 686l5 3 5 0 6 4M1573 619l-8-2M1566 502l-1-1M1565 501l4-7M1565 809l6-2 8 3M1567 407l-1-6M1566 401l1-7M1566 515l1-7M1566 518l0-3M1566 515l8-1M1573 501l-7 1M1566 753l4-4 4-3M1567 519l-1-1M1567 779l5 2 7 1 5-4M1567 779l-1-5 4-3 5-4 5 1 4 1M1567 538l2 1M1568 533l-1 5M1567 508l1 0M1572 390l-5 4M1567 519l2 4 2 1M1567 519l6-1M1567 407l5 1 5-2M1569 560l-1-5M1568 555l2-6M1571 531l-3 2M1568 508l6 4 1 1M1568 508l5-7M1573 572l-5-8M1568 564l0-3M1568 640l1 2 4 4 3 3M1571 635l-3 5M1568 561l1-1M1569 560l6-3 7-3 0-1M1569 481l5 2M1577 449l-7-5 -1-8M1569 436l1-3M1570 545l-1-6M1576 537l-7 2M1570 549l-1-3M1569 546l1-1M1570 493l-1 1M1579 542l-5 3 -4 0M1570 382l2 8M1572 376l-2 6M1570 527l1 4M1570 527l1-3M1573 501l-3-8M1573 490l-3 3M1588 424l-7 1 -7 4 -4 4M1581 552l-5-2 -6-1M1574 533l-3-2M1573 619l0 9 -2 7M1571 635l5-1 7 0 6-2M1571 524l2-1M1582 593l-5-8 -1-5 -5-6M1571 574l2-2M1572 468l1 6 3 8M1572 468l0-1M1575 734l-3-7M1572 727l0-1 6-4 6-2 4-3M1577 596l-5-2M1572 376l5 3 7 6M1572 390l6-3 3 1M1593 470l-5 3 -5 1 -8-2 -3-5M1578 456l-1 5 -5 6M1573 523l0-5M1573 518l1-4M1574 502l-1-1M1575 524l-2-1M1573 666l6 6 4 1 8 4M1573 666l0-5 2-7 1-5M1573 490l4 2M1574 483l-1 7M1573 572l2-1 4 7 6 2 1 9 -4 4M1573 619l4-2 6-1 2-6 -2-5M1574 746l3 3 5 2M1575 734l-2 6 1 6M1574 483l2-1M1574 514l1-1M1574 533l2 4M1577 529l-3 4M1574 502l1 0 6 4M1574 502l4-3 -1-7M1575 790l1 5 1 10 2 5M1575 734l6 1 6 3 5 0M1577 529l-2-5M1575 524l6-3M1579 514l-4-1M1579 540l-3-3M1576 482l1-1M1579 844l0-2 -4-8 1-6M1576 828l2-6 6-4 1-6M1576 649l1 0M1576 453l2 3M1577 449l-1 4M1598 441l-8 3 -8 4 -5 1M1577 406l4 5 4 5 3 8M1577 406l2-2M1580 596l-3 0M1577 492l8 0M1578 649l-1 0M1589 632l-6 7 -1 3 -5 7M1580 529l-3 0M1578 456l5 3 3 4 8 2 -1 5M1593 656l-3-2 -8-4 -4-1M1593 644l-9 4 -6 1M1581 552l-1-5 -1-5M1579 540l0 2M1582 538l-3 2M1585 812l-6-2M1579 404l4-7 -2-9M1579 404l6 0 5-1 0-7 1-4 3-6M1582 517l-3-3M1579 514l3-6M1583 605l0-4 -3-5M1582 593l-2 3M1580 529l2 3M1580 529l3-4M1583 525l-2-4M1581 521l1-4M1581 693l4-1M1582 553l-1-1M1582 508l-1-2M1581 506l3-8 2-1M1581 388l3-3M1582 751l2 5 2 6 0 6M1588 749l-6 2M1582 553l4-5 5-2 6 1 4-3M1585 507l-3 1M1582 538l2 0 6-2M1582 532l0 6M1582 532l6-2M1582 517l5 0M1583 525l4 1M1583 605l6-1 8-1 6-1M1584 385l5-1M1584 778l5 6M1584 778l0-9M1586 768l-2 1M1585 492l1 4M1592 483l-6 3 -1 6M1585 507l5 5M1585 507l3-2M1585 812l2 0M1587 697l-2-5M1585 692l2-2M1594 766l-8 2M1586 497l0-1M1586 497l6 4M1586 497l2 8M1591 495l-5 1M1587 690l7 3 8 0 5 4M1587 690l-1-6 5-7M1587 518l0-1M1590 512l-3 5M1587 526l1 4M1588 524l-1 2M1587 518l5 0 5 2M1588 524l-1-6M1587 563l4 1M1587 812l2 0M1587 812l0-8 0-7 1-7 1-6M1587 697l5 4 6 1 4 2M1588 717l-2-5 2-7 -1-8M1588 424l6 1 0-7 4-2 0-8 4-1 4-4M1588 524l7 0M1600 756l-7-2 -5-5M1588 749l3-5 2-5M1588 530l2 1M1588 505l1 0M1594 719l-6-2M1589 505l4 2M1592 501l-3 4M1589 384l5 2M1589 376l0 8M1589 812l2 7 -3 7 0 9 2 9M1606 812l-4-1 -8 1 -5 0M1610 783l-5 1 -10-1 -6 1M1594 629l-5 3M1590 512l2-1M1595 524l-5 7M1590 536l6 4 5 4M1590 536l0-5M1598 531l-8 0M1590 845l0-1M1590 844l6-3 4-1 6-5M1591 495l4 4 3 2M1595 490l-4 5M1591 677l1 0M1591 564l2 5 3 2 4 4M1601 558l-3 4 -7 2M1592 511l6 6M1592 511l1-4M1598 502l-6-1M1593 739l-1-1M1592 738l0-4 -1-8 3-7M1608 685l-7-4 -4-2 -5-2M1595 673l-3 4M1592 483l3 5M1592 483l3-6 -2-7M1593 644l5 6M1593 644l1-9 0-6M1593 739l4 0 10 1 3 2M1598 505l-5 2M1593 656l0 6 1 4 1 7M1593 656l5-5M1594 719l4 0M1610 783l-6-6 -5-6 -5-5M1598 761l-4 5M1594 629l0-1M1598 385l-4 1M1606 641l-4-4 -4-6 -4-3M1605 619l-5 1 -5 5 -1 3M1597 672l-2 1M1595 490l1 4 2 5M1595 490l0-1M1595 489l0-1M1595 488l7-1M1595 489l6 3M1595 524l3 7M1597 520l-2 4M1600 575l-5 7 0 6M1597 520l1-1M1597 672l6-5 4-3 5-5M1597 672l4 0 8 2 4 1M1598 650l0 1M1598 650l2-6 6-3M1612 656l-9-4 -5-1M1598 505l2 4 -2 8M1598 502l0 3M1605 453l-3-6 -4-6M1598 441l1-7 0-5 6-3 9 0 4-2M1598 761l8 3 4 3 6 4M1598 761l2-5M1604 544l0-8 -6-5M1598 719l6 2 5 4 6 1 2-6M1598 719l1-8 3-7M1598 517l0 2M1599 501l-1 1M1598 519l4 1 3 2M1598 385l4 5 3 4M1615 384l-6-1 -7 1 -3 1 -1 0M1598 501l1 0M1598 499l0 2M1598 499l3-7M1599 501l3-1M1605 575l-5 0M1610 747l-4 6 -6 3M1604 544l-3 0M1601 492l2 0M1601 558l5 5 2 6M1607 548l-3 4 -3 6M1608 377l-6 1 0-2M1602 704l6 1 5-3M1602 487l1 1M1603 482l-1 5M1602 500l5 2 2 5M1602 500l2-1M1603 492l3 2M1603 492l0-4M1603 602l0 1M1603 602l1-9 2-1M1612 488l-9 0M1605 619l1-7 -3-3 0-6M1603 603l6-1 7 2M1612 487l-4-1 -5-4M1607 477l-5 2 1 3M1604 544l3 4M1604 499l7 2M1606 494l-2 5M1605 394l6 1 8-5M1605 394l0 4 1 5M1605 619l4 1 2-5 2-6 3-5M1605 575l4 4 -2 6 -1 7M1605 575l3-6M1605 453l1 4 6 4M1605 453l6-3 2-4 5-4M1605 522l3 7 6-1M1615 516l-5 3 -5 3M1606 641l8 1M1606 403l4 2M1609 845l0-1 -3-9M1609 815l-2 7 1 4 -2 9M1606 592l5 0M1611 493l-5 1M1606 812l3 3M1606 812l3-8 3-9 2-7M1618 482l-5-5 -6 0M1612 461l-3 4 1 8 -3 4M1610 549l-3-1M1607 548l5-6 4-4 3-7M1607 697l6 5M1607 697l-1-7 2-5M1608 685l6 0M1608 569l8-2 0 6 4 6 4 3M1609 507l-4 2 1 4 5 0 4 3M1609 507l3-1M1616 817l-7-2M1610 783l3 2M1610 747l4 6 1 5 6 6M1610 747l0-5M1618 424l-2-6 -3-7 -3-6M1610 405l6-3M1610 742l1-5 6-4 2 1M1610 549l4 5 5 7 6 2 6-1M1610 549l5-1 6-3 7 0M1612 506l-1-5M1611 501l1-7M1611 493l1 1M1612 488l-1 5M1611 592l8 4 2 6M1624 583l-8 5 -5 4M1612 488l0-1M1612 659l0-3M1612 656l4-7M1612 659l7 5 -1 5 -5 6M1612 487l6-5M1615 507l-3-1M1612 461l8 3 5-6 4-7M1617 496l-5-2M1613 785l1 3M1613 785l-1-7 4-7M1613 702l1 0M1613 675l6 5M1616 649l-2-7M1614 642l2-7 6-6M1614 703l0-1M1614 702l-1-5 1-6 0-6M1614 377l2 1M1630 788l-3-1 -8 0 -5 1M1619 531l-5-3M1618 515l-1 9 -3 4M1614 685l5-2M1617 720l-1-4 -2-6 0-7M1628 695l-6 5 -8 3M1615 384l4 6M1616 378l-1 6M1617 511l-2-4M1615 507l5-7M1615 516l3-1M1616 649l7 3 7-1M1616 817l3 2 7 4 6 0 3 3M1616 817l8-3 7-10 5-3 2-6M1616 402l6 5 6 4M1622 395l-6 7M1616 604l5-2M1619 377l-3 1M1616 771l5-7M1637 710l-6 2 -6 6 -8 2M1617 511l1 4M1630 503l-5 5 -8 3M1620 500l-3-4M1625 487l-4 6 -4 3M1621 480l-3 2M1618 442l7 3 4 6M1618 442l3-8 0-6M1621 428l-3-4M1618 424l6-4 3-5 1-4M1631 520l-5-4 -8-1M1620 391l-1-1M1619 531l2 0 7-4 5-2M1619 683l0-3M1619 680l5-5 3-8M1619 683l5 2M1619 734l7 3M1619 734l8-8 6 1 8-7M1623 500l-3 0M1620 391l2 4M1626 385l-6 6M1621 428l7 4M1621 377l1 4 4 4M1628 603l-7-1M1621 764l5-1M1625 487l-4-7M1643 458l-6 4 -3 5 -4 4 -6 0 -1 4 -2 5M1631 399l-4-4 -5 0M1622 629l6 2 2 2M1628 610l-2 8 -6 6 2 5M1630 503l-7-3M1625 488l-2 5 0 7M1628 695l-4-4 0-6M1624 685l4-1 4-5M1624 583l1 1M1624 582l0 1M1634 574l-3 4 -7 4M1639 590l-7-4 -7-2M1625 584l0 7 3 5 0 7M1625 487l5 1 5-1M1625 487l0 1M1638 489l-3 4 -2 5 -6-4 -2-6M1626 763l5 4 5 8 0 5 -3 4M1631 759l-5 4M1626 385l5-3 5 1M1626 737l6 1 9-3M1626 737l5 4 1 9M1627 667l5 4M1632 657l-4 5 -1 4 0 1M1632 403l-2 4 -2 4M1628 545l4 4 2 6 -3 7M1628 545l0-8 4-3 2-8M1639 620l-7-3 -4-7M1629 604l-1 6M1639 447l-5-7 -1-4 -5-4M1628 432l8-6 6-1M1634 697l-6-2M1629 603l-1 0M1629 604l0-1M1639 591l-7 4 -3 8M1652 606l-9-2 -5 0 -9 0M1639 447l-4 3 -6 1M1648 634l-8-2 -6 1 -4 0M1633 644l-3-6 0-5M1630 503l3 0 2 2M1633 656l-3-5M1630 651l3-7M1630 788l4 2 4 5M1630 788l3-4M1631 399l1 4M1637 391l-2 5 -4 3M1645 761l-7 1 -7-3M1632 750l-1 9M1631 520l2 5M1631 520l1-2M1631 562l1 0M1632 562l0 7 2 5M1632 562l7-2 6 0M1645 668l-7 4 -6-1M1632 673l0-2M1634 403l-2 0M1649 680l-5-3 -7-1 -5-3M1632 679l0-6M1641 686l-5-2 -4-5M1632 518l2-5 1-8M1632 518l6 0 7-6 6 0M1632 750l6 0 4-1M1632 657l7 3 5 6M1633 656l-1 1M1636 655l-3 1M1645 782l-7 2 -5 0M1650 643l-7 0 -3 1 -7 0M1639 853l-6 3M1634 526l-1-1M1634 574l3 1M1642 530l-8-4M1640 706l-2-6 -4-3M1641 686l-1 7 -6 4M1643 420l-3-3 1-8 -7-6M1646 401l-5 1 -7 1M1635 505l6-1M1636 383l-1-6M1644 837l-5-4 -4-7M1635 826l4-5 4-4 5-3 5-3M1635 487l3 2M1640 475l-4-1 0 7 -1 6M1636 655l5-2 4-8 5-2M1645 656l-5-2 -4 1M1636 383l3 2M1637 391l5 5 4 5M1637 391l2-6M1644 580l-7-5M1637 575l4-4 7-5M1641 720l-2-4 -2-6M1637 710l3-4M1638 795l7 0M1647 489l-9 0M1653 600l-5-2 -5-4 -4-3M1639 591l0-1M1644 580l-3 4 -2 6M1645 448l-6-1M1639 385l5 0M1640 862l-1 0 0-9M1644 845l-3 3 -2 5M1639 620l0 1 5 2 4 5M1652 606l-3 6 -6 5 -4 3M1639 546l6 2 7-1M1639 546l0 1 4 4 3 5M1639 546l2-6 1-6 0-4M1640 706l4 0M1640 475l5 4 5 2 1 1M1646 464l-3 4 -3 7M1641 720l4 5M1641 504l4 1M1647 489l-2 5 -2 4 -2 6M1641 735l3 8 -2 6M1641 735l2-1M1649 682l-3 4 -5 0M1647 753l-5-4M1642 425l0 7 3 3 2 6 4-4 2-7M1652 429l-5 0 -5-4M1643 420l-1 5M1642 530l2-1M1650 417l-7 3M1643 734l5 4 8 2M1645 725l-2 4 0 5M1646 464l-3-6M1645 448l-1 4 -1 6M1658 540l-5-4 -3-3 -6-4M1644 529l3-4 4-3 4-5M1657 859l-5-3 -4-5 -4-6M1644 845l0-8M1644 706l1 0M1654 686l-4 3 0 10 -6 7M1644 837l8-1M1644 385l6 6 1 4 6 8M1648 382l-4 3M1653 582l-4-2 -5 0M1644 666l1 2M1645 656l-1 4 0 6M1645 560l3 6M1645 560l1-2M1645 761l2 3M1647 753l-2 8M1648 868l-3 0M1652 722l-7 3M1645 448l1-1 7 3 5-1M1656 706l-7 1 -4-1M1645 706l1 4 3 8 3 4M1649 670l-4-2M1655 656l-2-4 -5 3 -3 1M1645 795l1 1M1645 795l3-8M1648 787l-3-5M1647 774l-2 8M1645 505l6 7M1653 498l-4 3 -4 4M1646 796l4 5M1646 796l5-2 7-5M1646 556l0 2M1646 556l3-5 3-4M1646 464l4 2 4-1M1646 558l7-1 6 2M1646 401l8 2 3 0M1647 764l-2 7 2 3M1647 753l3-4 7-4M1648 488l-1 1M1647 764l7 3 4 1 6 1M1647 764l6-5 5-2 5-1M1660 780l-7-2 -6-4M1648 634l3 5 2 3M1648 628l0 6M1648 566l6 4 6 3M1648 787l7-3 5-4M1648 377l0 5M1648 868l1 1 -1 2M1648 868l5-4 4-5M1656 617l-4 6 -4 5M1648 488l2 5 3 5M1648 488l3-6M1654 380l-6 2M1649 670l1 2M1655 656l-4 8 -2 6M1649 682l0-2M1649 680l1-8M1654 686l-5-4M1652 429l-2-5 0-7M1664 407l-5 2 -3 4 -6 4M1663 669l-8 0 -5 3M1653 811l-1-6 -2-4M1650 801l6-1 2-4M1650 643l3-1M1651 512l1 0M1656 482l-5 0M1657 544l-5 3M1655 517l-3-5M1652 512l3-6M1652 722l6 1 8-2M1653 430l-1-1M1652 836l4 1 5 3 7 1M1652 836l3-7 3-5 4-8 -1-3M1654 606l-2 0M1653 600l1 6M1653 600l0-6 -2-5 2-7M1671 425l-7 1 -4 3 -7 1M1661 813l-8-2M1667 638l-7 4 -7 1 0-1M1660 576l-2 4 -5 2M1653 498l2 1M1654 380l5 6 2 7 4 9 4-7 8-7 2-7M1657 377l-3 3M1657 472l-3-7M1658 460l-4 5M1654 606l1 1M1656 706l1-5 -1-7 -2-8M1662 708l4-6 -4-5 -2-8 -4-3 -2 0M1667 537l-4-8 -6-6 -2-6M1667 514l-7 2 -5 1M1671 595l-7 2 -5 6 -4 4M1655 499l0 7M1655 499l6-1 1 1M1673 612l-4-2 -9-3 -5 0M1656 617l-1-5 0-5M1664 504l-9 2M1655 656l6 2 4 2 4-4M1662 708l-6-2M1657 482l-1 0M1656 482l1-4 0-6M1671 634l-6-7 -4-5 -5-5M1656 740l1 5M1662 735l-6 5M1657 745l3 5M1657 482l3 6 7 5M1663 480l-6 2M1659 559l-2-6 0-9M1658 540l-1 4M1657 403l7 3 0 1M1662 465l-3 4 -2 3M1657 859l7-2 7-1 1 1M1658 449l2 6 -2 5M1669 444l-5 3 -6 2M1658 460l4 5M1658 796l0-7M1658 789l3-4M1658 796l6 1 4 2M1658 540l4-1 5-2M1663 564l-4-5M1660 780l1 5M1666 775l-6 5M1660 576l0-3M1663 564l-1 5 -2 4M1663 756l-3-6M1675 745l-7 0 -8 5M1660 576l5 3M1661 785l2 5 5 3M1661 813l7-6M1662 708l3 5 1 5M1664 501l-2-2M1667 493l-5 6M1670 470l-4-5 -4 0M1675 745l-5-4 -5-3 -3-3M1667 724l-3 4 -2 7M1663 756l2 2M1678 680l-4 5 -8-2 -4-8 1-6M1663 669l3-3 3 1M1674 558l-6 3 -5 3M1663 480l5 6 1 5M1672 474l-4 3 -5 3M1667 514l0-6 -3-4M1664 501l0 3M1667 500l-3 1M1665 409l-1-2M1666 775l-2-6M1664 769l1-5 0-6M1688 405l-7 0 -10 4 -6 0M1671 425l-2-4 -2-5 -2-7M1665 758l8-1 8-2M1665 579l7 7 0 7M1673 577l-8 2M1666 718l0 3M1685 704l-6 6 -3 4 -10 4M1667 724l-1-3M1666 775l3 0M1670 885l-4 4M1669 656l-2-4 1-9 -1-5M1671 636l-4 2M1667 493l1-1M1667 537l5 2 4-2M1679 727l-6-4 -6 1M1668 515l-1-1M1671 510l-4 4M1667 500l4 1M1669 496l-2 4M1668 800l0-1M1668 793l0 6M1668 793l4-3 5-3M1668 807l5 2 9 1M1668 807l0-7M1669 496l-1-4M1668 492l1-1M1689 524l-7-4 -3-7 -5 3 -6-1M1678 534l-3-8 -6-6 -1-5M1687 793l-8 4 -5 2 -6 1M1682 656l-8 0 -5 0M1678 680l-3-9 -6-4M1669 667l7-4 4-2 6 0M1669 491l3 1M1669 775l4 8 4 4M1669 775l6-2M1669 496l5-1M1673 456l-1-6 -3-6M1677 436l-2 5 -6 3M1672 474l-2-4M1673 456l-4 8 1 6M1671 501l1 4 -1 5M1680 506l-2-1 -7 5M1679 645l-4-3 -4-6M1671 636l0-2M1676 496l-1 4 -4 1M1679 607l-7-6 -1-6M1672 593l-1 2M1678 627l-3 3 -4 4M1671 425l2 5 4 3 0 3M1672 857l4 5 3 7M1672 857l4-3 10-6 5-4 -6-6M1679 592l-7 1M1677 475l-5-1M1672 492l2 3M1686 483l-2-1 -4 5 -5 1 -3 4M1686 580l-8 0 -5-3M1673 577l2-4 1-4 5-5M1678 627l-4-7 -1-8M1673 612l6-5M1683 462l-6-1 -4-5M1681 564l-4-1 -3-5M1677 538l0 5 -4 8 1 7M1676 496l-2-1M1680 746l-5-1M1675 773l6 3 4 1 7 5M1675 773l3-4 5-5M1679 495l-3 1M1677 538l-1-1M1676 537l2-3M1684 700l-4-3 -3-2M1696 448l-6-3 -6-4 -7-5M1677 787l5 4 6 0M1689 547l-6-6 -6-3M1684 676l-6 4M1690 627l-4-2 -8 2M1688 526l-6 3 -4 5M1690 606l-5 1 -6 0M1680 746l0-6 -1-7 0-6M1679 727l3-1 2-7 2-8 2-4M1679 495l6 6 -5 5M1679 495l3-7 4-5M1679 377l0 4M1679 869l2 8 5 1 8 4 5 1M1704 840l-6 6 0 1 -3 4 -6 10 -7 3 -3 5M1691 604l-5-3 -2-3 -5-6M1686 583l-4 5 -3 4M1679 381l5 3M1679 645l1 5 2 6M1679 645l6 0 7-3 -1-6 -1-9M1680 746l3 5M1680 506l1 1 6 5 6 4M1683 764l-2-3 0-6M1683 751l-2 4M1695 568l-8-2 -6-2M1686 661l-4-5M1682 810l3 6M1682 810l5-4 1-9M1683 764l5 3 6 5 4 3M1683 751l5-1M1696 469l-6-3 -6-2 -1-2M1696 448l-4 4 -5 5 -4 5M1692 828l-4-3 -4-5M1684 820l-5 5 -5 2 -1 9 4 3 8-1M1684 820l1-4M1684 676l3 4 6 1M1684 676l2-7 1-8M1684 700l1 4M1684 700l1-1M1684 384l9 1 6 0 10 2M1684 384l2 7 3 7 2 3M1685 816l10-2 3 0 9-3M1693 681l-3 6 0 5 -5 7M1685 699l10-2 9-3 5-4M1685 704l3 3M1692 828l-4 5 -3 5M1687 661l-1 0M1686 583l4 2 5 7 4-3 7-7 2-3M1686 580l0 3M1695 568l-5 7 -4 5M1686 483l4 5 -1 6 4 5 4 3M1686 483l6-3M1687 661l4-1M1687 793l1 4M1687 793l1-2M1688 791l1-2M1688 707l8 3M1696 420l-1 0 -2-4 -1-5 -4-6M1688 405l3-4M1688 797l4 4 10 5 5 5M1703 534l-5-1 -5-4 -5-3M1688 526l1-2M1688 750l5 2 3 5 6 1M1696 738l-5 7 -3 5M1693 516l0 4 -4 4M1716 798l-9-5 -10-2 -8-2M1689 789l3-7M1696 567l-3-6 -1-8 -3-6M1704 543l-7-1 -8 5M1705 619l-4-5 -4-3 -7-5M1691 604l-1 2M1690 627l5 1 6-1M1691 660l4 3M1691 660l3-6 6-6 5-1M1705 601l-6 0 -4 0 -4 3M1691 914l1-1 5-6 4-8M1696 400l-5 1M1692 480l3 1M1696 469l-1 5 -3 6M1692 828l5 2 6-1M1692 782l3-4 3-3M1693 681l6-1 4 2M1695 514l-2 2M1695 481l4 6 5 4 4 6M1708 480l-6 1 -7 0M1695 663l7 0 5 2M1695 663l3 5 2 10 3 4M1696 567l-1 1M1719 521l-10-2 -7-1 -7-4M1695 514l2-6 0-6M1695 730l1 8M1699 717l-4 5 0 7 0 1M1695 730l6-1 8 0M1699 449l-3-1M1702 410l-2-6 -4-4M1708 393l-7 2 -5 5M1696 469l4-8 6-4M1698 568l-2-1M1696 738l8 2 3 5 6 1M1711 427l-5-4 -5 1 -5-4M1702 410l-5 5 -1 5M1708 497l-5 1 -6 4M1701 774l-3 1M1708 576l-4-3 -3-4 -3-1M1698 568l3-7 2-9 1-8 0-1M1699 449l3 3 4 5M1711 427l-4 10 -4 2 -4 10M1703 887l-4-4M1709 861l-2 1 -1 6 -7 8 0 7M1701 627l4 4 0 5 6 5 -6 5 0 1M1705 619l-3 4 -1 4M1701 774l7 2 7 3M1701 774l2-9 -1-7M1701 899l4 5 7 4 8 8M1701 899l0-7 2-5M1714 406l-8 1 -4 3M1702 758l8-2 4-7M1703 534l-1 4 2 5M1718 524l-6 2 -5 5 -4 3M1703 682l1 1M1703 829l1 8M1703 829l5-7 2-6M1715 887l-6-1 -6 1M1704 683l4 2 1 5M1711 668l-1 8 -6 7M1704 840l5 3 7 3M1704 840l0-3M1704 837l9-2 3-2 9-1M1707 665l-2-4 0-6 0-8M1713 607l-4-2 -4-4M1705 601l2-5 3-7 0-7M1709 616l-4 3M1706 457l7 3M1707 665l4 3M1709 811l-2 0M1714 406l-5-6 -1-7M1709 387l-1 6M1708 576l0 3M1718 573l-7 0 -3 3M1708 480l3 6 -1 5 -2 6M1713 465l0 5 -3 3 -2 7M1710 582l-2-3M1719 504l-5-2 -6-5M1709 931l9-2M1709 811l1 5M1709 811l5-5 2-8M1715 377l-1 1 -1 5 -4 4M1709 861l3-7 1-5 3-3M1725 859l-4 0 -9 1 -3 1M1709 690l3 3M1709 729l5 5M1709 729l4-8 -1-1M1722 626l-6-5 -7-5M1709 616l1-4 3-5M1710 716l2 4M1720 590l-5-4 -5-4M1710 816l8 5 6 2M1711 668l6-2 3-1M1711 427l5-3 4 0 5 8 -1 7 5 10M1712 693l0 4M1712 693l5-2M1712 720l7-2 3-5M1713 746l1 3M1714 734l-2 7 1 5M1718 605l-5 2M1713 460l0 5M1720 457l-7 3M1713 465l4 7 3 5 3 6 8 3M1714 702l4 4 5 4M1728 728l-9 5 -5 1M1726 415l-7-3 -5-6M1734 734l-5 5 -7 4 -8 6M1721 756l-4-1 -3-6M1722 894l-4-4 -3-3M1715 887l2-2M1715 555l-2-9 6-2 3-5M1716 798l-1-8 2-7 -2-4M1722 769l-2 7 -5 3M1716 846l8 0M1737 806l-4-4 -8-2 -5-1 -4-1M1717 691l7 2 7 2 5 1 0-9 2-5M1725 677l-4 6 -4 8M1725 859l-1 10 -4 6 -3 10M1734 878l-6 4 -6 0 -5 3M1720 590l7-5 3-6 -7-3 -5-3M1718 573l5-6M1718 605l3 7 6 4M1724 598l-3 3 -3 4M1736 910l1 8 -7 3 -4 6 -6 3 -2-1M1720 916l1 7 -3 6M1718 524l3 5M1719 521l-1 3M1723 513l-4 8M1723 513l-3-3 -1-6M1731 487l-5 5 -1 6 -6 6M1729 908l-6 2 -3 6M1720 457l4 6 6 3 1 4M1729 449l-6 4 -3 4M1720 665l5 3M1722 651l-2 9 0 5M1724 598l-4-8M1721 529l4 1 6 0M1722 539l-2-5 1-5M1721 638l6 7 2 4 9 6M1721 638l-3 2 4 6 0 5M1721 638l2-2M1722 769l2-7 -3-6M1721 756l4 0 6-2M1722 626l0 6 1 4M1722 626l1-6 4-4M1722 651l6 3 9 2M1722 713l3 6 -1 6 4 3M1723 710l-1 3M1738 769l-7 3 -9-3M1722 539l1 1M1722 894l5 0 8-2 4 2M1722 894l1 7 6 7M1733 572l-6-4 -4-1M1723 566l0 1M1723 377l2 2 3 5 6 8M1731 709l-8 1M1723 513l8 0M1723 566l-3-4 1-5 6-2 6-4M1731 563l-8 3M1723 636l4-1M1733 551l-2-6 -8-5M1723 540l3-3 6 0M1724 598l4 0M1724 823l2 6 -1 3M1730 820l-6 3M1730 856l-3-5 -3-5M1724 846l3-3 0-6M1725 677l0-4 0-5M1735 665l-3 3 -7 0M1727 837l-2-5M1730 856l-5 3M1738 682l-9-1 -4-4M1727 635l5 6 5 5 6 4M1727 635l4 0 4-3M1727 949l3-4M1727 616l5 0M1727 837l8 0M1736 730l-8-2M1728 598l6 0 5-3M1728 598l2 4 3 8 1 3M1745 448l-9 1 -7 0M1729 908l7 2M1733 857l-3-1M1742 826l-6-5 -6-1M1737 806l-3 9 -4 5M1737 946l-7-1M1730 945l5-8 1-9 4-5 6 2 7-1M1731 487l0-1M1731 486l1-4M1731 513l0 6 6 4M1731 513l4-1 4-2 1-1M1731 563l2 9M1731 563l2-3 3-4M1731 709l2 7 4 8 -1 6M1731 709l5-4 3-6 3 1M1731 754l5 3 4 7 0 3 -2 2M1731 754l1-1M1731 470l6 1 3-2M1732 482l0-6 -1-6M1745 493l-7 0 -7-6M1731 530l4 3M1731 530l5-4 1-3M1732 482l4-3 5-3 -1-7M1735 620l-3-4M1734 613l-2 3M1732 753l6 0 4-2M1734 734l1 3 -1 7 -2 5 0 4M1732 537l7 2 0 1M1732 537l3-4M1743 871l-3-4 -2-4 -5-6M1741 850l-3 4 -5 3M1738 577l-5-5M1733 551l3-6 3-5M1733 551l1 1M1739 894l-1-4 -1-6 -3-6M1734 878l3-4 6-3M1745 448l1-4 2-6 -1-9 0-6 -3-3 -3-4 -6-5 3-7 -3-7 -1-5M1734 392l4-4 6-5 4-4M1747 604l-3 4 -5 3 -5 2M1734 552l2 4M1734 552l5-4 10-2M1736 730l-2 4M1741 850l-5-6 -1-7M1735 837l4-2M1744 632l-4 1 -5-1M1735 620l0 7 0 5M1737 656l-2 9M1735 665l6 1 7 0M1735 665l2 8 4 6M1735 620l8-1 6 6M1739 533l-4 0M1748 904l-4 4 -8 2M1736 730l7-1M1744 562l-3-3 -5-3M1737 806l0 1M1742 950l-5-4M1737 946l6-4 7-3 4-5M1738 655l-1 1M1737 807l5 3 6 5M1737 807l6-4 5-1 4-4M1743 526l-6-3M1738 682l3-3M1738 655l5-5M1738 769l0 7M1742 584l-4-6 0-1M1738 577l1-4 4-7 1-4M1738 776l6 7M1743 787l-5 4 -5-6 -5-2 3-3 7-4M1739 835l3 4 4 1 1 2M1742 826l-1 4 -2 5M1739 533l2 0M1739 533l0-1 4-6M1739 595l4 5 4 4M1739 595l1-5 2-6M1739 540l9 0M1739 894l4 3 5 1M1740 469l7-6 1 6 5 6M1754 510l-8 0 -6-1M1745 493l-2 5 -2 6 -1 5M1747 534l-6-1M1741 533l3-3M1741 850l5-3M1741 679l7 0 1-8 -1-5M1754 757l-1-1 -6 1 -5-6M1742 750l0 1M1742 826l8-3 0-5M1742 950l8 1 5 2 6 1M1748 968l0-5 -6-8 0-5M1742 700l2 5 3 9 1 5 -2 5 -3 5M1753 696l-5 0 -6 4M1761 580l-5 3 -6-2 -8 3M1743 650l2 0M1744 526l-1 0M1743 871l4 1M1743 787l5 4 4-2 2-4M1744 783l-1 4M1743 729l4 5 7 2 2 1M1744 783l7-5M1744 526l1 1M1744 526l3-6 2 0M1744 562l5-1M1744 632l3 5 2 4M1749 625l-5 7M1744 530l3 4M1744 530l1-3M1745 493l5-2 6 1 4 6M1745 448l4 4 6 2 7-2 3 2M1745 527l3 2M1745 650l4 5 3 4 -2 6M1745 650l3-4M1746 847l4 4 6 3M1746 847l1-5M1747 534l1-5M1747 534l2 3M1752 877l-5-5M1747 872l2-4 3-9 4-5M1747 604l7 3 2 4M1747 604l4-4 8-4 9-7M1747 842l7-2 4 0 6 0M1747 969l1-1M1748 646l5 2 8 3 7 1M1749 641l-1 5M1748 904l2 4 4 3M1748 904l0-6M1748 898l1-4 4-4M1750 665l-2 1M1751 529l-3 0M1748 540l1 3M1748 540l1-1M1748 379l0-2M1748 815l2 3M1748 815l4-7 3-6M1748 379l2 4 5 5 4 7M1748 968l6-3 6 0M1749 537l0 2M1751 533l-2 4M1754 537l-5 2M1749 641l8-4 7 0 2-8M1755 623l-6 2M1761 580l0-4 -2-6 -6-6 -4-3M1749 561l1-2 2-4 6-3M1749 546l7 3M1749 546l0-3M1749 520l5 6M1749 520l6-4M1749 543l8-1M1760 672l-6-5 -4-2M1770 815l-2 1 -5-2 -4-2 -6 3 -3 3M1751 529l0 4M1751 529l3-3M1751 778l3 5M1754 773l-3 5M1751 533l4 2M1751 533l6-1M1753 890l0-6 -1-7M1752 877l6 0 7-4 2-5 2-8 1-5M1754 800l-2-2M1752 798l0-1 6-7M1753 475l1 6M1762 466l-4 3 -5 6M1753 696l4 3M1753 696l1-7 1-4M1753 924l1 4 0 6M1757 917l-4 7M1760 891l-7-1M1754 757l6 6M1754 757l0 8 -1 7 1 1M1761 954l-4-6 0-5 -3-9M1755 802l-1-2M1762 799l-8 1M1754 773l4 0M1754 827l7 3M1754 510l2 3M1760 498l-2 8 -4 4M1754 526l3 3M1754 526l4-5M1754 537l3 5M1755 537l-1 0M1754 783l0 2M1759 782l-5 1M1754 785l4 3M1757 914l-3-3M1754 911l7-4 3-5M1755 685l-1-2M1755 802l4 5 8-2M1755 516l3 5M1756 513l-1 3M1755 685l7 1 6 0 4-1 3-4 2-3M1755 623l5 4 6 2M1755 623l0-6 1-6M1761 539l-6-2M1755 535l0 2M1757 532l-2 3M1756 737l0 7 3 5 1 1M1761 734l-5 3M1756 513l7 1M1756 549l1 1M1756 549l1-7M1756 854l5 0 5-3M1756 611l1 0 5-9 3-6 3-5M1777 929l-7-5 -8-5 -5-2M1757 917l0-3M1759 542l-2 0M1757 914l5-1M1757 532l1-1M1757 699l2 4 2 4M1757 699l6-2 6-3 4 0 3 3 4 3M1757 550l1 2M1760 545l-3 5M1757 529l1 2M1760 527l-3 2M1758 532l0-1M1758 552l3 1M1758 773l2 0M1760 763l0 6 -2 4M1762 538l-4-6M1766 531l-8 1M1758 788l0 2M1758 788l1-1M1761 522l-3-1M1758 790l1 0M1761 792l-2-2M1766 787l-7 3M1759 782l0 5M1764 784l-5 3M1760 781l-1 1M1760 545l-1-3M1759 542l2-3M1759 395l1 1M1759 395l1-5 2-9 0-4M1760 763l7 1M1760 982l0-4 0-6 0-7M1760 498l3 1M1760 965l3-2M1760 781l4 3M1760 774l0 7M1760 672l0 1 8 2 5 1 4 2M1761 670l-1 2M1760 891l3 7M1760 891l9 0M1760 396l5 9 4 5 2 7M1760 396l5-4 9-1 7-5 3-6M1760 773l0 1M1767 764l-1 4 -6 5M1760 545l3 1M1760 774l7 4M1760 527l6 4M1762 525l-2 2M1760 750l8 4 3 5M1760 750l9-2 6-3M1761 553l1 4 2 3M1761 553l3-1M1769 586l-3-4 -5-2M1761 670l0-7 -2-5 5-2 4-4M1775 660l-6 4 -4 1 -4 5M1761 954l4 3M1762 538l-1 1M1762 525l-1-3M1764 519l-3 3M1761 830l0 5 3 5M1780 828l-4 2 -7-2 -7 1 -1 1M1761 707l1 5 6 5M1761 707l9-2 2 0 8-5M1761 734l7 1 8 4M1761 734l5-6 2-5M1764 797l-3-5M1765 792l-4 0M1764 538l-2 0M1777 914l-8 0 -7-1M1762 913l5-3 3-7M1762 525l5 2M1767 479l-2 0 -1-6 -2-7M1765 454l-1 6 -2 6M1767 805l-5-6M1762 799l2-2M1763 499l0 9 0 6M1775 499l-7 2 -5-2M1763 963l5 5 5 8 7 3M1763 963l2-6M1763 546l1 6M1767 544l-4 2M1763 514l2 1M1763 898l6 2M1763 898l1 4M1766 851l0-7 -2-4M1764 552l3 0M1764 784l1 0M1764 902l6 1M1765 797l-1 0M1764 519l4 4M1764 519l1-4M1764 538l3 6M1764 538l4-3 0-3M1773 563l-5 2 -5 0 1-5M1765 560l-1 0M1764 987l3 0 5-1M1766 787l-1-3M1767 779l-2 5M1766 797l-1 0M1765 792l0 5M1768 954l-3 3M1767 552l-2 8M1772 558l-7 2M1771 509l-6 6M1774 517l-4-2 -5 0M1768 790l-3 2M1775 453l-6-1 -4 2M1766 629l6-4 1-5M1771 804l-5-7M1770 794l-4 3M1767 788l-1-1M1770 855l-4-4M1766 531l2 1M1767 544l1 0M1768 544l-1 8M1767 805l4 1M1767 527l1 4M1767 527l1-4M1767 479l3 4 2 5M1785 478l-3-4 -3-4 -7 1 -5 8M1767 788l1 2M1767 788l3-3M1767 764l4-5M1768 553l-1-1M1767 779l3 4M1767 778l0 1M1767 778l5-2M1773 620l-2-5 -6-4 4-7 -1-6 0-7M1768 591l0-2M1768 531l0 1M1768 532l8 0M1769 586l-1 3M1768 544l6 0M1771 651l-3 1M1768 523l6-1M1770 791l-2-1M1768 531l6-5M1768 717l0 6M1776 714l-8 3M1777 727l-4 0 -5-4M1768 553l4 5M1777 547l-6 2 -3 4M1768 954l0-5 -3-9 -2-5 7-3 6-1M1769 954l-1 0M1783 607l-5-8 -5-6 -4-7M1769 586l5-2M1769 954l10 2 6 3 10 3M1778 940l-4 5 -1 4 -4 5M1769 891l1 1M1769 891l3-7 4-6 7 0M1769 900l1 3M1770 893l-1 7M1781 827l-4-5 -4-4 -3-3M1773 810l-3 5M1770 794l0-3M1770 791l4-2M1770 855l8 1 4 5 3 6M1770 785l1 1M1770 783l0 2M1770 893l0-1M1780 892l-5 0 -5 0M1775 781l-5 2M1770 903l5 2M1770 794l3 2M1770 893l2 2M1771 509l3 2M1771 509l-1-3 6-2M1771 759l5 0M1775 453l3-8 3-2 4-7 -3-3 -4-5 -3-4 -4-4 0-3M1771 417l5-5 5-7 7-4 11-2 7 0M1773 810l-2-4M1771 806l0-2M1771 786l3 3M1771 786l4-2M1771 804l2-6M1771 651l1 4 3 5M1785 640l-6 3 -2 5 -6 3M1772 986l-1 7 0 1M1772 488l0 2 3 1M1786 480l-7 1 -7 7M1772 776l3 4M1772 776l1-3 1 0M1774 560l-2-2M1780 979l-3 5 -5 2M1777 898l-5-3M1772 895l0 6 3 4M1773 798l0-2M1773 796l4-6M1779 576l-4-5 -2-8M1774 560l-1 3M1781 809l-8 1M1773 798l3-1M1773 620l5-4 5-5M1785 553l-5 4 -6 3M1774 511l1 5M1774 511l3-2M1774 773l4 0M1776 759l-4 5 2 9M1774 522l1 2M1774 517l0 5M1774 526l2 5M1775 524l-1 2M1774 544l3 3M1774 544l-1-6 4-3M1774 517l1-1M1774 517l6 1M1774 789l1-5M1776 790l-2-1M1774 584l8 3M1774 584l2-4 3-4M1775 516l3-3M1775 453l3 4 1 6 5 3 6-2M1775 745l1 5 3 4M1776 739l-1 6M1775 781l0-1M1775 780l4-4M1775 499l1 4M1775 499l2-3M1775 781l1 3M1775 781l5-1M1780 522l-4 2 -1 0M1777 496l-2-5M1775 491l9-1M1775 660l6 2 4 7M1775 905l1 0M1776 784l-1 0M1776 797l2-6M1779 754l-3 5M1776 759l4 5M1780 785l-4-1M1784 722l-2-5 -6-3M1783 702l-6 4 -1 8M1776 504l2 3M1776 504l0-1M1781 804l-5-7M1779 796l-3 1M1776 532l0-1M1781 528l-1-1 -4 4M1776 532l1 1M1776 931l2 9M1777 929l-1 2M1780 737l-4 2M1780 501l-4 2M1777 790l-1 0M1776 790l4-5M1777 914l-1-9M1778 903l-2 2M1778 791l-1-1M1788 541l-6-4 -5-2M1777 535l0-2M1783 923l-2-5 -4-4M1784 549l-7-2M1777 898l1 5M1780 892l-3 6M1777 678l7-5M1777 509l1 2M1778 507l-1 2M1777 496l3 1M1781 528l0 4 -4 1M1777 929l6-6M1780 737l0-6 -3-4M1784 722l-7 5M1780 792l-2-1M1778 507l2 0M1778 513l4 1M1778 513l0-2M1778 511l3 0M1778 940l6 1 2 2 6 5M1778 773l1 3M1778 773l1-1M1778 903l2 0M1789 997l-8 2 -2 3M1779 776l2 3M1780 797l-1-1M1779 796l1-4M1788 570l-5 4 -4 2M1780 773l-1-1M1780 764l-1 8M1779 754l4-1 1 0M1780 773l3 1M1783 770l-3 3M1780 501l3 2M1780 501l0-4M1780 522l2 3M1780 522l2-2M1781 784l-1-4M1780 780l1-1M1780 792l2-1M1783 765l-3-1M1781 785l-1 0M1780 497l3 0M1780 700l3 2M1780 798l0-1M1780 797l4-2M1780 979l3 0M1780 892l1 0M1795 846l-5 0 -6-5 -4-4 1-4 -1-5M1781 827l-1 1M1780 798l4 1M1781 804l-1-6M1782 520l-2-2M1780 518l3-4M1790 736l-8 1 -2 0M1780 507l1 4M1780 507l4-1M1780 903l5 0 4 3M1784 897l-4 6M1782 808l-1-4M1783 789l-2-4M1781 784l0 1M1781 779l2-1M1787 824l-6 3M1782 514l-1-3M1787 824l-4-6 -2-9M1782 808l-1 1M1782 525l-1 3M1781 528l4 1M1784 783l-3 1M1781 892l3 5M1781 892l3-8M1782 808l6-3M1784 794l-2-3M1782 791l1-2M1782 520l3 1M1787 594l-5-7M1782 587l6 0 8-3M1786 522l-4 3M1782 377l2 3M1782 514l1 0M1783 774l1 3M1787 772l-4 2M1784 879l-1-1M1783 878l1-5 1-6M1784 781l-1-3M1783 778l1-1M1783 514l1 0M1785 788l-2 1M1783 503l0-6M1783 497l3-2M1783 607l0 4M1783 607l1-5 3-8M1787 701l-4 1M1783 923l2-1 3-4M1783 503l1 1M1789 766l-6-1M1783 770l0-5M1783 611l5 1M1787 772l-4-2M1791 991l-2-6 -6-6M1783 979l4-8 6-4M1784 783l3 2M1784 781l0 2M1784 490l2 5M1787 483l-3 7M1784 795l0 4M1784 795l0-1M1784 884l1 6 7 6M1784 879l0 5M1789 722l-5 0M1787 777l-3 0M1798 881l-8-4 -6 2M1785 507l-1-1M1784 504l0 2M1788 780l-4 1M1784 673l0 1M1784 673l1-4M1785 553l-1-4M1784 549l4-8M1785 503l-1 1M1784 897l6 0M1784 794l4 0M1784 799l4 6M1784 674l9 4 5 0 7 6M1787 683l-1-4 -2-5M1784 753l5 3 2 7M1791 749l-7 4M1784 514l1 0M1785 507l-1 7M1784 380l7 4 7 2 6 1M1785 867l8-1 4-4M1785 507l5 1 3 2M1785 669l4-3 6-3M1785 640l6 5 5 1 5 3M1785 640l-1-7 3-3 5-4M1785 553l5 5M1785 503l2-6 0-1M1785 503l5 0 1-2 2 0M1785 478l1 2M1785 478l7-3 7-3M1788 532l-3-3M1785 529l1-2M1789 791l-4-3M1785 788l2-3M1786 522l-1-1M1785 521l1-6M1785 514l1 1M1785 514l5-2M1786 480l1 3M1787 496l-1-1M1790 518l-4-3M1786 522l0 5M1789 527l-3 0M1788 522l-2 0M1796 487l-5-4 -4 0M1787 777l1 3M1788 775l-1 2M1789 766l-2 6M1788 775l-1-3M1787 785l4-2M1793 494l-6 2M1796 825l-4-1 -5 0M1793 704l-6-3M1787 701l-1-8 2-5 -1-5M1787 683l8 1 8 6 6 2M1787 594l4 2 6 1M1788 780l3 3M1788 794l3 4M1789 791l-1 3M1792 572l-4-2M1788 570l3-7 -1-5M1788 532l-1 4 1 5M1788 532l1-1M1788 918l1-5 0-7M1788 918l5-4 7-2 7-4M1793 540l-5 1M1792 625l-3-6 -1-7M1794 609l-6 3M1789 805l-1 0M1788 522l2 4M1788 522l2-1M1788 775l3 0M1789 1012l3-3M1792 1009l0-5 -3-7M1789 997l2-6M1791 789l-2 2M1793 808l-4-3M1789 804l0 1M1789 722l0 9 1 5M1794 717l-5 5M1789 906l1-1M1791 765l-2 1M1789 531l0-4M1790 526l-1 1M1791 798l-2 6M1797 802l-8 2M1792 530l-3 1M1790 526l3 1M1790 558l3-1M1790 521l0-3M1790 518l1-3M1808 905l-4 0 -10 1 -4-1M1790 897l0 8M1799 741l-4-2 -5-3M1790 512l1 3M1793 510l-3 2M1792 896l-2 1M1790 464l6 2 3 4M1790 464l6-2 4-6 9-7 4-5M1792 521l-2 0M1794 795l-3 3M1793 783l-2 0M1793 783l-2-8M1796 772l-5 3M1791 991l8 0 5 3M1791 765l5 5M1791 763l0 2M1794 517l-3-2M1791 749l1 6 3 5M1799 741l-3 6 -5 2M1795 760l-4 3M1796 525l-4-4M1792 521l2-4M1799 533l-7-3M1792 530l1-3M1792 626l7 1 5 4M1792 626l0-1M1803 617l-6 2 -5 6M1792 896l7-1 5-3 4 0 4 3M1792 948l1 4 3 5M1792 948l2-6 1-5 0-8 3 0M1792 572l3 5 2 3 -1 4M1792 572l7-3 5-1 4 1M1798 1010l-6-1M1793 510l0-1M1793 557l1 1 7 3 4 3 4 4M1799 552l-6 5M1801 549l-5-5 -3-4M1793 540l2-1M1797 514l-4-5M1796 505l-3 4M1796 525l-3 2M1800 791l-3-4 -4-4M1793 783l6-4M1794 496l-1-2M1796 487l-3 7M1793 704l3 6 -2 7M1793 704l8-2 5-3 5-4M1796 504l-3-3M1794 496l-1 5M1797 816l-4-8M1793 808l7-3M1805 979l-3-5 -5-4 -4-3M1793 967l2-5M1794 517l2 0M1803 617l-5-3 -4-5M1799 603l-5 6M1798 497l-4-1M1794 717l7 3 3 2 5 4 2 1M1794 795l4 5 -1 2M1794 795l2-2 4-2M1804 543l-4-1 -5-3M1795 539l4-5M1805 675l-4-6 -6-6M1795 663l3-4 3-3M1795 962l1-3M1808 758l-6-2 -7 4M1797 862l1-4 -3-7 0-5M1796 845l-1 1M1796 487l4-1M1796 505l0-1M1798 499l-2 5M1799 521l-3-4M1797 514l-1 3M1799 779l-3-7M1796 770l0 2M1796 825l2 6 -1 9 -1 5M1797 824l-1 1M1796 957l0 2M1796 957l3-5 6-7 3-8M1796 770l5-4 8-1 0-1M1808 846l-6 1 -6-2M1796 525l2 0M1804 506l-8-1M1797 586l-1-2M1811 959l-8 0 -7 0M1799 514l-2 0M1800 805l-3-3M1799 863l-2-1M1799 603l-2-6M1797 597l1-2M1797 824l0-8M1797 816l5-4 4-7M1797 824l1 0M1810 588l-1-1 -6 1 -6-2M1798 595l1-6 -2-3M1800 1018l-2-8M1798 1010l3-5 9-3M1798 497l0 2M1798 497l4-2M1798 525l1 1M1799 521l-1 4M1798 929l4 2M1807 915l-1 4 -6 4 -2 6M1798 881l6 4 3-7 3-5 1-3M1798 881l-1-8 1-4 1-6M1798 499l6 2M1798 824l8 1 5 2M1798 824l4-7 7-3 8-9M1810 590l-4 3 -8 2M1799 533l0 1M1799 533l0-7M1804 526l-5 0M1807 782l-5-3 -3 0M1799 552l6 1 6 3 1 0 1 0M1801 549l-2 3M1799 863l7 0M1799 603l6 1M1799 514l3 5M1806 508l-7 6M1801 742l-2-1M1799 1023l1-5M1799 472l2 6 4 4M1799 470l0 2M1804 540l-5-6M1800 534l-1 0M1816 447l-2 5 -7 8 -6 7 -2 3M1799 521l3-2M1805 534l-5 0M1800 534l4-5M1800 1018l5 3 9-2M1800 791l3 0M1800 805l6 0M1802 495l-2-9M1800 486l5-4M1812 443l-7-4 -5-5M1801 656l8 4M1801 649l0 7M1801 649l2-2M1801 549l4-3M1809 754l-5-5 -3-7M1801 742l3-3 2-5 6-5M1802 931l4 3M1813 923l-7 4 -4 4M1802 495l3 2M1802 519l3 2 3 0M1802 519l5-4 2-5M1803 647l5 1 6 0 5 2M1803 647l2-5 3-4M1807 618l-4-1M1803 791l4 7 4 5M1803 791l3-4 1-5M1805 546l-1-3M1804 543l0-3M1804 387l1 7 1 5M1811 377l-3 1 -4 9M1807 538l-3 2M1804 506l0-5M1805 497l-1 4M1806 508l-2-2M1804 631l4 6M1804 631l1-5 2-8M1810 1002l-4-2 -2-6M1804 994l0-4 2-6M1804 526l3 1M1804 529l0-3M1804 529l4 3M1809 495l-4 2M1805 534l2 4M1805 534l3-2M1805 604l2 2M1809 601l-4 3M1805 684l0-9M1815 671l-6 1 -4 3M1809 692l-3-3 -1-5M1805 546l2 1M1806 984l-1-5M1822 975l-7 0 -4 3 -6 1M1805 482l1 0M1811 870l-5-7M1806 863l3-3 2-5 3-6M1830 406l-6 1 -11-2 -6-2 -1-4M1812 492l-3-4 -3-6M1825 471l-6 5 -7 1 -6 5M1806 508l3 2M1806 984l10 1 6 1 2-4M1806 805l5-2M1806 577l2-2M1808 937l-2-3M1817 925l-6 4 -5 5M1807 618l1-6 -1-6M1807 618l1 0M1807 538l4 1M1807 606l7 3M1807 915l0-7M1807 908l1-3M1807 915l3 5 3 3M1807 547l5 3M1811 539l-4 8M1813 778l-6 4M1807 527l3 2M1808 521l-1 6M1814 622l-6-4M1813 613l-5 5M1808 637l0 1M1814 622l1 7 -2 5 -5 3M1821 640l-8 0 -5-2M1808 575l2 3 6 1M1808 569l0 6M1808 937l7 0 7 4M1808 569l1-1M1808 758l1 6M1809 754l-1 4M1808 905l1-1M1808 532l4 5M1808 532l2-3M1808 521l1 0M1808 846l6 3M1811 827l0 5 -2 6 -1 8M1831 760l0-5 -6-5 -4 0 -7 4 -5 0M1816 670l-4-4 -3-6M1809 660l5-2 6-2M1809 568l1-1 7 1M1809 601l2 0M1810 591l0 5 -1 5M1810 515l-1-5M1809 510l5-3M1811 695l-2-3M1831 760l-7 2 -9 0 -6 2M1809 495l0 6 5 6M1809 495l3-3M1809 904l6 5 5 2 3 6M1809 904l3-6 0-3M1809 521l3 1M1809 521l1-6M1810 591l0-1M1810 590l0-2M1811 1002l-1 0M1810 591l6 4M1810 515l6 4M1813 587l-3 1M1810 529l1-1M1811 539l1-1M1816 1012l0-6 -5-4M1835 999l-7-3 -2 1 -7-2 -5 3 -3 4M1811 959l3 6 5 5 3 5M1822 950l-7 4 -4 5M1812 729l-1-2M1828 716l-3-8 -5-3 -2 9 -1 4 -6 9M1822 867l-6 1 -5 2M1815 804l-4-1M1830 691l-5 3 -7 2 -7-1M1811 695l2-8 2-6 0-10M1811 827l4-1M1811 601l5 6M1817 599l-6 2M1811 528l4 1M1812 522l-1 6M1813 556l-1-6M1818 545l-6 5M1812 895l6-1 5-2M1817 543l-5-5M1812 537l0 1M1826 723l-3 4 -4 3 -7-1M1815 522l-3 0M1813 444l-1-1M1832 419l-5 9 -6 4 -4 5 -5 6M1813 536l-1 1M1814 1033l-2 4M1812 772l1 6M1813 492l-1 0M1821 556l-8 0M1844 1036l-5 1 -14 1 -5-2 -7 1M1813 492l3 5 2 4M1813 492l6 0 8-5M1813 444l3 3M1813 923l4 2M1813 613l7 4M1814 609l-1 4M1813 778l3 2M1813 536l2-7M1820 535l-7 1M1813 587l7 0M1813 587l3-8M1814 507l1 0M1814 1019l1 7 -1 7M1814 1033l7-3M1814 609l2-1M1814 622l5-2M1822 867l0-4 1-7 4-6 -7 1 -6-2M1816 1012l-2 7M1815 529l3-1M1815 671l1-1M1834 847l-2 0 -6-11 -8-5 -3-5M1815 826l5-5 2-3 3-7M1817 805l-2-1M1816 780l-1 10 1 8 -1 6M1815 522l3 6M1816 521l-1 1M1815 507l3 2M1818 501l-3 6M1816 608l5 6M1816 608l0-1M1816 447l7 3 4 4M1816 521l8 1M1816 521l0-2M1816 579l1 0M1825 782l-9-2M1821 515l-5 4M1834 687l-3-6 0-5 -1-5 -7-3 -7 2M1817 599l-1-4M1816 595l5-4M1820 604l-4 3M1831 1012l-7 1 -8-1M1817 568l3 1M1817 579l1-7 -1-4M1817 805l4 1M1817 599l2 1M1817 579l2 0M1817 543l1 2M1820 535l-3 8M1819 925l-2 0M1818 545l7 1M1819 529l-1-1M1818 501l6-5 6-2M1818 509l3 6M1831 506l-6 0 -7 3M1819 620l2 8 4 1M1819 619l0 1M1819 925l3 6 1 6 -1 4M1823 917l-2 3 -2 5M1822 581l-3-2M1819 579l2-3M1824 621l-5-2M1820 617l-1 2M1820 656l-1-6M1819 650l3-3M1819 529l1 6M1819 529l4-2M1819 600l1 4M1822 598l-3 2M1821 614l-1 3M1822 590l-2-3M1820 587l2-6M1820 535l5 2 4 2M1821 576l-1-7M1820 569l1 0M1820 604l5 2M1820 656l9 2 4 5M1824 572l-3-3M1821 569l1-2M1821 576l3 0M1822 647l-1-7M1822 639l-1 1M1821 806l3 3 1 2M1825 782l-2 6 -1 11 -1 7M1823 563l-2-7M1821 556l4-3M1826 519l-5-4M1843 1031l-6-2 -6 2 -10-1M1833 1020l-6 5 -6 5M1827 612l-6 2M1821 591l1 7M1821 591l1-1M1822 647l3 3 6 1M1822 581l1 0 0-1M1823 949l-1-8M1822 941l6-2 8-3M1830 964l-3-7 -5-7M1822 950l1-1M1822 598l3 0 4-4M1822 867l5 5 1 5M1822 590l3 0M1825 629l-3 4 0 6M1834 641l-6-3 -6 1M1824 982l-2-7M1822 975l3-1M1823 563l-1 4M1825 566l-3 1M1832 533l-5-2 -4-4M1823 527l1-5M1823 949l6 1 5-1 5 2M1823 563l5-2M1835 1050l-8-1 -3-1 -1 0M1823 917l7-2 5-1M1823 892l5 5 3 9 5 3M1823 892l4-5M1827 581l-4-1M1825 578l-2 2M1824 621l3 7M1831 615l-4 4 -3 2M1824 572l4 0M1825 574l-1-2M1824 982l4 2 5 0M1826 519l-2 3M1825 578l-1-2M1824 576l1-2M1827 628l-2 1M1829 577l-4 1M1826 590l-1 0M1825 590l1-4 3-3M1829 571l-4-5M1825 566l2 0M1830 781l-5 1M1830 965l-4 4 -1 5M1829 974l-4 0M1828 575l-3-1M1825 606l2 6M1825 606l3-3 3-1M1827 813l-2-2M1825 546l1 4M1829 539l-4 7M1825 553l5 5M1826 550l-1 3M1825 471l2 4 1 7 -1 5M1827 454l-2 7 2 3 -2 7M1840 724l-6 2 -8-3M1828 716l-2 7M1826 590l3 4M1826 590l3-2M1826 377l2 2 5 6 2 4 -2 7 3 7M1826 550l7 0 2 2M1836 517l-5 1 -5 1M1831 627l-4 1M1831 615l-4-3M1843 819l-1-3 -8 1 -7-4M1834 838l-1-10 -1-7 -5-8M1827 487l3 7M1846 449l-7 0 -6 3 -6 2M1827 566l1 0M1827 566l1-5M1827 581l2 2M1829 578l-2 3M1828 877l1 5 -2 5M1827 887l5 0 8 1 5-1 4-8 1-2M1828 877l4-4 7-3M1828 561l2-3M1829 574l-1-2M1829 571l-1 1M1830 569l-2-3M1835 714l-7 2M1829 577l-1-2M1828 575l1-1M1832 566l-4 0M1831 563l-3 3M1830 569l-1 2M1829 578l0-1M1829 578l1 0M1829 594l2 0M1829 583l1 2M1829 583l2-1M1830 585l-1 3M1829 588l2 0M1829 974l8 1 1 1M1838 968l-3 3 -6 3M1832 537l-3 2M1829 574l4 3M1832 572l-3 2M1835 554l-5 4M1831 506l-2-5 1-7M1843 495l-7-1 -6 0M1830 691l2 6 4 7M1830 691l4-4M1830 964l0 1M1841 956l-6 4 -5 4M1838 967l-8-2M1830 578l1 4M1830 578l3-1M1830 406l1 7 1 6M1830 406l6-3M1831 559l-1-1M1835 558l-5 0M1830 569l2 1M1830 585l1 1M1830 781l5 8 2 6 6 2 5-2M1835 775l-5 6M1833 564l-2-1M1831 563l0-4M1835 562l-4-3M1831 594l2-5M1835 592l-4 2M1831 1012l2 8M1836 1007l-5 5M1831 594l6 2M1831 601l0-7M1833 768l-1-3 -1-5M1837 639l-4-6 -2-6M1831 627l3-6M1831 582l1 0M1838 515l-3-4 -4-5M1831 586l0 2M1833 585l-2 1M1833 589l-2-1M1831 615l1 0 2 6M1831 602l5 3M1831 602l0-1M1831 651l1 7 1 5M1834 641l0 5 -3 5M1831 601l7-3M1832 537l0-4M1832 533l1-4 1-8 2-4M1832 572l3 3M1832 572l0-2M1833 569l-1 1M1833 585l-1-3M1832 582l1-1M1833 569l-1-3M1832 566l1-1M1837 538l-5-1M1832 419l9 7 7 6 2 3 8 5M1833 565l0-1M1833 564l2-2M1843 1031l-3-5 -7-6M1833 569l3 2M1833 577l1 3M1833 589l1 0M1833 569l3-3M1833 581l3 4M1833 581l1-1M1833 736l3-7 4-3M1833 577l2-2M1833 565l3 1M1847 659l-7 1 -7 3M1833 768l2 7M1833 768l5-5 10-1M1833 585l1 1M1840 994l-4-4 -3-6M1833 984l5-3M1839 687l-5 0M1834 589l2 0M1834 589l0-3M1834 838l0 9M1843 819l-4 6 -1 6 -4 7M1837 580l-3 0M1837 847l-3 0M1834 586l2-1M1834 926l3 5 0 3M1845 633l-4-7 -4-5 -3 0M1837 639l-3 2M1835 1050l0 5 4 5 5-2M1844 1036l-2 5 -5 3 -2 6M1835 592l1-3M1837 592l-2 0M1835 999l1 8M1835 999l5-5M1835 552l0 2M1837 562l-2 0M1838 550l-3 2M1839 554l-4-2M1839 776l-4-1M1837 555l-2-1M1835 554l0 4M1835 575l3 2M1835 575l0-1M1853 926l-4-3 -7-1 -5-4 -2-4M1835 914l1-5M1835 714l6 7M1835 714l2-5M1835 574l1-3M1835 574l6-1M1837 558l-2 0M1837 403l-1 0M1836 605l2 3M1838 598l-2 7M1836 571l1-1M1836 1007l3 1M1836 566l1 4M1836 589l1 0M1836 566l2-2M1840 949l-1-5 -3-8M1837 934l-1 2M1837 709l-1-5M1850 706l-6-3 -8 1M1836 909l6-3 8-3M1838 516l-2 1M1838 588l-2-3M1837 584l-1 1M1859 432l-8-9 -3-6 -4-3 -7-11M1854 396l-4 0 -8 6 -5 1M1837 580l0 4M1839 584l-2 0M1850 712l-6-4 -7 1M1837 562l1 1M1837 562l0-4M1838 558l-1-3M1839 554l-2 1M1837 538l1 4M1845 535l-4 3 -4 0M1837 592l0 4M1838 591l-1 1M1852 934l-6 2 -9-2M1841 571l-4-1M1839 568l-2 2M1837 847l3 3 0 6 1 5 -2 9M1842 843l-5 4M1838 558l-1 0M1838 591l-1-2M1837 589l1-1M1841 581l-4-1M1838 577l-1 3M1837 639l7 0M1839 597l-2-1M1838 564l1 4M1838 563l0 1M1841 557l-3 1M1840 576l-2 1M1843 521l-5-5M1838 516l0-1M1838 981l0-5M1839 976l-1 0M1838 515l5-4 4-3 2-4M1838 967l0 1M1843 959l-3 5 -2 3M1845 549l-4-4 -3-3M1838 542l0 1 0 7M1838 968l1 2 6 1M1838 563l1 0M1841 587l-3 1M1838 608l0 1 7 6M1841 606l-3 2M1839 598l-1 0M1838 550l3 2M1838 591l2 0M1847 984l-4-1 -5-2M1845 971l-6 5M1845 975l-6 1M1839 598l1 4 1 4M1839 597l0 1M1841 565l-2-2M1842 560l-3 3M1839 776l4 2 3 8 4 4M1839 776l2-3 5-3M1851 702l-6-6 -4-3 -2-6M1856 682l-6 1 -4 3 -7 1M1839 870l5 2 6 5M1839 597l7 2M1839 597l2-4M1842 568l-3 0M1839 1008l8 1 5 8M1839 1008l5-5 7-3 -4-4 0-5M1841 956l-2-5M1839 951l1-2M1840 554l-1 0M1839 584l2 3M1841 581l-2 3M1840 994l7-3M1841 593l-1-2M1842 587l-2 4M1840 724l0 2M1841 721l-1 3M1848 732l-3-3 -5-3M1840 554l1 3M1840 554l1-2M1843 581l-3-5M1840 576l1-1M1840 752l5 2 5 1M1840 949l5-6 7-2M1841 557l2 1M1841 575l0-2M1841 571l0 2M1841 741l3-2M1843 570l-2 1M1845 592l-4 1M1841 575l4 1M1850 717l-6 1 -3 3M1841 606l4-1M1841 581l2 0M1843 959l-2-3M1842 587l-1 0M1845 550l-2 1 -2 1M1845 583l-4 4M1842 565l-1 0M1844 562l-3 3M1842 587l2 2 1 3M1844 562l-2-2M1843 558l-1 2M1842 565l0 3M1847 565l-5 0M1843 570l-1-2M1844 558l-1 0M1843 570l2 0M1843 495l5 2M1846 480l-6 1 3 5 0 9M1849 826l-3-2 -3-5M1845 535l-3-6 1-8M1843 521l7 0 7 1M1846 960l-3-1M1844 1036l-1-5M1851 1022l-6 4 -2 5M1843 581l1 0M1844 582l0-1M1844 581l1-4M1846 562l-2 0M1851 645l-4-5 -3-1M1844 639l1-4M1847 561l-3-3M1848 556l-4 1 0 1M1851 1040l-7-4M1844 739l6 1 5 7 5 1M1844 739l4-7M1844 582l1 1M1844 582l5-2M1844 1058l7 2 6-1 3-5 -2-7M1856 1046l-4 6 -4 2 -4 4M1847 984l-2-9M1845 971l0 4M1845 583l1 2 3 1M1845 577l0-1M1845 576l2-4M1845 633l0 2M1845 633l0-6 3-5M1849 554l-4-4M1845 549l0 1M1865 621l-8 6 -6 2 -6 6M1848 622l-3-2 0-5M1845 615l1-2M1850 545l-5 4M1845 605l1 0M1846 599l-1 6M1848 577l-3 0M1851 972l-6-1M1846 960l0 6 -1 5M1845 570l2 2M1845 570l2-5M1845 1072l5 0 5-4M1848 536l-3-1M1848 593l-3-1M1846 599l1-2 1-3M1846 605l4 1M1846 605l0 8M1852 466l-2-5 -3-6 -1-6M1846 449l6-4 6-5M1846 960l6 1 5-5M1846 770l6 3M1846 770l2-5M1847 565l-1-3M1846 562l1-1M1854 612l-8 1M1849 482l-3-2M1852 466l-6 8 0 6M1847 561l2-1M1847 991l2-5M1848 573l-1-1M1852 568l-5 4M1847 565l3 1M1857 667l-5-1 -5-7M1851 645l-2 5 -2 9M1849 986l-2-2M1848 762l0 3M1848 762l2-7M1848 594l0-1M1849 591l-1 2M1850 545l-3-4 1-5M1848 536l4-1M1848 594l1 1M1848 732l7-1M1849 558l-1-2M1849 554l-1 2M1848 765l5 4 3 1M1851 574l-3-1M1848 577l0-4M1850 578l-2-1M1848 795l4 4M1850 790l-2 5M1849 504l-1-7M1848 497l2-2 -3-6 2-7M1863 619l-8 1 -7 2M1865 479l-5 2 -7 2 -4-1M1850 560l-1 0M1849 560l0-2M1853 557l-4 1M1849 580l2 3M1850 578l-1 2M1849 595l6 0M1849 595l5 5M1849 554l3 1M1853 547l-4 7M1850 586l-1 5M1854 590l-5 1M1850 586l-1 0M1851 583l-2 3M1857 508l-4-1 -4-3M1849 986l2-1 6 2 1 5 7 9 4 4M1851 563l-1-3M1850 560l5-2M1850 712l0-6M1851 702l-1 4M1853 873l-3 4M1850 586l6 1M1852 608l-2-2M1850 606l2-5 2-1M1850 755l4-1M1858 782l-3 5 -5 3M1850 578l3-1M1850 545l3 2M1851 903l-1 0M1850 903l1-7 5 0 5-4M1850 717l2 8 3 4M1852 714l-2 3M1852 714l-2-2M1850 566l2 1M1851 563l-1 3M1851 1022l8 1 5 7M1851 1022l1-5M1851 972l1 8 5-2 3-4M1851 972l3-4 4 1M1853 577l-2-3M1853 569l-2 5M1851 702l6-3 5-1M1851 1040l5 6M1851 1040l2-3 8-3 3-4M1854 583l-3 0M1851 645l8-2M1866 904l-9 2 -6-3M1859 922l-4-7 -2-6 -2-6M1851 563l4-1M1852 934l0 2M1853 926l-1 8M1852 714l7-1M1852 773l-2 4 4 3 4 2M1856 770l-4 3M1852 376l0 7 -1 6 3 7M1859 826l-6-6 -2-4 -2-5 1-1 -1-6 3-5M1852 799l1 0M1852 567l0 1M1856 564l-4 3M1865 479l-4-3 -4-6 -5-4M1852 555l1 2M1855 553l-3 2M1852 941l0-5M1852 936l5-1 5 1 8 1M1852 1017l8-3 4-6 3-1M1853 569l-1-1M1854 612l-2-4M1857 602l-5 6M1852 941l1 1M1860 542l-3-5 -5-2M1852 535l5-6M1853 557l2 1M1853 942l3 8 1 6M1853 942l7 0 5 2 5-7M1862 802l-9-3M1864 790l-4 4 -7 5M1853 926l6-4M1853 873l5 3 7 2 5-4M1868 855l-5 1 -6 2 -2 8 -2 7M1855 577l-2 0M1853 569l4 0M1855 577l-2-8M1854 547l-1 0M1854 754l3 7 3 7M1860 748l-2 2 -4 4M1854 583l2 3M1854 583l3-5M1854 600l1 0M1854 590l1 5M1854 590l2-1M1854 547l1 6M1856 547l-2 0M1863 619l-6-3 -3-4M1854 396l8 4M1854 1081l5-1M1855 559l0-1M1858 555l-3-2M1862 738l-4-3 -3-4M1855 731l0-2M1856 564l-1-2M1855 562l0-3M1855 595l1 1M1859 1080l0-6 -4-6M1855 1068l0-1 9-4M1864 721l-5 1 -4 7M1855 577l2 1M1855 577l3-6M1857 602l-2-2M1856 596l-1 4M1857 558l-2 1M1859 591l-3-2M1856 589l0-2M1858 595l-2 1M1856 564l1 3M1856 564l2-1M1856 587l0-1M1858 1047l-2-1M1856 547l4 4M1856 547l3-3M1857 682l-1 0M1856 682l2-7 -1-8M1857 770l-1 0M1865 588l-9-2M1856 586l3-2M1857 578l0 1M1860 561l-3-3M1857 558l1-2M1857 770l0 8 1 4M1860 768l-3 2M1859 584l-2-5M1858 578l-1 1M1862 602l-5 0M1857 667l1-1M1857 522l2 1M1857 508l1 6 -1 8M1857 682l2 6 1 6 2 4M1857 682l5-1 7-1 4 2 3-4 -5-7M1858 570l-1-1M1858 568l-1 1M1857 956l9 2M1865 536l-5-4 -3-3M1857 529l2-6M1857 567l1 1M1857 567l2-3M1857 508l6 0 8-2M1858 563l1 1M1860 561l-2 2M1861 566l-3 2M1860 439l-2 1M1860 783l-2-1M1862 602l1-4 -5-3M1858 595l1-4M1860 974l-2-5M1858 969l6-2 4-4 0-3M1858 571l2 3M1858 571l0-1M1863 570l-5 0M1858 555l0 1M1860 551l-2 4M1863 581l-5-3M1861 576l-3 2M1863 557l-5-1M1869 1043l-4 2 -7 2M1858 666l7 3 6 2M1858 666l5-3 4-4M1867 523l-8 0M1859 591l6-3M1859 544l2 4 4 3M1860 542l-1 2M1865 585l-6-1M1859 922l6-1 4 7 -1 2 2 6M1864 721l-5-8M1859 713l3-2 3-4M1865 839l-6-1 -7 0 1-5 5-7 1 0M1862 826l-3 0M1859 1080l2 1 8-2M1859 643l6 7 3 6M1859 643l4-5 4-4M1859 564l2 0M1859 432l1 7M1862 400l-2 8 -1 11 1 4 -1 9M1865 768l-5 0M1860 561l2 1M1868 978l-8-4M1865 551l-5 0M1864 540l-4 2M1860 783l4 7M1868 779l-8 4M1860 748l2-1M1861 439l-1 0M1861 576l-1-2M1860 574l3-2M1861 576l3-1M1861 439l7 6 5 3 5 5M1861 439l5-3 10-8 9-6 6-5 -3-4M1861 564l0 2M1861 564l1-2M1864 568l-3-2M1861 892l2 1M1861 892l2-7 2-1 4 1 6 1M1862 747l6 3M1862 738l0 4 0 5M1862 400l6 1 5-4M1869 811l-4-5 -3-4M1865 799l-3 3M1865 561l-3 1M1862 738l5-4M1864 828l-2-2M1869 811l-5 4 -1 6 -1 5M1867 609l-5-7M1862 698l3 2M1863 570l0 2M1864 568l-1 2M1865 561l-2-4M1866 552l-3 5M1863 572l1 2 0 1M1863 581l2 4M1864 575l-1 5 0 1M1876 894l-6-1 -7 0M1866 904l-2-5 -1-6M1865 620l-2-1M1864 1030l2 0M1871 1071l-3-3 -4-5M1864 1063l0-3 8-5 5-2 5-3M1868 567l-4 1M1864 721l3 1M1864 575l4 2M1865 839l-2-5 1-6M1874 811l4 8 -2 7 -7 1 -5 1M1868 792l-4-2M1871 545l-7-5M1864 540l1-4M1865 480l0-1M1865 536l3-3M1867 588l-2 0M1865 551l1 0M1865 768l0 6 3 5M1865 768l5-2 3-5M1866 586l-1-1M1872 713l-3-3 -4-3M1865 707l0-7M1875 800l-5 1 -5-2M1868 792l-3 7M1865 561l3 5M1868 557l-3 4M1865 480l-2 7 -4 4 2 4 4 4 6 4M1865 480l4-1M1865 621l0-1M1868 617l-3 3M1865 621l2 6 0 5M1877 697l-6 4 -6-1M1868 855l1-4 -1-6 -3-6M1866 551l0 1M1871 545l-5 6M1868 556l-2-4M1866 958l2 2M1866 958l2-9 7-2M1867 588l-1-2M1866 586l3-6M1869 1043l-3-6 0-7M1871 1024l-5 6M1866 904l6 4 1 0M1872 591l-3-1 -2-2M1867 523l2 2M1867 523l2-6 3-8 -1-3M1867 609l1 8M1874 593l-4 7 -2 3 -1 6M1867 634l4 5 6 4 3 4M1867 632l0 2M1867 659l4 1 3 4M1868 656l-1 3M1871 1024l0-7 -4-4 0-6M1869 1005l-2 2M1867 734l9 0 4 0 6 0M1867 734l2-9M1867 632l7 0 4-1 9 1M1867 722l2 3M1867 722l5-5M1873 535l-5-2M1868 533l1-7M1868 750l3 5 2 6M1887 741l-9 1 -3 6 -7 2M1877 995l-2-7 -6-3 -2-5 1-2M1868 978l5-7 6 0 7 2M1868 656l5-2 7-4M1881 783l-8-5 -5 1M1868 960l5-1 6-3M1868 855l1 1M1868 577l1 3M1868 577l3-5M1868 567l3 4 1 1M1868 566l0 1M1874 561l-6 5M1875 790l-7 2M1868 556l0 1M1868 556l7-5M1868 617l6-1 4-2 3 6 3 2 4 5M1868 557l6 2M1869 525l0 1M1882 522l-7 2 -6 1M1869 725l5 1 8 0M1869 1043l7 2 6 1 1 0M1869 811l5 0M1870 1005l-1 0M1874 530l-5-4M1876 584l-4-4 -3 0M1869 856l1 0M1870 874l1-7 0-4 -2-7M1873 1090l-1-5 -3-6M1869 1079l1-2M1869 479l4 3 2 4M1869 479l5-5 4-8 0-7 0-6M1870 1097l3-6 0-1M1870 1005l5 5 10 3 5 4M1870 1005l4-6 3-4M1870 937l0-1M1886 868l-4-2 -6-4 -6-6M1895 849l-10 1 -4 5 -11 1M1886 1080l-5-2 -6 0 -5-1M1871 1071l-1 6M1870 874l2 2M1875 938l-5-2M1871 503l0 3M1885 1063l-4 3 -6 3 -4 2M1871 671l3-7M1871 1024l6 3 4 2 4-5 4-2M1871 545l3 0M1879 496l-3 5 -5 2M1879 581l-4-2 -3-5 -1-2M1872 572l-1 0M1877 570l-5 2M1872 876l9 0 5 1 1 0M1872 876l1 6 2 4M1874 593l-2-2M1872 591l4-7M1872 713l0 4M1872 713l8-4 5-4M1872 717l8 4M1875 540l-2-5M1873 535l1-5M1873 908l6 0 5-3M1873 908l-1 9 5 0 4 3M1873 397l5 6 6 3 4 7M1880 384l-2 5 -5 8M1886 1085l-7 6 -6-1M1873 761l6 2M1874 545l2 3M1874 545l1-5M1874 593l6 1 4 3M1874 811l1-1M1874 561l2 2M1874 559l0 2M1874 559l1-1M1874 530l5 2 5-2M1884 666l-5-2 -5 0M1889 823l-4-6 -5-3 -5-4M1877 807l-2 3M1875 800l2 7M1875 790l1 5 -1 5M1878 949l-3-2M1875 947l0-9M1879 936l-4 2M1875 558l0-7M1875 558l5 0M1881 783l-3 3 -3 4M1875 886l1 1M1875 486l2 5 2 5M1875 486l6-1 5-3 3 5 4 2M1883 533l-5 3 -3 4M1875 551l1-3M1876 894l0-7M1876 376l4 8M1876 563l1 7M1885 562l-9 1M1879 581l-3 3M1876 548l3 1 8 0M1889 880l-6 6 -7 1M1885 573l-8-3M1877 513l3 4 2 5M1877 697l6 4M1891 684l-7 3 -7 1 0 9M1888 990l-4 2 -7 3M1879 807l-2 0M1878 1106l6-4 2-7 3-1M1878 453l5-1 6 0M1878 949l1 7M1878 949l4-2M1892 776l-4-3 -6-6 -3-4M1888 743l-2 7 -3 8 -4 5M1889 961l-6-2 -4-3M1879 496l8 2 6 0M1881 581l-2 0M1892 812l-6-3 -7-2M1890 792l-1 5 -8 5 -2 5M1879 936l3 1M1881 920l-1 7 -1 9M1880 721l2 5M1885 705l0 4 -2 6 -3 6M1881 651l-1-1M1880 650l0-3M1894 383l-7 0 -7 1M1880 647l4-3M1881 920l4 0M1894 653l-8-1 -5-1M1881 651l4 8 -1 7M1881 783l8-3M1881 581l6 6M1881 581l4-8M1882 937l8 1M1882 937l0 4 0 6M1882 947l4 2 7 0M1882 1050l3 6 0 7M1883 1046l-1 4M1882 522l5 3M1882 726l5 4M1883 1046l6-3 7-2 6 1M1883 701l2 4M1883 701l3-7 4-4 4-2M1883 533l4 4 2 6M1883 533l1-3M1884 597l4 8 1 0M1884 597l1-4 2-6M1884 644l6 2 6 1M1884 644l1-6 3-2M1884 905l3 2M1891 895l-5 2 -2 8M1884 666l3 4M1884 530l3-5M1885 1063l6 5 1 7M1890 570l-5-8M1887 549l-1 5 -1 7 0 1M1890 923l-5-3M1888 913l-3 7M1885 573l4-3M1886 706l-1-1M1886 868l1 9M1896 857l-6 3 -4 8M1889 1094l0-4 -3-5M1886 1080l0 5M1892 1075l-6 5M1894 707l-8-1M1886 706l-1 7 1 7 2 6M1889 978l-3-5M1886 973l0-5 3-7M1887 741l-1-7M1886 734l1-3 0-1M1887 741l1 2M1887 587l7-2M1889 880l-2-3M1887 632l1 4M1887 632l1-5M1889 524l-2 1M1888 726l-1 4M1889 543l-2 6M1897 558l0-5 -5 0 -5-4M1891 684l-2-6 -1-6 -1-2M1893 666l-6 4M1887 907l1 6M1894 902l-7 5M1888 474l6-1 4 2M1888 636l4 4 8-1M1888 990l4 4 0 7 4 7M1888 990l2-3 -2-5 1-4M1898 711l-3 3 -3 7 -4 5M1888 743l4 5 9 5 4 3M1888 627l6-2M1888 913l7 0 7-6M1896 387l-1 7 -2 8 -5 11M1889 1022l6 8 3 5 5 6M1889 1022l1-5M1889 452l4-9 -1-5 7-10 1-9 6 1 3-1M1889 452l6-1 6 4M1895 540l-6 3M1889 524l3 7 4 3M1891 523l-2 1M1893 881l-4-1M1897 606l-8-1M1896 585l-4 8 -1 3 -2 9M1889 780l2 7 -1 5M1889 780l3-4M1895 848l-2-4 -8-4 -4-6 0-5 4-1 4-5M1889 823l3-1M1889 961l4-3 2-5M1889 978l7-4 3-2 7-1 0-2 4-6M1900 1098l-7-1 -4-3M1894 585l-3-6 -2-9M1890 570l-1 0M1890 570l7 3 6 0M1890 570l3-7 4-5M1890 938l3 4 0 7M1892 936l-2 2M1890 792l6 7 2 6M1890 923l2 3 -2 5 2 5M1899 918l-5 3 -4 2M1890 1017l3-2M1891 684l3 4M1891 895l3 7M1894 887l-3 8M1891 523l0-7 0-8 2-5 1-4M1891 523l9-3 5 0 10 0M1892 1075l4 3 2 6 2 4 2 8M1896 847l-1-11 -1-6 -2-8M1901 936l-6 2 -3-2M1892 812l-1 6 1 4M1898 805l-3 4 -3 3M1905 825l-5-3 -8 0M1892 776l3-2M1894 887l-1-6M1902 874l-5 5 -4 2M1913 1003l-1 7 0 6 -6 0 -8 1 -5-2M1896 1008l-3 7M1895 953l-2-4M1893 489l0 9M1898 475l0 8 -5 6M1894 499l-1-1M1905 666l-6 1 -6-1M1894 653l1 7 -2 6M1894 688l6 0 5 2M1900 634l-3-4 -3-5M1894 625l4-4 4-4 3-3M1894 902l4 3 4 2M1896 651l-2 2M1894 707l4 4M1905 691l-2 5 -7 6 -2 5M1894 887l7 4 6-2 3-5M1896 585l-2 0M1907 500l-7 2 -6-3M1894 383l2 4M1899 376l-1 1 -4 6M1895 540l3 3 5 2M1896 534l-1 6M1910 804l-5-7 -5-8 1-7 -6-8M1896 774l-1 0M1895 849l1 1M1895 848l0 1M1895 953l2-1M1895 848l1-1M1903 780l-4-1 -3-5M1903 766l-5 3 -2 5M1896 850l5 1 7 2 4 2 5-4 2-4M1896 857l0-7M1896 1008l4-3 5-1 8-2M1905 534l-9 0M1896 651l0-4M1896 647l4-8M1897 586l-1-1M1896 387l6 3 9 8 4 5M1896 651l8 3M1902 868l-2-6 -4-5M1896 847l2-2 4-4 8 0M1897 606l3 6 5 2M1904 594l-5 7 -2 5M1897 558l5 5 5 1M1904 594l-5-3 -2-5M1897 586l6-5M1910 963l-4-2 -3-5 -6-4M1898 952l-1 0M1898 952l5-8 -2-8M1911 946l-8 2 -5 4M1898 475l4-2 5-2M1913 717l-7 4 -3-6 -4-3 -1-1M1908 805l-5-2 -5 2M1899 918l3 5 5 1M1899 918l4-4 0-7M1899 1102l1-4M1902 640l-2-1M1900 639l0-5M1900 1098l2-2M1900 634l3-7 5-2M1911 938l-5-4 -5 2M1901 455l4 4 2 6M1901 455l6-6 4-4 3-8M1910 646l-5-1 -3-5M1902 640l4-2 5-6M1902 907l1 0M1902 874l0-6M1902 868l7-5 6-2 5 3M1902 874l6 0 3 3M1914 1092l-5 4 -7 0M1909 1056l-1-5 -2-4 -4-5M1902 1042l1-1M1903 766l7 4 6 1M1905 756l-2 5 0 5M1903 581l8 4M1903 573l0 8M1907 1036l-4 5M1908 906l-5 1M1916 558l-9-3 -5-5 1-5M1904 544l-1 1M1903 573l1-1M1903 780l7 2 5 4 7 1M1903 780l6 7 2 7 8 7M1904 594l8-3 -1-6M1914 542l-4 2 -6 0M1905 534l-1 5 0 5M1904 572l8 2 4 2M1907 564l-3 8M1904 654l1 5 0 7M1910 649l-6 5M1914 738l-5-5 -5-5M1905 534l6-3 3-9M1905 690l-2-5 -3-7 3-6 5-5M1905 666l3 1M1908 826l-3-1M1908 805l-2 5 -1 9 0 6M1905 690l0 1M1929 680l-4 4 -5 2 -7-3 -4 3 -4 4M1905 691l2 5 7 4 1 4M1910 615l-5-1M1907 924l-2 5M1905 756l3-3 9 0 3 3 9 0M1907 500l4 4 3 6 2 6M1907 500l3-6M1909 474l-2-3M1907 465l0 6M1907 924l7-2 3-4M1907 1036l7 2 5 2 4 3M1924 1025l-7 0 -4 7 -5 3 -1 1M1907 465l8-4 6-1 9-1M1907 564l6-3 3-3M1920 665l-7 4 -5-2M1908 906l4 5 5 7M1908 906l2-5 2-1M1911 632l-3-7M1908 625l1-4 1-6M1908 826l7 6M1908 826l6-4 5-4 6 6 6 2M1908 805l2-1M1910 494l-2-6 2-8 -1-6M1918 477l-5-3 -4 0M1910 420l-1-1M1915 403l-1 5 -4 7 -1 4M1913 1072l-1-6 -4-5 1-5M1909 1056l6-2 9 0M1913 614l-3 1M1910 649l2 5 5 8 3 2M1910 646l0 3M1921 490l-6 3 -5 1M1919 960l-9 3M1910 884l-1 9 3 7M1912 880l-2 4M1910 841l6 3 3 3M1910 841l2-4 3-5M1920 641l-4 3 -6 2M1925 421l-8 2 -7-3M1914 437l0-5 -2-7 -2-5M1910 804l7-1 2-2M1920 641l-3-6 -6-3M1911 585l1-5 4-4M1911 877l1 3M1911 877l3-3 7-3M1911 946l0-8M1911 938l8-4 7-5 5-3M1920 953l-3-5 -6-2M1923 987l-6-1 -5-3M1913 1002l-5-6 -2-7 6-6M1912 983l0-5 7-6 5-1M1912 880l3 5 7 4M1912 900l2-1M1912 376l2 6 9 5 3 5M1913 1003l0-1M1913 1072l1 4 3 6M1913 1072l3-1 7-5 4-1M1922 728l-5-6 -4-5M1915 715l-2 2M1924 620l-6-3 -5-3M1913 614l2-5 1-5 4-8 2-1M1916 1002l-3 1M1921 550l-3-3 -4-5M1914 522l2 5 -2 8 0 7M1914 522l1-1M1914 1092l5 5 4 2M1914 1092l0-6 3-4M1937 908l-6-4 -12-2 -5-3M1922 889l-2 5 -6 5M1914 437l5 2 3 3 4 6 0 4 4 6M1925 833l-4-2 -6 1M1924 718l-4-2 -5-1M1915 704l-2 6 2 5M1915 520l0 1M1916 516l-1 4M1915 403l6-2 2-5M1917 522l-2-1M1929 702l-6-1 -8 3M1916 771l7 1M1922 787l-1-4 -4-5 -1-7M1925 512l-4 2 -5 2M1922 557l-6 1M1929 1014l-4-4 -5-5 -4-3M1916 1002l6-5 4-1 -1-5 -2-4M1919 575l-3 1M1917 1082l5-2M1939 527l-8-4 -4 0 -10-1M1923 531l-3-3 -3-6M1917 918l7 3 6 2M1924 481l-6-4M1918 477l5-6 4-4 6-3M1924 971l-2-7 -3-4M1919 960l1-7M1919 575l2 5 0 7 1 7M1923 572l-4 3M1919 847l3 0M1928 797l-4 4 -5 0M1929 679l-5-5 -1-4 -3-5M1920 665l0-1M1925 640l-5 1M1922 866l-2-2M1922 847l-2 5 1 4 -1 8M1937 945l-6 2 -5 2 -6 4M1920 664l4-2 4-3M1935 494l-5 0 -4-2 -5-2M1924 481l-3 3 0 6M1921 550l3 4M1923 531l0 7 1 4 -3 8M1921 871l3 4 4 4 4 5M1921 871l1-5M1930 795l-6-4 -2-4M1922 847l4-2M1946 731l-4-5 -7-3 -7 4 -2 7 -3-1 -1-5M1924 718l-3 4 1 6M1923 559l-1-2M1924 554l-2 3M1922 889l6-1 4-2M1924 595l-2 0M1922 595l0-1M1922 1080l7 1 7 3M1922 1080l3-3M1927 864l-5 2M1932 578l-2 6 -5 5 -3 5M1923 987l2-5 3-3M1923 572l5 4 4 2M1923 572l1-6 -1-7M1923 559l5 0 6 6M1929 777l-6-5M1931 760l-4 7 -4 5M1923 396l6 6 4 6 5 4 -1 4M1926 392l-3 4M1923 531l4 3 5 4M1924 1054l1-7 -2-4M1923 1043l3-6 2-6M1924 1054l4 4 4 1M1924 554l2-1M1924 971l2 1M1930 480l-6 1M1929 702l3 5 1 4 -6 3 -3 4M1924 1025l4 6M1924 1025l6-6 9 2 6-2M1936 614l-1-6 -7-6 -4-7M1932 595l-8 0M1925 640l-1-8 2-5 -2-7M1924 620l6-1 5-3M1925 421l4 3 2 5 5 3 6 0M1925 421l7-2M1925 1077l2-6 0-6M1925 1077l6-2 6-4 2 6 -3 7M1925 833l0 4 1 7M1931 826l-6 7M1942 520l-4-1 -8-3 -5-4M1941 501l-7 2 -2 5 -7 4M1925 640l7 5M1926 392l7-2 6-6M1941 553l-6 3 -9-3M1926 553l2-5 2-6 2-4M1927 845l-1 0M1926 844l0 1M1942 855l3-8 -2-4 0-5 -7 3 -5 1 -5 2M1928 979l-2-7M1926 972l7-3 7 1 7-4M1942 855l-6-3 -3-3 -6-4M1927 864l0-6 -2-7 2-6M1942 855l-2 5 -4 3 -9 1M1932 1059l-5 6M1928 979l5 5M1934 1035l-6-4M1928 797l-1 9 2 4 0 10 2 6M1929 796l-1 1M1936 666l-2-4 -6-3M1932 645l-2 7 -2 7M1929 756l2 4M1935 744l-1 7 -5 5M1935 686l-6-6M1929 679l0 1M1939 671l-7 3 -3 5M1932 792l0-8 -3-7M1940 765l-3 5 -6 3 -2 4M1938 692l-5 2 -3 5 -1 3M1929 796l2 1M1929 796l1-1M1930 795l2-3M1933 464l-3-5M1930 458l0 1M1930 923l1 3M1930 923l3-6 4-7 0-2M1930 458l3-4 8-2 3-4M1935 494l-2-7 -3-7M1930 480l3-4 3-4M1934 931l-3-5M1940 765l-5-2 -4-3M1931 826l6 4 6 3 4-2M1931 826l5-3 2-4M1948 806l-7-2 -3-2 -7-5M1931 797l5 9 1 4 1 9M1932 886l6 8 1 6M1932 884l0 2M1932 578l4 1M1942 643l-6 2 -4 0M1946 783l-5 3 -7 3 -2 3M1946 1060l-3 1 -6-1 -5-1M1932 884l5-2 3-5 5 0M1941 609l-2-7 -4-3 -3-4M1932 595l5-4M1932 419l2 8 8 5M1932 419l5-3M1932 438l6 0 2 6 4 4M1932 538l5-2M1934 994l-2-4 1-6M1933 984l3-4 10-2 4-4M1935 466l-2-2M1949 1003l-7-4 -6 1 -3-4 1-2M1934 994l7-8 6-2 5-6M1934 565l3 7M1934 565l7-2M1946 1060l-1-7 -4-7 -6-4 -1-7M1934 1035l4-1 5-2M1934 931l7 0 7-5 10-1 2-8M1934 931l1 6 3 7M1948 636l-2-5 -6-7 -5-8M1935 616l1-2M1935 744l6 3 5 0 5 1 1-3 -1-7 -3-7M1935 744l-3-6 7-2 7-5M1936 472l-1-6M1956 460l-5 1 -9 4 -7 1M1935 494l3 1M1938 692l-3-6M1941 672l-2 8 -4 6M1936 1098l2-3 2-6M1937 591l0-5 -1-7M1936 579l0-1M1949 717l-3 1 -6 1 -4-2M1937 572l-1 6M1947 579l-5-1 -6 0M1936 472l7 3 4 4 -3 5 -5 6 -1 5M1936 614l5-4M1939 671l-3-5M1936 666l8-6M1940 1089l-4-5M1937 908l2-8M1937 591l4 2M1937 416l5 3M1937 376l2 8M1947 961l-3-4 -4-5 -3-7M1938 944l-1 1M1951 547l-5-3 -3-3 -6-5M1939 527l-1 5 -1 4M1942 566l-5 6M1938 495l3 5M1966 938l-2-1 -11 5 -9-2 -6 4M1956 689l-6 1 -4-1 -8 3M1947 814l-1 1 -3 3 -5 1M1939 900l5-2 6-3M1939 384l7 1 3 2M1939 527l3-7M1957 534l-6-3 -7-2 -5-2M1941 672l-2-1M1944 1088l-4 1M1947 766l-7-1M1941 563l1 3M1941 563l-1-4 1-6M1941 500l0 1M1941 500l3-2M1941 501l2 4 5 4M1941 610l5 4 10 1M1941 610l0-1M1941 672l8 3 6 1M1941 609l4-7M1950 549l-3 2 -6 2M1941 593l4 3M1941 593l2-5 4-6M1942 419l3 6 -2 7 -1 0M1942 419l4-2 5-4 7-2M1946 516l-4 4M1942 855l6 3 4 3M1946 567l-4-1M1942 643l2 2M1948 636l-2 5 -4 2M1955 1020l6 7 -1 7 -3 2 -6 3 -3-4 -5-3M1945 1019l-3 7 1 6M1944 448l5 1M1955 484l-2 6 -4 3 -5 5M1955 495l-7 2 -4 1M1952 661l-8-1M1944 660l0-9 0-6M1956 1094l-6-3 -6-3M1944 1088l3-6 3-6 2-4 -3-8 -3-4M1953 655l-6-3 -3-7M1945 602l0-6M1945 602l6 0 4 0M1945 877l4 4 2 5 8-5 4-5M1945 877l3-6 8-2M1949 1016l-4 3M1945 596l6-2M1960 530l-6-4 -3-7 -5-3M1948 509l-2 7M1946 783l3 2 1 9 3 4 1 6M1946 783l1-5 1-6 -1-6M1948 731l-1 0 -1 0M1946 1060l8-2M1946 567l1 5 2 6M1950 563l-4 4M1947 966l2 5 1 3M1947 961l0 5M1971 948l-10 5 -5 2 -9 6M1961 764l-5 0 -4-3 -5 5M1947 582l0 6 4 6M1947 579l0 3M1949 578l-2 1M1947 814l5 3 3 3M1947 814l1-8M1965 848l-5 0 -5-4 -1-8 -4-3 -3-2M1947 831l5-3M1948 509l5 0M1948 731l5-1 2-3M1961 631l-7 3 -6 2M1954 804l-6 2M1955 1020l-6-4M1949 1003l0 7 0 6M1949 578l4 0 5 0M1952 978l1 8 -2 7 -2 10M1949 1003l5-2 7 0M1955 727l-2-7 -4-3M1951 714l-2 3M1951 451l-2-2M1952 440l0 6 -3 3M1949 387l5 6 2 5M1959 376l-1 5 -9 6M1952 978l-2-4M1952 557l-2-8M1950 549l1-2M1950 895l4 6 4 4M1950 895l3-2 4-1 3 4 4 5M1950 563l2 4 7 5 2 4M1950 563l2-6M1957 596l-6-2M1951 594l2-6 5-7M1952 546l-1 1M1951 714l-6-4 -5-3 7-5 8-1 4-2 4 6M1963 705l-7 4 -5 5M1956 460l-4-4 -1-5M1951 451l5-4 4-3 4-3M1969 571l-7-7 -5-3 -5-4M1970 986l-5-5 -7-3 -6 0M1955 676l-4-6 1-9M1952 661l1-6M1976 547l-8 1 -7-1 -9-1M1957 534l-5 4 0 8M1952 440l-2-6 5-5 5-2M1952 440l5-2 5 1M1952 861l4 8M1952 861l5-4 5-6 3-3M1952 828l6 2 4 0 7 2M1955 820l-3 8M1962 654l-9 1M1953 509l6 4 4 4M1953 509l6-5 9-2 6 2M1971 1064l-8-1 -3-3 -6-2M1966 1049l-4 6 -8 3M1962 804l-8 0M1954 1100l2-4M1957 678l-2-2M1955 495l4 3 3-3 4-3M1957 486l-2 9M1957 486l-2-2M1959 473l-5 6 1 5M1955 1020l6-3 6-1M1956 615l-2-8 1-5M1955 602l2-2M1955 820l9-1M1964 726l-9 1M1956 869l6 2 1 2M1984 687l-11 1 -8-1 -9 3 0-1M1956 689l0-6 1-5M1959 617l-3-2M1956 398l3 8M1980 390l-9 1 -6 3 -9 4M1964 1101l-1-1 -7-4M1956 1094l0 2M1960 1090l-4 4M1959 461l-3-1M1957 600l0-4M1957 596l1-1M1957 486l5 5 4 1M1960 530l-3 4M1957 678l4-1 6-5 5-3M1963 603l-6-3M1958 411l0 9M1964 595l-6 0M1958 595l2-8M1958 411l1-5M1958 905l-2 6 2 4 2 2M1958 905l6-4M1958 578l0 3M1958 578l3-2M1958 581l2 6M1959 461l0 7 0 5M1964 459l-5 2M1960 619l-1-2M1963 604l-3 6 -1 7M1959 473l5 4 5 1M1959 406l6 0 6 3M1972 914l-6-1 -6 4M1960 427l2 5 0 7M1960 427l0-1 5 2 8-1 4 2M1967 592l-3-2 -4-3M1960 1090l6 1M1960 1090l3-6 -2-8 2 0M1960 530l1 0 3-6M1961 631l-2-7 1-5M1960 619l6-3M1961 631l4 3M1961 741l0-10 3-5M1963 575l-2 1M1967 1016l-1-8 -5-7M1961 1001l8-4M1961 764l4 5 3 9M1961 764l6-3M1969 660l-3-4 -4-2M1965 634l1 9 -4 4 0 7M1962 804l4 3M1963 800l-1 4M1964 441l-2-2M1963 575l1 6 2 4 3 5M1969 571l-6 4M1964 524l-1-7M1963 517l2-5 5-1 4-7M1972 1083l-3-4 -6-3M1965 1074l-2 2M1963 604l0-1M1964 601l-1 2M1963 800l-1-10 -5-5 4-4 7-3M1977 784l-2 5 -9 6 -3 5M1963 705l4 3M1963 876l0-3M1982 873l-8-1 -3 1 -8 0M1963 876l3 3 0 7 2 1M1970 605l-7-1M1964 726l6 4 5 5 4-1 6-2M1966 721l-2 5M1964 601l0-6M1964 595l2-1M1964 819l4 5 2 6M1966 807l-2 7 0 5M1968 600l-4 1M1964 459l5 0 6-1M1964 459l0-5 1-7 1-5M1964 524l6-2 4-1M1966 442l-2-1M1968 901l-4 0M1968 848l-3 0M1966 634l-1 0M1971 1064l-1 7 -5 3M1965 1074l7-1 4 2 -1-5 3-7M1981 808l-8 2 -7-3M1977 439l-7 4 -4-1M1966 492l6 0M1966 938l2 3 3 6M1966 938l3-7 9-10 4-4M1982 728l-4 0 -6-4 -6-3M1967 708l-2 6 1 7M1966 634l6-4 4-9 7-6M1966 634l5 0 6 4M1966 1049l4 6 4 2 3 5M1966 1049l0-7 4-5 2 0M1968 600l-2-6M1966 594l1-1M1966 1091l1 1 4 0M1966 1091l3-5 3-3M1966 616l5-6 -1-5M1979 613l-8 0 -5 3M1967 761l3-7 3-5M1982 764l-6-4 -9 1M1967 1016l5 2M1970 596l-3-3M1967 593l0-1M1969 590l-2 2M1975 707l-8 1M1968 600l3 1M1972 895l-1-4 -3-4M1982 881l-6 5 -8 1M1968 848l-2 7 4 5 5 1 4 3 7 3M1971 845l-3 3M1972 914l-1-6 -3-7M1972 895l-4 6M1968 1102l0-1 9-3M1977 782l-4-2 -5-2M1972 669l-1-6 -2-3M1977 641l-1 6 -3 5 -4 8M1969 997l3 3M1969 997l-1-6 2-5M1969 478l2 4 3 4M1977 471l-5 2 -3 5M1975 569l-6 2M1972 590l-3 0M1971 845l-3-8 1-5M1970 830l-1 2M1970 596l8 0M1971 601l-1-5M1970 605l3-2M1976 828l-6 2M1970 744l3 5M1970 986l1-1M1971 601l2 2M1989 854l-5-4 -7-3 -6-2M1971 845l8-3 5-1 6-5M1971 948l3 5 -1 6M1971 947l0 1M1973 973l-3 7 1 5M1971 409l2 5 2 7 4 5M1981 406l-3 2 -7 1M1971 1064l6-2M1971 947l6-2M1977 1098l-6-6M1980 1084l-5 4 -4 4M1971 985l5 1 6 2 5 3M1988 976l-5 1 -5 4 -7 4M1972 492l2 6M1974 486l-2 6M1972 1037l0-2M1972 590l4 1 3 4 -1 1M1978 571l-1 8 -3 6 -2 5M1982 917l-6-2 -4-1M1972 376l6 3 3 4M1972 1000l3 0M1972 1000l3 7 -1 7 -2 4M1972 1035l-2-8 3-7M1972 1035l7-2 6-7M1981 1083l-9 0M1972 1018l1 2M2015 902l-8 3 -7 2 -9 1 -2-4 -3-6 -6-3 -8 0M1972 669l9 1 2-4M1972 1037l5 3 6 7 3 4M1972 1037l7-1 6-3 4 1M1973 603l1 0M1973 1020l8 1 6 1M1973 973l-4-2 -6-3 6-7 4-2M1978 965l-2 3 -3 5M1987 760l-3-3 -5-4 -6-4M1973 749l6-2 3-3 8-2M1978 965l-5-6M1974 486l6 0 4-3 2 3M1976 606l-2-3M1974 603l4-7M1974 504l3 3M1974 498l0 6M1988 494l-5 4 -9 0M1974 521l1 0M1974 521l1-8 2-6M1982 728l-3-4 -3-12 -1-5M1975 707l5-2M1978 571l-3-2M1975 569l-2-8 0-9 3-5M1976 459l-1-1M1975 458l-1-6 1-5 2-8M1975 1000l5 3 4 7M1975 1000l8-1M1975 521l2 9 2 4 4 6M1983 521l-8 0M1979 613l-3-7M1976 606l4-3 4-4 5-1M1976 459l0 5 1 7M1980 458l-4 1M1976 828l5 0M1981 808l0 6 -3 5 -2 9M1976 547l4-6 3-1M1979 1099l-2-1M1977 782l0 2M1977 782l2-3M1978 1063l-1-1M1977 1062l4-5 5-6M1977 471l5 1 5 3 7-4M1977 639l0-1M1977 638l3-2 3-7 2-8 3-4M1992 954l-6-2 -5-3 -4-4M1977 945l5-4 6-5 3-5M1977 507l7 2M1996 447l-7-2 -5-4 -7-2M1978 430l-1 9M1977 1107l2-4 0-4M1978 430l-1-1M1977 429l2-3M1977 639l0 2M1991 645l-7-6 -7 0M1977 641l1 6 1 4 5 8M1977 784l5 3 5 5M1999 436l-8-3 -6 0 -7-3M1978 1063l3 3 6 4M1978 965l4 3 6-1M1978 571l6 2 5 5 5 3M1994 553l-7 6 -6 7 -3 5M1981 425l-2 1M1979 1099l0-6 1-9M1991 1097l-6 2 -6 0M1979 779l1-8 2-7M1979 779l5-2 6-4M1983 615l-4-2M1980 390l3 5M1981 383l-1 7M1980 705l4 2 6 2M1984 687l-1 7 -2 4 -1 7M1980 1084l1-1M1980 458l3 5 9 5 2 3M1995 448l-7 4 -3 4 -5 2M1981 808l3-2 6 7 8-1 7-5 10-4M1998 429l-8 0 -5-4 -4 0M1991 413l-7 5 -3 7M1985 381l-4 2M1990 836l-3-4 -6-4M1981 828l5-7 6-3 2 1M1981 406l4 3 6 3 0 1M1983 395l-2 5 0 6M1987 760l-5 4M2010 876l-6 5 -8 3 -8 5 -3-4 -3-4M1982 873l0 8M1986 867l-4 6M1987 916l-5 1M1982 728l3 3M1983 615l4 0M1986 1009l-3-5 0-5M1983 999l4-4M1984 659l-1 7M2005 656l-9 1 -9 6 -4 3M1983 540l5-1M1983 521l3 3 2 9 3 3M1987 512l-2 4 -2 5M1989 395l-6 0M1984 687l1-3M1993 648l-6 4 -3 7M1984 1010l-1 1 3 6 1 5M1984 1010l2-1M1987 512l-3-3M1991 499l-1 5 -6 5M1990 742l-3-6 -2-4M1985 731l0 1M1985 731l4-7 6-4M1989 1034l-1-6 -3-2M1985 1026l2-4M1992 384l-7-3M1989 376l0 1 -4 4M1985 684l8 5 4 2 4 5M1985 684l1-7 4-1M1986 486l6 1 5-1M1988 494l-2-8M1989 854l-1 4 1 7 -3 2M1986 1051l5 0M1986 1009l2-1M1987 760l5 4M1987 760l4-5 1-4 2-6M1987 792l1 3 5 1 6 2 11 5 5 0M1987 792l6-3 6-7M1987 1022l3-1M1987 991l0 4M1989 989l-2 2M1991 931l-2-7 -2-8M2012 925l-8-1 -11-4 -6-4M1988 617l-1-2M1988 614l-1 1M1987 1070l2 4 3 6M1996 1056l-2 5 -5 4 -2 5M1987 512l5 4 7-1 7 3 -2 4 -4 8 -3 3M1987 995l2 1M1994 553l-2-9 -4-5M1991 536l-3 3M1990 496l-2-2M1988 976l0-9M1989 967l-1 0M2005 631l-2-1 -5-5 -6-6 -4-2M1988 614l2-5 -2-5 1-6M1997 611l-5 2 -4 1M1988 1008l3 5M1990 1007l-2 1M2001 1110l-7 4 -6 0M1992 980l-4-4M1992 954l-1 6 -2 7M2008 968l-6-1 -9-1 -4 1M1989 996l4 1M1989 996l1 5 0 6M1989 989l5 3 4 1M1990 988l-1 1M1996 846l-4 2 -3 6M1989 395l5 5 3 5 5-1 4-2M1994 392l-5 3M1994 581l-2 4 -3 7 1 4 -1 2M1989 1034l4 1M1990 742l4 3M1997 1027l-7-6M1990 1021l0-1M1990 709l2 5 3 6M2002 700l-5 4 -7 5M1990 988l6 2 4-1M1992 980l-2 8M1990 496l1 3M1990 496l6-6M1990 773l6 4M1992 764l-2 9M1991 1013l-1 7M1990 1020l7-5M1990 1007l6-2M1993 837l-3-1M1990 676l6 6 5 3 5 2M2013 669l-9 4 -5 3 -9 0M1991 1013l6 1M1991 499l7 4 7-1 7 5M2000 422l-6-4 -3-5M2001 938l-6-1 -4-6M1991 1051l5 5M1993 1047l-2 4M1991 645l2 3M1991 645l4-4 6-7 4-3M1991 536l6-3M2003 1110l-3-3 -5-7 -4-3M1991 1097l-1-7 0-8 2-2M1992 764l7 1M1992 980l5-5 4-1 6-4 1-2M2004 948l-7 4 -5 2M1992 980l2 1M1992 1080l4-1M1992 384l2 8M2008 380l-4 2 -8 2 -4 0M2005 655l-6-5 -6-2M1996 846l-1-4 -2-5M1993 837l5-8M1993 1047l-2-5 2-7M1993 1047l6-3 4 0 6-3M1993 997l3 8M1993 997l4-1M1993 1035l2-2M1998 829l-2-6 -2-4M2010 815l-5 3 -6 1 -5 0M1994 553l5 3M1994 981l4 1 7-2 0 2 0 3M1994 981l3 3 4 4M2003 764l-4-6 -3-4 -2-9M1994 392l7 1 6 1M1994 745l4 0 6-3M1994 581l4 0M1994 471l7-1M1994 1124l3-4 2-3 2-7M2007 1038l-7-1 -5-4M1995 1033l2-6M1995 720l8 3 4 3 6 0M1995 448l3 7 0 8 3 7M1995 448l1-1M1996 447l5-4M2014 1085l-5-2 -9-3 -4-1M2004 1060l-2 8 -4 7 -2 4M1996 1006l0-1M1996 1056l5 3 3 1M1996 846l7 2 9-1M2013 505l-4-4 -6-6 -7-5M1996 490l1-4M1996 1006l2 1M1996 1006l3-4M1999 782l-3-5M1999 765l-1 5 -2 7M1997 1015l1 4 3 6M1997 1014l0 1M1997 533l4 4 6 5M1997 486l6-3 3-8M1997 996l2 6M1998 995l-1 1M1997 1027l4-2M1997 1014l2-3M2008 621l-5-6 -6-4M1997 611l5-3M2007 601l-2-4 -5-11 -2-5M1998 581l2-1M1998 429l1 7M2000 422l-2 7M2010 824l-3 4 -5 0 -4 1M1998 995l2 2M1998 993l0 2M1998 1007l1 4M2005 1005l-7 2M1999 993l-1 0M1999 782l6 2 9-3M1999 436l1 4 1 3M1999 993l4 2M2000 989l-1 4M2003 1000l-4 2M1999 556l0 6 1 9 0 9M2009 553l-4 0 -6 3M1999 1011l8-4M2002 1013l-3-2M2003 764l-4 1M2009 419l-5 2 -4 1M2000 997l3 3M2003 995l-3 2M2001 988l-1 1M2000 580l9 6 4 5 5 3M2000 580l7-3 7-5 6-3M2001 1024l0 1M2001 443l5 2 5-1 6 3M2001 470l4 3M2001 1110l2 0M2001 696l1 4M2006 687l-4 4 -1 5M2005 946l-4-8M2012 925l-2 4 -7 6 -2 3M2002 1025l-1-1M2002 1013l-2 5 1 6M2001 988l1 0M2012 615l-5-4 -5-3M2002 608l0-3 5-4M2002 700l4 4 7 1 -2 7 4 8 -2 6M2004 1026l-2-1M2009 1017l-3 3 -4 5M2004 1013l-2 0M2002 988l2 4M2005 985l-3 3M2003 995l2 4M2004 1000l-1 0M2003 1110l4 0M2003 995l2-1M2003 764l3 6 6 7 2 4M2003 764l5-4M2008 760l-1-5 -2-8 -1-5M2004 742l7-3 3-5M2004 1000l1 5M2004 1000l1-1M2014 1059l-6 3 -4-2M2011 966l-3-5 -2-8 -2-5M2004 948l1-2M2007 1015l-3-2M2004 1013l3-5M2008 992l-4 0M2005 994l-1-2M2004 1026l3 5M2012 1026l-1-1 -7 1M2005 631l2-4 1-6M2013 638l-4-2 -4-5M2022 942l-4 1 -6 3 -7 0M2006 995l-1-1M2005 655l0 1M2013 638l-1 7 -6 6 -1 4M2005 999l4 2M2013 669l-3-6 -5-7M2005 1005l2 1M2010 988l-5-3M2005 999l1-4M2005 999l6-2M2005 473l1 2M2007 472l-2 1M2014 489l-2-6 -2-3 -4-5M2016 681l-6 3 -4 3M2009 994l-3 1M2006 402l6 5 5 7M2007 394l-1 8M2007 472l1-10 7-6 2-9M2029 467l-7 3 -6-1 -9 3M2007 1110l8 4M2007 1110l4-8M2007 601l3 1M2007 1031l0 7M2012 1026l1 4 -6 1M2008 380l4 5 -3 4 -2 5M2007 1006l0 1M2007 1006l2-1M2009 1041l-2-3M2007 1008l0-1M2007 1008l2 1M2009 553l0-6 -2-5M2007 542l5-3 8-1M2009 1017l-2-2M2007 1015l2-6M2008 380l-1-4M2008 760l5-1 6-2 2-1M2008 621l4-6M2008 992l1 2M2010 988l-2 4M2008 968l3-2M2009 1005l4 1M2009 1003l0 2M2010 995l-1-1M2009 1003l0-2M2009 1001l3-3M2009 1017l3 0M2009 419l0 6 0 6M2017 414l-5 1 -3 4M2009 1003l6-1M2009 1041l6 3M2009 1009l4 1M2009 553l7 4M2010 824l8 2M2010 824l-1-5 1-4M2010 815l1-6 4-6M2013 879l-3-3M2012 848l-4 7 4 8 -4 11 2 2M2010 995l1 2M2012 993l-2 2M2010 602l4 3 2 7M2010 602l4-6 4-2M2010 988l2 5M2013 987l-3 1M2011 997l1 1M2016 1088l-4 6 -1 8M2011 1102l6-1M2011 966l6 2M2012 848l0-1M2012 847l1-4 -2-6 4-4 3-2M2012 615l4-3M2012 1017l1 2 6 3M2012 1017l1-2M2012 993l3 0M2016 847l-4 1M2012 998l2 1M2012 507l0 6M2012 507l1-2M2012 1026l8-1M2024 919l-7 4 -5 2M2012 513l8 2M2012 513l-2 3 3 5 2 11 5 4M2013 505l3-7M2013 1006l1 3M2015 1002l-2 4M2013 987l2 6M2023 981l-3 2 -7 4M2020 673l-7-4M2013 726l1 8M2015 902l0-11 -1-7 -1-5M2026 874l-6 0 -7 5M2021 638l-8 0M2013 726l4-4 9-4 6-2M2013 1015l0-5M2013 1010l1-1M2013 1015l3 0M2018 785l-4-4M2017 1062l-3-3M2014 1059l-1-7 2-8M2015 1001l-1-2M2014 999l1-1M2014 734l5 4M2017 1008l-3 1M2016 1088l-2-3M2014 1085l3-8 -3-7 3-8M2014 489l1 5 1 4M2014 489l7-5M2015 1001l0 1M2017 1042l-2 2M2019 1001l-4 0M2018 1005l-3-3M2019 998l-4 0M2016 994l-1 4M2015 902l4 5 7 3 6-5 8 0 6 2 4 2 4-4 3-7 4-3M2015 993l1 1M2016 803l-1 0M2016 498l6-4 7 1M2016 847l10 7 6 3 7 5M2016 847l4-4 3-4 5-3M2032 608l-4 3 -7 1 -5 0M2016 803l4 6 5 7 2 4M2018 799l-2 4M2018 701l-1-4 -2-11 1-5M2020 673l-4 8M2016 557l0 6 4 6M2016 557l3-7 5-3 3 0M2021 991l-5 3M2016 1088l3-1M2019 1022l0-4 -3-3M2016 1015l5-3M2022 1029l-4 5 -1 8M2035 1042l-6 2 -8-3 -4 1M2017 414l4 0M2017 447l2 0M2019 1062l-2 0M2024 973l-7-5M2022 959l-1 5 -4 4M2018 1009l-1-1M2018 1005l-1 3M2019 594l-1 0M2018 826l0 5M2018 826l3-3 6-3M2018 799l1-6 -1-8M2018 785l6-4 3-8 3-5M2021 1012l-3-3M2024 1006l-6 3M2035 801l-7 0 -4-1 -6-1M2020 1004l-2 1M2018 831l5 4 5 1M2030 600l-7-2 -4-4M2019 594l2-10 4-7 2-6M2044 738l-10-2 -9 4 -6-2M2019 738l3 8 -1 7M2020 999l-1-1M2019 998l2-7M2020 1025l-1-2 0-1M2019 1062l5 3 4 1M2019 1062l6-6 1-4 8-5M2031 465l-5-8 -2-5 -5-5M2024 441l-5 6M2019 1001l1 3M2020 999l-1 2M2020 569l7 2M2020 538l0-2M2028 528l-4 5 -4 3M2022 1029l-2-4M2029 536l-8 3 -1-1M2020 515l1 3 5 3 2 7M2022 514l-2 1M2029 672l-9 1M2022 1004l-2 0M2020 999l2 0M2030 768l-5-6 -4-6M2021 756l0-3M2022 990l-1 1M2032 663l0-1 -5-9 -2-6 -4-9M2021 638l8-2 6-7 6 0M2021 1012l3 1 7 0M2021 414l-1 5 4 6M2021 414l5-3 6-3 6-6M2028 473l-3 7 -4 4M2031 484l-4-1 -6 1M2021 753l5-1 6 3 7-2M2022 942l-2 6 3 6 -1 5M2022 959l8-1 5-6M2031 1028l-4 1 -5 0M2022 990l0 1M2023 981l-3 5 2 4M2025 993l-3-2M2022 999l0-8M2027 939l-5 3M2040 505l-6 5 -5 2 -7 2M2048 518l-7 0 -8-4 -11 0M2024 1006l-2-2M2022 1004l2-4M2022 999l2 1M2023 981l2-3M2038 401l-5-5 -10-5 -4-7 4-8M2025 978l-1-5M2024 973l5-5 4-1M2024 425l-1 6 -1 5 2 5M2040 442l-6 1 -3-3 -7 1M2031 1011l-7-5M2024 425l10 4 8 1 6 0M2032 1008l-4-6 -4-2M2024 1000l2-5M2028 999l-4 1M2034 984l-5-4 -4-2M2025 993l1 2M2035 993l-2 0 -8 0M2028 999l1-2 -3-2M2026 874l5 9 8 5 3 7 5-8M2026 874l3-4 4-4 6-3M2035 572l-8-1M2027 547l6 3M2027 547l5-6M2027 939l4 5 5 5M2027 939l2-9 10 3 5-3 10 2M2027 820l1 1M2028 821l-1 6 2 9 -1 0M2028 821l7-1 4 4 3 7M2028 473l3 4 0 7M2029 467l-1 6M2030 530l-2-2M2034 1005l-6-6M2031 539l-2-3M2030 534l-1 2M2029 672l4 6 6 4 2 3M2029 672l0-5 3-4M2040 505l-6-2 -5-8M2029 495l4-5 3-3M2032 465l-3 2M2030 530l0 4M2037 529l-7 1M2030 768l7-2M2030 600l2 8M2041 576l-2 12 -6 1 -3 11M2036 534l-6 0M2031 1013l0 1M2031 1011l0 2M2031 1011l1-3M2039 1037l-6-4 -2-5M2031 1028l-1-6 1-6 0-2M2032 541l-1-2M2031 539l4-1M2044 1017l-7-4 -6 1M2036 487l-5-3M2032 465l-1 0M2040 442l-2 10 -2 3 -5 10M2033 465l-1 0M2032 541l4 0M2036 610l-4-2M2045 736l-6-6 -3-5 -4-9M2032 716l1-2M2034 1005l-2 3M2032 663l9-1 6 0 8-4 6 0M2033 465l4 3M2050 451l-5 6 -6 3 -6 5M2041 685l-5 8 -6 1 -5 7 6 5 2 8M2033 714l8 0 4-6M2036 555l-3-5M2033 550l2-2M2056 960l-3 8 -7-1 -7 0 -6 0M2035 952l-1 6 -1 9M2034 1005l-1-7 2-5M2034 1005l6-2 6-1 1-3M2034 1047l1 1M2035 1042l-1 5M2034 984l2 7 -1 2M2047 999l-2-3 -1-5 3-8 1-3 -7 3 -7 1M2035 1042l4-5M2036 542l-1 6M2035 548l7-4M2041 576l-6-4M2035 572l0-7 2-2 -1-8M2036 949l-1 3M2036 541l-1-3M2036 534l-1 4M2035 801l2 8 3 7 4 0 8 1 6-1M2035 801l5-4 7 0 5-4M2041 629l-2-7 -3-5 0-7M2036 610l8-4 4 1 10-7 4-1M2036 541l0 1M2038 533l-2 1M2036 542l5-1M2036 555l5-5 5-1M2049 950l-5-1 -8 0M2048 485l-5-1 -7 3M2048 485l-3-8 -4-2 -4-7M2037 468l8-3 5-1 0-5 5-5M2037 529l1 4M2037 529l1-4 5-3 5-4M2037 766l8 4M2037 766l0-5 2-8M2038 402l4 4 4 6 3 3M2038 402l0-1M2038 533l6 3M2041 397l-3 4M2039 863l2 7 5 7M2039 863l0-1M2041 861l-2 1M2040 1037l-1 0M2045 746l-6 7M2043 441l-3 1M2040 505l3 0 1 7 6 6M2040 1035l0-7 5-4 -1-7M2046 631l-5-2M2041 576l4 1 6-1 3 4 6 7 2 5M2041 861l7 1 7 1 11 3 5 2M2043 852l-2 9M2041 397l-2-10 4-9 -1-2M2052 392l-5 2 -6 3M2041 541l1 3M2044 536l-3 5M2041 685l5 2M2046 549l-4-5M2043 847l-4-7 3-4 0-5M2052 826l-6 1 -4 4M2043 852l0-5M2043 847l7-4 5-6M2043 441l2 4 5 6M2043 441l4-5 1-6M2043 852l9-3 8-3 8 0M2044 738l1 8M2044 738l1-2M2044 536l5-2 8-3 4-1M2045 1017l-1 0M2060 761l-6-4 -4-3 -5-8M2045 770l0 9 2 7 4 5M2045 770l4-2 6-6 5-1M2045 1017l4 3M2045 1017l5-6 4 0M2045 736l6-1 3-4M2054 731l-3-8 -3-4 -3-11M2045 708l2-3M2046 631l-1 9 -3 3 0 7 7 1 5 3 6 1M2046 631l8-1 6 2M2055 550l-4 0 -5-1M2046 877l9 3 7-1M2047 887l1-4 -2-6M2046 687l2 2M2046 687l7-8 0-4 3-9 5-7M2047 887l5 0 8 0M2047 999l6-3 9-5 5-3M2047 705l6 6 6 0M2048 689l1 4 0 6 -2 6M2048 485l3 1 1 0M2068 690l-6-2 -6 3 -8-2M2050 518l-2 0M2051 427l-3 3M2056 960l-3-7 -4-3M2054 932l-1 5 -3 9 -1 4M2051 419l-2-4M2055 412l-6 3M2050 451l5 3M2050 518l8 3M2051 419l0 8M2073 414l-10 1 -5 2 -7 2M2052 793l-1-2M2051 791l2-6 8-8 2-2 6-9M2066 433l-7-2 -8-4M2052 793l2 4 6 4M2052 392l5 6 5 2M2060 384l-5 5 -3 3M2068 497l-4-2 -6-5 -6-4M2070 466l-4 3 -3 3 -6 4 0 5 -5 5M2052 826l1 6 2 5M2058 816l-2 7 -4 3M2054 731l1 0 6-6 3-5M2067 988l-4-4 -4-3 -5-6M2054 932l5-3 3-3M2068 454l-7-1 -6 1M2062 400l-4 7 -3 5M2068 407l-9 2 -4 3M2055 376l3 4 2 4M2063 839l-8-2M2079 561l-8 2 -7 2 -6 1 -2-6 1-3 -2-7M2055 550l5-5 1-7M2079 954l-7 1 -11 2 -5 3M2058 521l3 7 0 2M2068 497l-4 11 -4 7 -2 6M2058 816l3-4 6-2M2059 711l2 4 3 5M2065 705l-6 6M2060 887l2-8M2073 890l-6-3 -7 0M2061 895l-1-8M2068 763l-8-2M2060 632l-1 7 3 7 -2 9M2060 632l4-9 0-6 2-9 8 3M2077 635l-4 1 -8-4 -5 0M2060 384l2-1 2 6 6 3M2060 655l1 3M2067 810l-4-6 -3-3M2060 801l2-7 6-4 0-6 6-8 -2-5 -3-5M2071 897l-5-2 -5 0M2061 538l0-8M2077 554l-6-6 -6-4 -4-6M2061 658l0 1M2068 661l-7-2M2062 926l5 7 3 3 5 12 4 6M2062 926l0-2M2062 879l3-7 6-4M2062 924l-3-7 5-5 4-6 5-5M2062 924l6-2 6 0 7-1M2062 592l0 7M2087 579l-9 3 -7 6 -9 4M2062 400l2 0M2095 598l-8 0 -10 1 -2 1 -12 1 -1-2M2068 846l-5-7M2063 839l3-6 1-11 2-3 0-8M2064 720l3-1M2064 400l3 4M2070 392l-1 5 -5 3M2065 705l2 7 4 4M2068 690l2 8 -5 7M2075 441l-6-3 -3-5M2073 414l-3 9 -2 6 -2 4M2067 404l1 3M2082 395l-3 4 -8 2 -4 3M2070 990l-3-2M2067 810l2 1M2075 729l-3-8 -5-2M2067 719l4-3M2068 407l6 6M2068 846l5 4 7 3M2070 466l-2-6 0-6M2068 454l1-4 5-6 1-3M2071 689l-3 1M2068 497l5-1 6-1 2 4 3 5 6 6M2068 661l3 9 1 13 -1 6M2085 657l-7 0 -4 4 -6 0M2069 766l-1-3M2070 761l-2 2M2069 811l6-1 6 1 2-6 0-6 -3-13 1-4M2070 761l-5-8 -2-8 0-9 9-1M2074 760l-4 1M2070 392l5 2 7 0M2070 466l6 2 5 5M2073 901l-2-4M2071 897l2-7M2071 689l5 1 5 1M2072 716l-1 0M2080 882l-3-5 -2-3 -4-6M2080 853l-2 3 -4 8 -3 4M2072 735l5 3 1 3M2072 735l3-6M2072 716l4 1 4 3M2072 716l5-7 0-7 1-4 3-7M2073 414l1-1M2073 901l5 1M2080 882l-5 3 -2 5M2074 760l2-6 0-6 2-7M2074 760l7-3 5 2M2086 412l-5-1 -7 2M2083 620l-3-6 -6-3M2090 607l-9 0 -7 4M2075 441l3-4 8-2 1 1M2075 729l3-2M2077 635l4 9 0 9 4 4M2085 630l-2 4 -6 1M2077 554l2 7M2077 554l3-5 3-5M2078 727l5 1 3 4 5-1M2080 720l-2 7M2078 902l3 6 1 5 3 5M2078 902l6-3 2-4M2101 534l-8-2 -8 0 -7-2M2083 544l0-9 -5-5M2078 530l-3-3 6-7 2-6 7-4M2094 743l-7 0 -5-1 -4-1M2079 561l4 3M2079 954l5 1 3 14 1 3M2085 885l-5-3M2086 719l-6 1M2083 852l-3 1M2086 690l-5 1M2092 947l-3 2 -1-5 -2-11 -2-5 -3-7M2081 921l4-3M2081 473l2 5 1 7 6-1 7 2 6-1M2081 473l7-5 2-4 5-2 3-1M2082 394l0 1M2086 385l-1 4 -3 5M2087 407l0-6 -5-6M2085 630l-1-4 -1-6M2090 612l-2 3 -5 5M2094 558l0-8 -4-6 -7 0M2083 852l6 6 7 1M2083 852l1-6 3-12 3-6 2-7 -2-6 3-5 4-2 6 0 10 0 11-2 8-3M2087 579l1-8 -5-7M2094 558l-5 3 -6 3M2100 906l-4 2 -4 6 -5 4 -2 0M2085 376l-1 2 2 7M2087 658l-2-1M2085 885l-1 6 2 4M2100 880l-8 1 -7 4M2089 629l-4 1M2086 719l1 8 4 4M2087 717l-1 2M2086 385l8 3 5 2 5 1M2086 759l5 3 2 3 4 5M2095 746l-5 5 -4 8M2109 423l-1 0 -4 1 -6-2 -8 1 0-8 -4-3M2086 412l1-5M2086 895l3 3 8 4 3 4M2086 690l4 6 1 9M2087 658l4 5 1 11 2 10 -3 3 -5 3M2095 718l-8-1M2087 717l0-1 4-6 0-5M2106 643l-9 6 -5 2 -5 7M2108 664l-7-4 -8-2 -6 0M2087 436l8 3 3 3 8 1M2098 461l-6-10 1-6 -6-9M2087 579l6 4M2092 405l-5 2M2089 629l7 6 2 3 8 5M2097 620l-4 4 -4 5M2104 513l-9 0 -5-3M2090 612l0-5M2095 598l0 4 -5 5M2097 620l-2-5 -5-3M2096 733l-5-2M2093 706l-2-1M2119 398l-2 4 -6 4 -8 0 -7-1 -4 0M2104 391l-6 5 -3 5 -3 4M2092 947l1-4 3-10 2-5M2092 947l1 0M2093 583l1 7 3 7M2093 583l5-4 4-1M2109 709l-4-2 -8 1 -4-2M2097 713l-4-7M2093 947l7 3 6 0 6 2M2093 947l6-5 7-1M2094 743l1 3M2094 743l0-4 2-6M2094 558l7-2M2095 746l4 1 6 4 5 1M2097 597l-2 1M2099 724l-4-6M2095 718l2-5M2101 730l-5 3M2101 878l-1-8 -3-7 -1-4M2096 859l6-1 8-3M2097 597l5 2 5 3M2103 714l-6-1M2104 619l-7 1M2097 770l5-6 4-6 4-6M2097 770l8 1 6 4M2118 780l-7 4 -2 7 -8 5 -4-7 -1-7 -3-4 4-8M2098 461l2 0M2101 730l-2-6M2103 714l0 4 -4 6M2100 906l1 0M2100 880l2 6 2 8 0 7 -3 5M2100 880l1-2M2100 461l3 2 4 5M2100 461l1-7 3-5 2-6M2108 548l-2-6 -5-8M2107 521l-3 8 -3 5M2101 906l3 3M2107 712l2 6 -1 4 -1 8 -6 0M2102 578l-1-9 0-6 0-7M2102 556l-1 0M2101 878l7 2 5-1 6-1M2102 556l6 3 2 6 6-4 5-1 5-3M2108 548l-2 5 -4 3M2110 577l-8 1M2107 712l-4 2M2103 485l2 6 9 4M2107 468l-1 5 -3 8 0 4M2104 619l6 5M2104 619l0-5 1-7 2-5M2114 388l-6 1 -4 2M2117 914l-7 0 -6-5M2104 909l0 4 3 9 0 5 1 0M2107 521l-3-8M2106 511l-2 2M2106 941l6 3 7 1M2106 941l1-7 2-5M2107 643l-1 0M2115 448l-5-4 -4-1M2126 437l-5 0 -6 2 -7 1 -2 3M2136 513l-6-2 -8-1 -6 2 -10-1M2106 511l3-7 3-2 2-7M2113 469l-6-1M2116 525l-5-1 -4-3M2107 602l7-1 5-1 2-5M2108 664l-1-5 0-8 0-8M2108 643l-1 0M2107 712l2-3M2107 688l5 7M2112 669l-5 3 -4 8 -2 5 6 3M2132 675l-9 4 -9 4 -7 5M2109 929l-1-2M2119 916l-6 4 -5 7M2108 643l7 2M2108 643l2-7M2108 548l8 1 6 0 9 1M2123 839l-9-1 -6-4M2110 855l1-7 -4-9 1-5M2108 834l-4-3 -5-7 9 0 8-1 8-1M2112 669l-4-5M2109 929l4 2M2109 423l1 3 4 4 7 3 5 3M2109 423l9-1 2-3 7-1M2109 709l4-2M2110 636l1-6 -1-5M2110 636l5-4 8-3M2110 624l0 1M2110 624l5-2 3-5M2110 625l6-2 7 3M2121 857l-7 0 -4-2M2110 577l5 6 2 4 5 5 -1 3M2110 577l1-2 8-4M2110 752l3 6M2131 749l-8-1 -4-3 -5 2 -4 5M2111 775l7 5M2111 775l0-6 0-5 2-6M2125 664l-6 5 -7 0M2112 953l0-1M2112 952l4-2 4-4M2112 695l1 5 0 7M2141 689l-8 1 -8 3 -5 0 -8 2M2114 388l-1-11 0-1M2113 707l3 5 3 3 7-1 4-3 10 0M2122 763l-4-2 -5-3M2113 931l2 9 4 5M2113 931l4-3 7-1M2125 475l-5-5 -7-1M2113 469l4-3 2-5M2119 397l-4-5 -1-4M2124 491l-4 1 -6 3M2115 731l3-3M2125 651l-7-3 -3-3M2115 645l3-7 6-6M2115 448l1 4M2115 448l3-3 7-2 6-1M2116 452l5 1 5 3 4 1 9-5 5 1M2116 452l-3 5 7 3 -1 1M2116 525l4 3 4 7 3 10 4 5M2116 525l9-5 6 1 7-3M2117 914l2 2M2121 897l-2 5 -2 4 0 8M2124 781l-6-1M2123 625l-1-5 -4-3M2118 617l5-4 1-6M2119 571l6 3 4 3 4 4 0-1M2119 571l1-3 3-8 3-3M2120 946l-1-1M2119 878l3 4 6 0 9 1 6 0 8-1 -1 4 -2 9 -2 5M2119 878l-1-9 5-6M2119 398l3 4 3 4M2119 398l0-1M2119 916l5 2M2141 389l-7 1 -7 3 -8 4M2127 472l-3-7 -5-4M2122 946l-2 0M2121 896l0 1M2123 863l-2-6M2121 857l4-5M2148 592l-6 5 -5 0 -9-2 -7 0M2121 897l4 2 6 1 4 5M2124 781l0-7 -1-3 -1-8M2131 749l-3 4 -3 6 -3 4M2123 863l11 2 7 1 9 4 5 2M2125 852l-1-6 -1-7M2123 839l3-4M2123 626l1 2M2123 626l0-1M2123 629l1 3M2123 629l1-1M2123 625l2-1 0-7 -1-4 0-6M2124 628l6 1M2124 918l1 5M2135 905l-5 5 -2 2 -4 6M2132 622l-5-6 0-8 -3-1M2126 835l1-2 -1-5 -2-6M2124 822l3-5 3-2M2124 491l4 3 2 6 5 5M2124 491l2-3M2124 927l0 5 4 6M2125 923l-1 4M2124 632l3 2M2139 786l-7-1 -8-4M2125 406l7 0 7 0M2128 417l0-7 -3-4M2125 475l2 7 -1 6M2127 472l-2 3M2125 651l2 5 -1 4M2125 651l3-2M2125 852l3-1 7 2 6 3 6 4M2132 675l-2-6 -5-5M2126 660l-1 4M2135 924l-5 0 -5-1M2126 436l0 1M2127 418l1 7 0 6 -2 5M2132 550l-5 3 -1 4M2137 841l-5-4 -6-2M2131 442l-5-5M2126 660l8 0 2-1 9 2 2-5 -1-6M2126 488l6-1 8-2 7-8 6-4M2128 644l-2-6 1-4M2127 634l4-3M2127 472l4-6 11-8 2-5M2127 418l1-1M2128 938l0 3M2128 649l0-5M2128 649l5-2 4-1 4 0M2137 419l-9-2M2136 935l-8 3M2128 644l3-5 0-8M2130 815l2 4 5 3M2132 803l1 6 -3 6M2130 629l2 2M2130 629l1-7 1 0M2134 443l-3-1M2131 749l5 0 3-2 7 3 9 2 10 3M2132 631l-1 0M2132 550l-1 0M2141 520l-1 6 -4 8 -3 8 -2 8M2142 683l-5-4 -5-4M2132 550l3 2 5 0M2132 631l2 0M2137 622l-5 0M2132 803l3-7 6-4M2141 389l-6-6 -2-7M2133 580l4 3 8 6 3 3M2133 580l3-5 3-6 6 4 6 1M2134 443l6 2 4 7M2134 443l2-8 2-10 -1-6M2134 631l4 8 2-7M2136 630l-2 1M2136 513l-1-8M2140 503l-5 2M2150 827l-7 4 -8-1M2138 836l-4-4 1-2M2135 830l2-8M2135 924l0 5 1 6M2135 905l3 5 -1 8 3 3 -5 3M2135 905l5-4 6-1M2137 935l-1 0M2138 518l-2-5M2140 632l-4-2M2138 624l-2 6M2150 827l-6-3 -7-2M2137 419l2 0M2137 608l5 4 4 3M2137 622l1 2M2146 615l-5 3 -4 4M2137 841l-4 7 7-1 5 1M2138 841l-1 0M2138 624l5 3 4 3M2141 520l-3-2M2138 841l8 2 -1 5M2138 841l0-5M2153 829l-7 2 -4 1 -4 4M2139 406l-3 6 3 7M2139 419l1 7 5 7 5 11 3 5M2149 417l-5 0 -5 2M2139 406l4-3M2139 786l2 6M2139 786l2-4 1-5 6-5 4-4 7-2 4 7 6 2 3 5M2140 711l3 7M2141 689l1 7 -1 6 -2 5 1 4M2145 494l-2 5 -3 4M2154 502l-8 0 -6 1M2140 632l4 0M2140 552l6 5 8 1 4 4M2157 542l-5 5 -6 3 -6 2M2141 389l6 0M2141 689l1-6M2141 741l-2-7 1-8 3-8M2146 650l-5-4M2141 646l2-4M2154 520l-6-1 -7 1M2141 792l1 0M2142 792l7 1 4-2 14-1 5-2M2142 792l5 7 1 5 4 3M2142 683l3-5 9-3 5-1M2143 403l3 7 3 7M2147 389l-4 5 0 9M2143 642l0-4 1-6M2143 642l5-2 4-6 4-2M2143 718l5 0 7 1 6 1M2147 630l-3 2M2144 453l0-1M2144 452l7 1M2145 848l0 5 2 7M2154 502l-6-3 -3-5M2145 494l0-2 5-3 4-3M2147 902l-1-2M2156 616l-6-1 -4 0M2162 649l-9-2 -7 3M2155 628l-8 2M2154 919l-1-4 -3-7 -3-6M2162 906l-7-5 -8 1M2147 389l9-2 3 6 3 4M2147 860l6 3 2 6M2148 592l1 0M2148 376l3 1 7 2 2-3M2149 417l2 0M2170 583l-5 3 -6 4 -8 3 -2-1M2153 576l-3 5 0 5 -1 6M2153 827l-3 0M2151 417l2 10 2 5 4 8M2151 417l6-4 4-5 3-3M2154 919l-4 7 1 1M2151 453l2 5 4 3M2151 453l2-4M2151 574l2 2M2158 562l-6 6 -1 6M2152 807l5 2 10-3 6 3 7-2M2153 827l2-6 0-7 -3-7M2154 486l0-6 -1-7M2153 473l-1-6 5-6M2153 576l5 1 4 1 7-1M2153 829l0-2M2159 440l-5 5 -1 4M2153 829l2 5M2154 502l4 1M2159 526l-5-6M2154 520l5-6 0-6M2168 915l-8 1 -6 3M2155 834l-1 3M2154 486l3 5 4 4M2155 872l1 5 6 2 3 2M2155 872l0-3M2156 632l-1-4M2157 619l0 4 -2 5M2155 869l3-8 4-4 3-3 8-1 3-3M2155 834l6 3 5-1 8 1M2157 619l-1-3M2175 597l-7 2 -3 1 -8 4 -1 6 0 6M2164 646l-2-7 -6-7M2176 468l-8-5 -5 2 -6-4M2157 542l6 4 6 3 3 2M2159 526l-1 9 -1 7M2157 619l6 1 8 1 5-2 2-5 -3-11 0-6M2158 503l1 5M2158 503l3-8M2158 562l5-2 6 2 3 8 -3 7M2159 674l5 9 1 5 0 5 6 7M2159 674l2-1M2159 508l6 2 4 0 8-1M2160 440l-1 0M2175 527l-7-3 -9 2M2169 412l-1 8 -3 3 0 7 -5 10M2183 434l-5 3 -10 2 -8 1M2161 495l1-1M2182 679l-7-3 -5 0 -9-3M2162 670l-1 3M2171 700l-3 2 -3 7 -3 5 -1 6M2183 721l-6-2 -7 1 -9 0M2168 739l-3-3 -1-5 0-4 -3-7M2162 670l1-9 -1-7 0-5M2162 649l2-3M2162 670l5-1 8-3 4-3M2167 912l-5-6M2162 906l3-3 -1-8 5-6 -4-8M2162 397l8 0 8-3 9-4 6 0M2162 397l2 8M2176 498l-7 1 -7-5M2181 476l-8 6 -4 9 -7 3M2176 643l-5 1 -7 2M2169 409l-5-4M2165 755l0 1 5 2 6 3M2167 746l-2 9M2194 882l-8-1 -4 0 -9-2 -8 2M2168 915l-1-3M2167 912l3-8 4-6 6 2 3 2M2167 746l7 2 3 1 6 2M2168 739l-1 7M2169 916l-1-1M2168 739l8 0 2-3 8-1M2169 412l0-3M2169 409l8-3 7 3M2183 434l-6-9 -2-3 -6-10M2169 577l1 1M2170 583l0-5M2212 590l-5-1 -7-1 -8 0 -4-7 -2-6 -7 2 -2 0 -7 1M2177 593l-4-3 -3-7M2171 700l5 2 4 4M2172 788l0-8M2172 780l3-3 4-5M2172 789l0-1M2206 559l0 3 -4 0 -5 3 -7 2 -7-5 -6-1 -4-4 0-2 -1-4M2172 551l4-3 2-9 4-4M2185 803l-3-4 -6-5 -4-5M2172 789l4-7 7-2M2174 376l5 2 7 4 9 2M2174 837l2 7 0 6M2178 832l-4 5M2175 527l2 5 5 3M2175 527l1-8 5-6M2175 597l2-4M2181 476l-1-4 -4-4M2187 456l-3 3 -4 7 -4 2M2176 643l0 7 3 7 0 6M2193 633l-7 4 -5 4 -5 2M2177 509l-2-5 1-6M2186 486l-5 5 0 3 -5 4M2178 851l-2-1M2180 769l-3-5 -1-3M2185 761l-9 0M2181 513l-4-4M2177 593l3 0 9 8 4 5 8 10 3 5M2178 832l-4-6 -1-5 3-9 4-5M2178 832l5-1 5-1M2194 882l1-8 1-5 0-6 -6-1 -6-3 -4-3 -2-5M2178 851l9-6 6 0 7-5M2197 662l-5 0 -3 4 -6-2 -4-1M2179 772l2 2M2179 772l1-3M2179 910l1-1 3-7M2180 769l4 0M2185 803l-5 4M2183 721l-4-9 1-6M2199 715l-7-4 -3-7 -4-1 -5 3M2187 481l-6-5M2181 774l5 1M2183 780l-2-6M2193 510l-5 2 -7 1M2202 549l-6-6 -4 0 -5-8 -5 0M2183 780l5-1M2183 721l4 4 5 5M2183 902l4-1 8-1 8-1M2187 456l-3-6 0-9 -1-7M2188 757l-5-5 0-1M2185 748l-2 3M2183 434l6-1 6-5M2195 428l-6-8 -2-6 -3-5M2184 409l2-6 6-5M2184 769l1 1M2188 766l-4 3M2185 761l1 1M2188 757l-3 4M2185 686l5 2 6 1M2185 770l4 1M2185 770l1 4M2189 803l-4 0M2185 748l4 4 5 1M2186 735l0 7 -1 6M2192 730l-6 5M2186 486l0 9 6 6 1 9M2187 481l-1 5M2188 779l-2-4M2186 774l0 1M2186 762l2 4M2186 762l6 0M2190 772l-4 2M2192 455l-5 1M2187 481l5 2 7-3M2191 780l-3-1M2188 830l5 3 5 2M2189 803l0 8 1 7 -2 12M2188 757l4-2M2188 766l1 0M2189 766l1 4M2190 766l-1 0M2199 808l-5-3 -5-2M2198 788l-1 4 -5 6 -3 5M2189 771l1 1M2189 771l1-1M2192 775l-2-3M2190 770l2 0M2190 766l1 1M2193 762l-3 4M2198 788l-4-5 -3-3M2192 775l-1 5M2195 767l-4 0M2191 767l1 3M2192 398l2 3M2192 398l1-8M2193 770l-1 0M2192 455l5 6 4 4M2196 453l-4 2M2192 755l0 7M2192 755l2-2M2193 762l-1 0M2194 773l-2 2M2192 730l1-1M2193 762l1 1M2196 386l-3 4M2193 633l3 10 0 5 6 9M2193 633l1-3 3-5 6-3M2194 773l-1-3M2195 767l-2 3M2193 510l7 3 4-1 4-4M2193 729l7 5 4 1 5 1M2193 729l1-9 5-5M2195 765l-1-2M2194 763l3-4 5-1M2194 401l4 3 5 3M2200 420l0-5 -5-8 -1-6M2194 753l1 0 7 5M2196 772l-2 1M2200 888l-6-6M2195 428l2 0M2197 769l-2-2M2195 765l0 2M2195 384l1 2M2199 376l-4 8M2195 765l7-1M2211 392l-4-2 -5-3 -6-1M2203 776l-7-4M2197 769l-1 3M2199 435l-2 6 1 8 -2 4M2196 453l7-1 6 1M2196 689l1 1 8 0 2 3 9 0M2197 662l-2 11 1 8 0 8M2197 769l6-2M2197 662l5-5M2197 428l2 7M2197 428l1 0 2-8M2205 784l-7 4M2198 835l2 2M2199 808l0 10 -2 9 1 8M2199 435l5 6 2 7 3 5M2199 480l5 4M2199 480l2-4M2227 812l-8-1 -7 0 -6-3 -7 0M2224 708l-6-6 -6 6 -6 1 -7 6M2203 899l-1-7 -2-4M2200 888l4-5 6-3 4-5 5 3 9 2 6 2M2200 840l0-3M2227 812l-7 10 -4 1 -13 10 -3 4M2200 519l0 1 4 2 9 2 5 1M2200 420l3-4M2200 840l2 7 7 5 5 2 4-1M2201 476l1-4 -1-7M2201 465l6-5 3-7M2220 460l-7 6 -8 6 -4 4M2202 758l0 6M2202 758l4-2M2202 764l1 3M2202 657l8 6 7 3 11 2 3-1M2202 549l1 7 3 3M2209 537l-1 7 -6 5M2205 784l-2-8M2203 776l1-9M2203 900l0-1M2203 416l0-5 0-4M2203 407l5-4 1 7M2203 416l4-2M2204 767l-1 0M2203 622l9 4 10 2 7 1M2203 622l1-1M2212 590l-3 4 -1 10 -4 10 0 7M2211 767l-7 0M2204 484l3 7 1 7 0 10M2204 484l8-2 5 1M2221 784l-6-1 -4 0 -6 1M2206 756l5 3M2212 739l-2 7 0 3 -4 7M2206 559l2 0 4-4 8-9 5-3M2209 410l-2 4M2207 414l3 0M2208 508l6 1 4-1M2209 736l3 3M2224 708l-7 9 0 3 -5 7 -3 9M2209 410l6-2 2 0M2210 453l-1 0M2209 537l-1-4 5-7 5-1M2209 537l9 0M2212 454l-2-1M2221 774l-6-3 -4-4M2211 759l0 8M2223 389l-7 3 -5 0M2211 392l0 6 3 5 3 5M2220 757l-9 2M2220 460l-4-4 -4-2M2212 454l2-9 2-7 1-7M2218 741l-6-2M2232 572l-5 5 -6 0 -7 5 -2 8M2212 590l8 1 6 4 10 3 5 2M2217 431l-2-1 0-8 0-7M2217 483l3 3 6 3M2226 461l-1 7 -5 8 -3 7M2227 411l-7-1 -3-2M2227 411l-2 9 -5 6 -3 5M2232 436l-6-4 -9-1M2218 525l-1-6 0-7 1-4M2218 853l5 6M2218 853l6-4 5-5M2218 508l3 0M2225 543l-5-2 -2-4M2218 537l1-5 5-3 5-1M2220 757l1-6 -3-10M2221 741l-3 0M2225 764l-3-2 -2-5M2220 460l6 1M2221 741l5 2 11 0 6 1M2232 712l-4 5 -1 8 -4 7 -2 9M2221 508l5 2M2226 489l-2 8 -2 5 -1 6M2221 784l2-5 -2-5M2221 774l1-6 3-4M2221 784l4 3 2 4M2223 859l7 3 6 2 1-2M2223 859l2 8 4 5 5 10M2244 404l-5-6 -11-3 -5-6M2223 389l2-5 0-8M2224 708l8 4M2225 764l6-3 7-2 4-3 -2-5 3-7M2225 543l7 1M2235 521l-5-4 -4-7M2226 510l7-4 8-5 7-4 6-2M2226 489l8 0 5-4M2228 461l-2 0M2227 812l5-1M2227 791l4 5 -2 4 4 6 0 4M2227 791l7-7 3-2 5-8 4-4M2227 411l5-1 5-2 7-4M2232 436l-3 8 -1 10 0 7M2229 528l1 6 1 3 1 7M2229 528l6-7M2229 844l4 2M2229 844l0-8 1-8 0-7 2-10M2235 655l-1-11 -3-4 -2-11M2229 629l3-3M2236 670l-5-3M2231 667l1-7 3-5M2232 811l1-1M2232 544l6 2 3 2 5 5M2232 712l8 1 8 3 6 0M2232 436l7-3 2-2 8-2M2249 591l-8-8 -2-2 -7-9M2246 553l-3 3 -4 3 -4 8 -3 5M2272 639l-11-6 -10-2 -6-2 -13-3M2235 622l-3 4M2233 810l4 1 9 2 9 5 5 1M2233 846l6 0M2237 862l1-6 -3-6 -2-4M2234 882l3 3M2235 521l6 2 9 1M2241 600l-4 8 0 8 -2 6M2235 622l5-1 15-2 8 3 6-3 -9-7 -4-3 -6-8 -5-3M2235 655l11-5 7-4 10-2 9-5M2236 670l6 8 3 9 1 15 8 14M2236 670l6-1 7 2 10 5 11 0M2239 892l-2-7M2237 885l1-5 3-6M2237 862l1 0M2243 866l-5-4M2238 862l6-2M2239 485l6 5 4 0 5 5M2239 485l0-6 -2-5 6-1 6-6 5 0M2247 859l-1-7 -7-6M2263 843l-7 3 -6-4 -11 4M2245 598l-4 2M2241 874l2-7M2241 874l5-4 5-4M2243 867l0-1M2243 866l1-6M2243 867l6-3M2243 744l2-3 6-5 3-5 2 2M2244 404l4 0M2244 860l3-1M2249 591l-4 7M2256 551l-6 1 -4 1M2246 770l3 6 7 3 2 6 3 0M2246 770l1-7 10 3 5-2 7 1 4 7M2248 859l-1 0M2249 864l-1-5M2248 859l6-3 7-7 5-1M2249 429l-2-9 1-5 0-11M2255 387l-4 7 0 5 -2 4 -1 1M2251 866l-2-2M2272 573l-4 2 -9 9 -3 0 -7 7M2262 441l-6-3 -1-5 -6-4M2256 551l-2-4 -3-12 1-3 -2-8M2250 524l4-7 2-4 5-9 -2-8M2266 871l-6-5 -9 0M2259 496l-5-1M2258 713l-4 3M2254 467l3 5 6 8 1 9M2259 450l-4 4 1 7 -2 6M2255 387l0-12M2255 387l6-4 3 0 8-3 8-2 8 3 4-3 1-3M2256 551l8 4M2289 741l-11-1 -2-2 -14-5 -6 0M2256 733l3 7 4 9 8 7 5-3 5-3 5-1M2257 892l1-2 4-4 4-10M2258 713l8 3 11 1 8-1 14 1M2273 680l-2 9 -8 8 -2 7 -3 9M2259 450l3 5 6 6 5 13 5 7 -5 4 -5 3 -4 1M2262 441l-2 3 -1 6M2264 489l-5 7M2260 819l2 10 -1 6 2 8M2260 819l4-2 10-4 3-4M2261 785l3 6 6 9 0 1 7 8M2261 785l4-4 4-7 4-2M2288 440l-9 2 -9-1 -8 0M2263 843l2 3M2264 555l3 7 3 7 2 4M2264 555l5-9 8-4 8-11 10-6 5-1M2265 846l1 2M2291 833l-8 4 -7 3 -2 3 -9 3M2271 856l-4-4 -1-4M2293 884l-5-1 -9-3 -7 0 -6-4M2266 876l0-5M2271 856l-4 9 -1 6M2273 680l-3-4M2270 676l2-10 2-6 -2-3 4-10M2296 859l-7 1 -13-3 -5-1M2272 573l6 4 4 3M2273 639l-1 0M2273 680l5 1 7 3 14 0 5 2M2276 647l-3-8M2277 628l-1 5 -3 6M2302 800l-8 4 -8-2 0-9 -4-12 -1-6 -8-3M2276 647l6 2 6 2 11 5 6 4M2277 809l4 6 5 9 6 6M2277 628l8 3 4 5 13 3 4 3M2277 628l1-5 4-5M2282 618l5 1 13 7 2-2 9 5M2285 612l-3 6M2282 580l0 9 0 9 4 10 -1 4M2312 572l-7 4 -10-1 -4 1 -9 4M2293 611l-8 1M2286 749l3 4 3 5 1 7M2286 749l3-8M2288 440l0 5 0 8 3 10 1 11M2288 440l5-4 2-3 5-5M2301 731l-6 3 -6 7M2291 833l1 6 3 4 1 7M2291 833l1-3M2292 830l6-2 4 1 6-2M2292 474l-1 3 3 4 4 4M2292 474l4-2 10-7 10-2 9-4M2297 895l-4-6 0-5M2293 884l1-7 0-8 4-8M2293 765l0 3 6 1 7 6 7 3M2315 743l-5 5 -5 4 -4 7 -8 6M2326 617l-9 0 -7-5 -12 0 -5-1M2322 594l-8 4 -7 3 -5 3 -9 7M2294 375l1 5 8 10 12 14 1 6M2297 895l-3 3M2298 861l-2-2M2296 859l0-9M2296 850l4-7 7-3 7-10M2297 895l8 5 8-2 7 3M2300 524l-2-9 -1-15 2-8 -1-7M2327 498l-2-4 -5-6 -2-4 -6 1 -7 0 -7 0M2321 861l-6-2 -10 3 -7-1M2299 717l1 6 1 8M2299 717l3-7 4-4M2300 428l9 5 5 8 3 6 10 6 -2 6M2300 428l1-3 7-3 3-5M2310 528l-6-1 -4-3M2301 731l4 3 6 5 4 4M2302 800l2 11 2 10 2 6M2311 795l-6 2 -3 3M2304 686l1 3M2306 666l1 5 0 6 -3 9M2305 660l1 6M2305 660l0-5 5-5M2306 706l-1-7 0-3 0-7M2330 683l-6 4 -12-1 -7 3M2306 706l9 4 16 1 4 4 14 3 -6 7 -8 7 -9 5 -9 7 -2-1M2306 642l4 8M2311 629l-2 8 -3 5M2306 666l5-2 10 0 8-3 10-2M2314 830l-6-3M2310 650l5-3 8-1 4-2M2310 528l3 3 9-3 5-1 7-1M2327 498l-1 5 -11 12 0 4 -5 9M2310 920l5-5 2-6 3-8M2332 808l-6-2 -11-8 -4-3M2311 795l0-5 3-6 -1-6M2311 417l15 3 6 7 10 1 13 6M2316 410l-2 3 -3 4M2311 629l6-3 9-2M2322 594l-6-8 0-4 -4-10M2312 572l2-7 6-5 10 0 7 2 5 2 6 0M2345 767l-5-1 -8 0 -4-1 -3 5 -4 4 -8 4M2322 832l-8-2M2328 398l-4 4 -4 5 -4 3M2320 901l2 0M2321 861l4 4M2325 836l-4 9 2 6 -2 10M2322 901l9 2M2322 901l-2-11 5-8 1-8 -1-9M2322 832l3 4M2322 832l5-6 2-12 3-6M2322 594l3 6 4 8M2351 582l-9 6 -8 3 -1 0 -11 3M2339 838l-9-4 -5 2M2325 865l5 1 9 0 14-3 2 1M2325 459l0 8 3 7 5 4 6 0M2326 624l2 5 2 8 -3 7M2326 617l0 7M2329 608l-1 4 -2 5M2327 498l6-1M2327 644l3 5 6 3 3 7M2328 398l9 10 7 11 1 3 12 8 -2 4M2333 390l-1 3 -4 5M2329 608l6 1 7-2M2374 716l-5-1 -14-12 0-3 -12-9 -13-8M2330 683l5-7 2-8 4-7M2332 808l6-1M2361 396l-6-3 -5-1 -13-2 -4 0M2350 375l-2 4 -9 7 -6 4M2333 497l8 5 6 1M2333 497l4-5 -2-5 4-7M2334 526l7 0 6 5M2347 505l-4 8 -5 8 -4 5M2357 820l-8-3 -2-6 -9-4M2351 781l-3 4 -1 8 -5 8 -4 6M2339 478l0 2M2363 487l-3-11 -4-6 0-9 -4 7 -9 7 -4 3M2339 838l5 5 3 5 6 11 3 4M2339 838l3-3 7-5 5-3M2339 659l1 0M2355 490l-5-3 -6-5 -5-2M2341 661l-1-2M2356 643l-6 5 -4 6 -6 5M2369 680l-6-7 -11-3 -7-6 -4-3M2354 587l-3 5 -3 8 -6 7M2342 607l6 5 2 7 8 5M2386 603l-14 3 -7-1 -16 0 -7 2M2345 767l1 8 5 6M2376 733l-6 10 -11 6 -4 5 -10 13M2347 503l0 2M2347 503l5-8 3-5M2347 505l5 3 6 3 4 4M2348 564l5-3 6-3 7-6 -7-6 -3-8 -9-7M2362 515l-5 6 -5 3 -5 7M2348 564l3 5 0 6 0 7M2365 787l-6-6 -8 0M2351 582l3 5M2354 447l5 0 7-1 6-1M2354 447l3 7 8 4 7 2M2355 434l-3 7 1 5 1 1M2387 602l-8-4 -7-2 -10-5 -8-4M2354 827l5 12 3 9 -2 6 1 3M2357 820l-3 7M2363 487l-8 3M2381 652l-11-2 -8-4 -6-3M2358 624l-4 8 1 6 1 5M2357 820l4-2 6 0 -1-8 -2-8 2-7 -1-8M2379 613l-4 5 -12 3 -5 3M2360 375l0 7 0 4 1 10M2361 396l1 8 -3 9 1 7 0 7 6-1M2409 384l-15 6 -5-4 -12 5 -16 5M2372 516l-6-1 -4 0M2375 490l-8-1 -4-2M2392 793l-6-4 -2-4 -7-1 -4 4 -8-1M2376 432l-5 0 -5-6M2366 426l6-3 12-4 12-7 5-4 5-8 0-7 4-5M2375 713l0-11 -1-6 -4-11 -1-5M2381 653l-2 3 -3 12 -6 5 -1 7M2372 445l5 3 4-1M2372 445l5-2M2373 517l-1-1M2379 495l-3 5 -3 7 -1 9M2379 479l-4-5 -2-7 -1-7M2372 460l4-3 5 1 7-2M2374 551l-1-5 0-14 2-4 -2-11M2411 528l-4-4 -1-5 -12-2 -4 0 -11 0 -6 0M2376 729l1-7 -3-6M2374 716l1-3M2375 490l4 5M2375 490l2-6 2-5M2375 713l8-3 9-6 13-3 6-5M2376 733l4 9 3 4 -1 5 6 8 10 8 11 0 12 6 11 3M2376 729l0 4M2429 745l-14-5 -15-4 -10-4 -14-3M2386 433l-5 0 -5-1M2376 432l2 3M2381 444l-4-1M2377 443l1-2M2378 435l5 6M2378 435l0 6M2382 441l-4 0M2379 495l6-1 4 2 6-1M2379 613l2 13 1 7 0 14 -1 5M2386 603l-5 3 -2 7M2379 479l9-4 6-5 9-9 5-2M2379 821l4-4 2-6 2-8 5-10M2381 653l0-1M2381 447l0-3M2381 444l1-3M2381 653l8 0 5 1 9-2M2388 456l-2-6 -5-3M2383 441l-1 0M2384 441l-1 0M2384 441l6 5 9 5 9 4M2386 433l-2 8M2387 602l-1 1M2386 433l8-5 7 1 2 9 1 6 4 10M2395 598l-8 4M2388 456l6 1 8 1 6-1M2392 793l13 4 15-1 4-1M2395 598l2 6 6 12 2 1 6 9M2395 598l0-1 12 7 12 1 12 5 17 1M2395 495l4 4 3 8 3 4 5-5 7-6 6-2M2412 472l-6 9 -1 4 -8 6 -2 4M2403 652l6 4 3 6 -1 11 -1 2 1 8 0 13M2411 626l-2 10 -3 6 -3 10M2408 459l0-2M2408 457l0-2M2408 454l0 1M2430 426l-7 7 -4 4 -10 12 -1 5M2442 444l-13 2 -6 2 -4 1 -11 6M2412 466l-4-7M2409 384l1 4M2411 375l-1 5 -1 4M2420 399l-4-8 -6-3M2411 528l9 1 5 3M2413 579l-7 3 -6 1 -3-10 -3-1 -6-7 -4-11 7-8 4-5 6-4 10-9M2411 626l8 2 9 0 5 0M2411 696l9 5 8-1 8 3M2412 466l9 2 10-2 8-1M2412 472l0-6M2421 482l-3-5 -6-5M2440 579l-6 1 -15-1 -6 0M2413 579l5-9 -1-10 6-14 4-6 8 12 5 4 1 5 9 10M2472 385l-11-4 -19-1 -10-3 -14-2M2420 399l16 7 3 2 10 4 17 6M2430 426l-3-9 -3-4 0-6 -4-8M2421 482l-1 9 3 7M2440 484l-7 1 -8-3 -4 0M2423 498l8 2 3 5M2440 532l-7-1 -7 2 -1-1M2434 505l-4 9 0 7 -5 5 0 6M2432 776l2-4 -5-8 -1-7 1-12M2429 745l4-7 6-9 2-2 7-8M2430 426l6 2 3 4 5 3M2438 785l-2 0 -4-9M2433 628l2 6 1 8 2 8 -5 2 -2 5 7 7 3 5 4 7M2450 615l-7 6 -3 0 -7 7M2434 505l7-2M2438 705l-2-2M2436 703l1-7 4-4 0-9 4-7M2448 719l-5-5 -3-5 -2-4M2478 677l-10 3 -12 15 -13 5 -5 5M2448 478l-6-6 -3-7M2439 465l3-7 5-5 -2-6 -3-3M2440 484l0 7 1 3 0 9M2440 484l3-2 4-3M2440 579l3 9 1 3 1 14 3 6M2450 571l-6 4 -4 4M2441 503l6 0 4 2 7-1M2444 435l-3 4 1 5M2464 423l-5 5 -10 6 -5 1M2473 660l-4 3 -8 6 -5 2 -11 5M2458 504l-1-9 -5-6 -5-10M2448 478l-1 1M2448 719l4 4 7 0 9 2 2 2 17-3 11-6 3 0 16-4M2450 615l-2-4M2471 471l-7 2 -10 5 -6 0M2453 615l-3 0M2472 564l-9 3 -6 1 -7 3M2469 612l-6 2 -6 2 -4-1M2453 615l0 8 3 14 3 7 1 6 4 4 3 3 6 3M2458 504l6 2 8 2 5 0M2471 452l-2-4 0-9 -5-11 0-5M2466 418l-2 5M2469 415l-3 3M2469 612l6 6 2 5 7 6M2485 587l-3 4 -7 8 -2 9 -4 4M2472 385l1 11 -3 4 0 11 -1 4M2469 415l8 0 5 3M2471 452l-3 6 2 7 1 6M2491 445l-8 2 -4 3 -8 2M2471 471l3 6 6 3M2476 380l-4 5M2472 564l8 4 1 3 6 5 -2 4 0 7M2472 564l1-7 -2-7 -1-11 5-5 0-6 4-6M2478 677l-1-5 -2-5 -2-7M2475 658l-2 2M2484 629l-3 11 -2 6 -3 7 -1 5M2517 653l-11 1 -10 4 -13-1 -8 1M2479 522l2-6 -4-8M2478 508l-1 0M2480 480l1 13 -5 3 2 12M2514 501l-4 2 -4 0 -11 4 -17 1M2486 686l-5-2 -3-7M2499 527l-7-1 -4-3 -9-1M2501 473l-4 2 -17 5M2489 440l-2-2 -3-12 -2-8M2483 418l-1 0M2511 625l-7-1 -11 2 -9 3M2485 587l5 10 8 9 3 8 10 11M2515 549l-9-8 -3-7 -4-7M2499 527l9-4 3-1 9-4 0-4M2539 589l-9-1 -11-6 -4 2 -10-4M2505 580l9 14 7 14 2 15 3 7M2515 555l-4 6 -7 5 -5 2 -4 6 6 1 4 5M2515 735l-6 6 -2 7M2511 625l8 4 7 1M2515 549l0 6M2527 530l-7 6 0 7 -5 6M2515 555l6 2 7-1M2538 747l-8-6 -11-1 -4-5M2515 735l1-5 0-11 1-5M2521 707l-4 7M2517 653l-4 5 -6 15 -4 8 -3 8 8 5 1 4 7 6 5 3M2517 653l6-5 8-2 7-6 3-2M2556 699l-7 3 -13 3 -2-1 -13 3M2541 638l-6-1 -5-6 -4-1M2528 556l4 8 2 9 5 10 0 6M2532 555l-4 1M2538 556l-6-1M2536 550l-4 5M2551 724l-7 9 -6 14M2559 602l-20-13M2563 641l-10 0 -12-3" fill="none" stroke="#aa378a" stroke-opacity=".8" stroke-width="1.95" stroke-linejoin="round"/><path d="M594,182.5 660,185.5 727.5,187.5 829,188.5 1000,188 1237.5,187.5 1241,207.5 1247.5,230 1259,255 1270,280 1275,290 1280,302.5 1281.5,322.5 1279,345 1274,367.5 1269,374 1262.5,374.5 1260,371 1240,380 1215,395 1209,400 1190,417.5 1175,435 1167.5,445 1165.5,451 1164,456 1161.5,459 1157.5,460.3 1153.5,459.6 1151,457.5 1149,453.5 1147.5,449 1144,447 1140,446 1120,446 1097.5,451 1082.5,459 1065,470 1047.5,482.5 1030,500 1019,520 1009,545 1007.5,559 1006.3,561.5 1004,563 1001,563.6 997.8,562.8 996,560.5 995,557.5 985,551 967.5,549 950,551 941,555 880,491 811,422.5 689,421 690,410 686,397 674.7,383 663,390.7 660,389 663,381 662,377 640,376.5 615,374.5 524,371 516,372.5 510,372.5 490,379 474,384 471,387.5 435,397.5 379,399 302.5,399 305,369 314,361 317.5,364 332.5,359 336,341 350,329 365,321 387,320 400,312 412,309 422,300 440,292 450,290 457,280 457,271 465,270 472,262 487,254 491,259 490,266 497,267 510,257 525,245 540,241 542,245 552,245 561,235 567.5,224 579,214 589,216 585.5,207.5 589,200 590,192.5Z" fill="none" stroke="#4a3650" stroke-width=".85" stroke-linejoin="round"/><path d="M546,356 545,355 540,360 525,364 524,370.7M616,341 591,347.5 585,361 579,356 570,361 565,356 561,364 552.5,356 546,356M546,356 542.5,344 530,344 526,340 532.5,327.5 560,325 576,324 574,302.5 560,287.5 569,280 564,269 567.5,264 579,266 585,255 571,235 567.6,224.4M691,331 672.5,330 671,341 616,341M746,264 749,260 755,252.5 761,239 764,236 760,227.5 727.5,227.5 709,224 705,227 692.5,225.5 692.5,229 681,230 680,254 665,256 666,270 656,292.5 651,286 627.5,292.5 609,321 616,341M720,354 716,348.7 714,342.7 712,344.7 703,342 701,344.7 706,348 706.7,351 701,353 698.7,360.7 696,371 688,374.7 681.3,372.1M681.3,372.1 681,372.7 684,376 680,380 685,384 683,388 687,392 685.2,395.5M681.3,372.1 681,372 678,368 677,360 679,358.7 678.7,354.7 685,350.7 694,342.7 693,340 691,331M691,331 695,329 696,320 692.5,307.5 695,290 700,269 700,267 700,256 735,257.5 746,264M720,354 725,356.7M722.9,355.6 720,354M724.7,356.5 722.9,355.6M805,346 793,347 778.3,356.6 770,376.8 763.6,372 756.3,378.6 754.5,389.6 744.4,391.5 737,398.8 720.6,397 717,384 708.6,376.8 714,367.6 716,354.8 722.9,355.6M725,356.7 724.7,356.5M724.7,356.5 727,359.4M727,359.4 725,356.7M746,264 732.5,277.5 735,281 725,287.5 727.5,295 724,300 729,306 745,312.5 736,317.5 737,325.5 743.5,331 727,359.4M894.5,320 889,325.7 877,314.7 871.6,313.8 865,321 851.4,325.7 848.6,331 865,356 863.3,361.5 874.3,370.6 883.5,368.8 893.6,369.7 896.3,376 896.3,384.4 892.6,381.6 881.6,385.3 876,389 874.3,371.6 861.5,364 851.4,370.6 840.4,368.8 840.4,358.7 827.6,357.8 827.6,343 824,342 824,328.5 834,327.6 834,312 826.7,311 826,297.5 818,296 816,288 818,277.5 818,254 811,253 801,256 795,256M795,256 789,261 792.5,272.5 802.5,275 802.5,287.5 811,288 811,302.5 812,314.7 818.4,315.6 821,327.5 802.8,329.4 803,333.7 805,346M795,256 792.5,256 791,252.5 799,250 806,246.5 818,242.5 818,230 829,230M805,346 807.6,361 801,368.6 817.7,376 811.3,388.7 822,398.5 824,409 819,419 832.5,426 849,421 852.5,429 869,425 882.5,442.5 877.5,446 866,447.5 870,452.5 871,461 866,467.5 874,475 876,467.5 885,462.5 884,455 887.5,454 892.5,462.5 891,469 890,472.5M829,188.8 829,229 829,230M829,230 857.5,230 857.5,243 890,243 891,239 897,241 898,231.5 907.5,231.5 907.5,247.5M879.7,490.3 880,490 887.5,482.5 890,472.5M890,472.5 896,469 902.5,464 904,456 911,457.5 912.5,467.5 924,469 935,470 945,479 960,481 967.5,476 975,466 967.5,465 957.5,457.5 947.5,447.5 952.5,432.5 945,420 944.3,416.5M890.8,302 886,314.7 894.5,320M890.8,302 901.8,299M900,299.5 890.8,302M941.6,416.5 940,417.5 920,415 916,410 927.5,401 924,390 927.5,364 921,361.5 918.3,343 922,331 911,325.7 904.5,345 901,350.5 890,354 885.3,365 874.3,348.6 894.5,320M1010,306 1000,302.5 977.5,302.5 965,306 962.5,311 967.5,322.5 960,326 950,321 940,321 929,312.5 920,316 915,314 907.3,309 904.6,304.7 900,300 900,299.5M901.8,299 900,299.5M907.5,247.5 907.5,250 913,254 912.5,257.5 905,261.5 907.5,269 916,270 922.5,277.5 932.5,272.5 937.5,280 937.5,295 930,300 920,295 915,302.5 907.5,306 903,303 901.8,299M907.5,247.5 910,240 922.5,239 930,236 940,237.5 950,240 960,230 966,227.5 965,237.5 974,242.5 972.5,254 982.5,259 1000,257.5 1007.5,251 1025,252.5 1019,267.5 1022.5,269 1020,272.5 1014,272.5 1011,266 1006,266 1000,274 985,276 981,285 977.5,287.5 977.5,297.5 1005,286 1006,292.5 1011,292.5 1010,306M944.3,416.5 941.6,416.5M941.6,416.5 940,416.5 939.3,412 938,404.7 936,401.3 939.3,399.3 938.7,393.3 942.7,394 950,395.3 951.3,399.3 948,401.3 952,407.3 944.5,416.5 944.3,416.5M1010,306 1010,317.5 987.5,317.5 979,344 981,351 1000,344 1010,342.5 1025,346 1030,336 1050,340 1066,337.5 1070,322.5 1084,331 1094,322.5 1086,309 1085,301 1091,292.5 1102.5,290 1104,294 1120,301 1112.5,307.5 1109,317.5 1119,322.5 1117.5,336 1126,341 1126,350 1121,354 1124,367.5 1146,365 1150,349 1135,344 1135,330 1140,327.5 1137.5,317.5 1126,316 1130,302.5 1132.5,302.5 1170,301 1170,295 1177.5,282.5 1177.5,285 1194,285 1195,287.5 1212.5,282.5 1217.5,275 1220,267.5 1226,261 1241,255 1240,242.5 1237.5,231 1247.1,230M745,227 745,211 755,210 761,209 764,214 772.5,215 782.5,209 797.5,207 799,226 785,229 792.5,242.5 785,250 795,252.5M826,297.5 831,294 846,292.5 857,297.5 861,308 868,306.5 877,305 874,300 880,297.5 885,291 894,286 898,273 903,268 905,261.5M981,351 982.7,352.7 985.3,361.3 988.7,364.7 990,370.7 992.7,376.7 990.7,382 996.7,386.7 1002.7,389.3 1010,391.3 1013.3,395.3 1010.7,401.3 1011.3,410 1009.3,412 1013.3,418 1015.3,423.3 1022,422.7 1032.5,426 1044,419 1056,405 1094,402.5 1095,420 1117.5,420 1120,427.5 1129,430 1117.5,434 1140,435 1142.5,437.5 1150,435 1157.5,435 1159,440 1167.5,445M985.3,361.3 982,366 978.7,371.3 969.3,368 974,374.7 966,372 958.7,370 956,371.3 959.3,372 960,381.3 962.7,381.3 964.7,375.3 970.7,384.7 970,394 972.7,408 970,401.3 962.7,400 960,404.7 958.7,411.3 955.3,408.7 952,407.3" fill="none" stroke="#1e1220" stroke-width="1.3" stroke-linejoin="round" stroke-linecap="round"/><g font-family="'Liberation Sans',sans-serif" font-size="17" text-anchor="middle" fill="#1c1c1c"><text x="1140" y="251.1">1</text><text x="846" y="317.1">2</text><text x="1202" y="348.1">3</text><text x="841" y="271.1">4</text><text x="626" y="246.1">5</text><text x="777" y="316.1">6</text><text x="1010" y="471.1">7</text><text x="787" y="401.1">8</text><text x="894" y="418.1">9</text><text x="643" y="322.1">10</text><text x="485" y="331.1">11</text><text x="713" y="326.1">12</text><text x="958" y="282.1">13</text><text x="663" y="367.1">14</text></g>
</svg>
<div class="btn" style="left:238px;top:0;width:41px;height:13px;border-radius:0 0 4px 4px"></div>
<div class="btn" style="left:245px;top:20px;width:34px;height:34px;border-radius:4px">
<svg viewBox="0 0 24 24" style="position:absolute;left:.3px;top:.3px;width:33.3px;height:33.3px"><path fill="#2b2b2b" d="M15.500 14h-.790l-.280-.270C15.410 12.590 16 11.110 16 9.500 16 5.910 13.090 3 9.500 3S3 5.910 3 9.500 5.910 16 9.500 16c1.610 0 3.090-.59 4.230-1.570l.270.280v.790l5 4.990L20.490 19l-4.990-5zm-6 0C7.010 14 5 11.990 5 9.500S7.010 5 9.500 5 14 7.010 14 9.500 11.990 14 9.500 14zM7 9h5v1H7z"/></svg></div>
<div class="btn" style="left:291.3px;top:-4px;width:34.6px;height:28.6px;border:1.8px solid #d4d4d4;border-radius:5px"><i style="position:absolute;left:11px;top:10.2px;width:13.4px;height:3.3px;border-radius:1.6px;background:#2b2b2b"></i></div>
<div class="btn" style="left:1271px;top:0;width:31px;height:12px;border-radius:0 0 0 4px"></div>
<div id="side"></div>
<div id="panel"><div id="topline"></div>

<div class="r" style="top:3.20px"><svg class="lk" viewBox="0 0 24 34"><rect x="3.5" y="10.8" width="15.8" height="13.2" rx="2.1" fill="none" stroke="#151515" stroke-width="2.4"/><circle cx="11.4" cy="17.4" r="2.35" fill="#151515"/><path d="M6.9 6.2A4.75 4.75 0 0 1 16.2 6.9V10.4" fill="none" stroke="#151515" stroke-width="2.4"/></svg><span class="n">Un</span><span class="sw"><svg viewBox="0 0 28 28"><circle cx="14" cy="14" r="10.5" fill="none" stroke="#666" stroke-width="2.2"/></svg></span><span class="p">0</span><span class="d">0</span></div>
<div class="r" style="top:37.50px"><svg class="lk" viewBox="0 0 24 34"><rect x="3.5" y="10.8" width="15.8" height="13.2" rx="2.1" fill="none" stroke="#151515" stroke-width="2.4"/><circle cx="11.4" cy="17.4" r="2.35" fill="#151515"/><path d="M6.9 6.2A4.75 4.75 0 0 1 16.2 6.9V10.4" fill="none" stroke="#151515" stroke-width="2.4"/></svg><span class="n">1</span><span class="sw" style="background:#e6e6fc"><svg viewBox="0 0 28 28"><circle cx="14" cy="14" r="10.5" fill="none" stroke="#5a5a5a" stroke-width="2.2"/></svg></span><span class="p">747,852</span><span class="d">2,181</span></div>
<div class="r" style="top:71.80px"><svg class="lk" viewBox="0 0 24 34"><rect x="3.5" y="10.8" width="15.8" height="13.2" rx="2.1" fill="none" stroke="#151515" stroke-width="2.4"/><circle cx="11.4" cy="17.4" r="2.35" fill="#151515"/><path d="M6.9 6.2A4.75 4.75 0 0 1 16.2 6.9V10.4" fill="none" stroke="#151515" stroke-width="2.4"/></svg><span class="n">2</span><span class="sw" style="background:#8080c0"><svg viewBox="0 0 28 28"><circle cx="14" cy="14" r="10.5" fill="none" stroke="#2a2a3a" stroke-width="2.2"/></svg></span><span class="p">741,335</span><span class="d">-4,336</span></div>
<div class="r" style="top:106.10px"><svg class="lk" viewBox="0 0 24 34"><rect x="3.5" y="10.8" width="15.8" height="13.2" rx="2.1" fill="none" stroke="#151515" stroke-width="2.4"/><circle cx="11.4" cy="17.4" r="2.35" fill="#151515"/><path d="M6.9 6.2A4.75 4.75 0 0 1 16.2 6.9V10.4" fill="none" stroke="#151515" stroke-width="2.4"/></svg><span class="n">3</span><span class="sw" style="background:#f59d98"><svg viewBox="0 0 28 28"><circle cx="14" cy="14" r="10.5" fill="none" stroke="#3a2a2a" stroke-width="2.2"/></svg></span><span class="p">754,828</span><span class="d">9,157</span></div>
<div class="r" style="top:140.40px"><svg class="lk" viewBox="0 0 24 34"><rect x="3.5" y="10.8" width="15.8" height="13.2" rx="2.1" fill="none" stroke="#151515" stroke-width="2.4"/><circle cx="11.4" cy="17.4" r="2.35" fill="#151515"/><path d="M6.9 6.2A4.75 4.75 0 0 1 16.2 6.9V10.4" fill="none" stroke="#151515" stroke-width="2.4"/></svg><span class="n">4</span><span class="sw" style="background:#8080c0"><svg viewBox="0 0 28 28"><circle cx="14" cy="14" r="10.5" fill="none" stroke="#2a2a3a" stroke-width="2.2"/></svg></span><span class="p">744,201</span><span class="d">-1,470</span></div>
<div class="r" style="top:174.70px"><svg class="lk" viewBox="0 0 24 34"><rect x="3.5" y="10.8" width="15.8" height="13.2" rx="2.1" fill="none" stroke="#151515" stroke-width="2.4"/><circle cx="11.4" cy="17.4" r="2.35" fill="#151515"/><path d="M6.9 6.2A4.75 4.75 0 0 1 16.2 6.9V10.4" fill="none" stroke="#151515" stroke-width="2.4"/></svg><span class="n">5</span><span class="sw" style="background:#bc8489"><svg viewBox="0 0 28 28"><circle cx="14" cy="14" r="10.5" fill="none" stroke="#3a2a2a" stroke-width="2.2"/></svg></span><span class="p">740,633</span><span class="d">-5,038</span></div>
<div class="r" style="top:209.00px"><svg class="lk" viewBox="0 0 24 34"><rect x="3.5" y="10.8" width="15.8" height="13.2" rx="2.1" fill="none" stroke="#151515" stroke-width="2.4"/><circle cx="11.4" cy="17.4" r="2.35" fill="#151515"/><path d="M6.9 6.2A4.75 4.75 0 0 1 16.2 6.9V10.4" fill="none" stroke="#151515" stroke-width="2.4"/></svg><span class="n">6</span><span class="sw" style="background:#bc8489"><svg viewBox="0 0 28 28"><circle cx="14" cy="14" r="10.5" fill="none" stroke="#3a2a2a" stroke-width="2.2"/></svg></span><span class="p">750,475</span><span class="d">4,804</span></div>
<div class="r" style="top:243.30px"><svg class="lk" viewBox="0 0 24 34"><rect x="3.5" y="10.8" width="15.8" height="13.2" rx="2.1" fill="none" stroke="#151515" stroke-width="2.4"/><circle cx="11.4" cy="17.4" r="2.35" fill="#151515"/><path d="M6.9 6.2A4.75 4.75 0 0 1 16.2 6.9V10.4" fill="none" stroke="#151515" stroke-width="2.4"/></svg><span class="n">7</span><span class="sw" style="background:#f59d98"><svg viewBox="0 0 28 28"><circle cx="14" cy="14" r="10.5" fill="none" stroke="#3a2a2a" stroke-width="2.2"/></svg></span><span class="p">748,397</span><span class="d">2,726</span></div>
<div class="r" style="top:277.60px"><svg class="lk" viewBox="0 0 24 34"><rect x="3.5" y="10.8" width="15.8" height="13.2" rx="2.1" fill="none" stroke="#151515" stroke-width="2.4"/><circle cx="11.4" cy="17.4" r="2.35" fill="#151515"/><path d="M6.9 6.2A4.75 4.75 0 0 1 16.2 6.9V10.4" fill="none" stroke="#151515" stroke-width="2.4"/></svg><span class="n">8</span><span class="sw" style="background:#eeeeff"><svg viewBox="0 0 28 28"><circle cx="14" cy="14" r="10.5" fill="none" stroke="#5a5a5a" stroke-width="2.2"/></svg></span><span class="p">741,002</span><span class="d">-4,669</span></div>
<div class="r" style="top:311.90px"><svg class="lk" viewBox="0 0 24 34"><rect x="3.5" y="10.8" width="15.8" height="13.2" rx="2.1" fill="none" stroke="#151515" stroke-width="2.4"/><circle cx="11.4" cy="17.4" r="2.35" fill="#151515"/><path d="M6.9 6.2A4.75 4.75 0 0 1 16.2 6.9V10.4" fill="none" stroke="#151515" stroke-width="2.4"/></svg><span class="n">9</span><span class="sw" style="background:#d0d0f8"><svg viewBox="0 0 28 28"><circle cx="14" cy="14" r="10.5" fill="none" stroke="#55555f" stroke-width="2.2"/></svg></span><span class="p">746,494</span><span class="d">823</span></div>
<div class="r" style="top:346.20px"><svg class="lk" viewBox="0 0 24 34"><rect x="3.5" y="10.8" width="15.8" height="13.2" rx="2.1" fill="none" stroke="#151515" stroke-width="2.4"/><circle cx="11.4" cy="17.4" r="2.35" fill="#151515"/><path d="M6.9 6.2A4.75 4.75 0 0 1 16.2 6.9V10.4" fill="none" stroke="#151515" stroke-width="2.4"/></svg><span class="n">10</span><span class="sw" style="background:#f59d98"><svg viewBox="0 0 28 28"><circle cx="14" cy="14" r="10.5" fill="none" stroke="#3a2a2a" stroke-width="2.2"/></svg></span><span class="p">745,670</span><span class="d">-1</span></div>
<div class="r" style="top:380.50px"><svg class="lk" viewBox="0 0 24 34"><rect x="3.5" y="10.8" width="15.8" height="13.2" rx="2.1" fill="none" stroke="#151515" stroke-width="2.4"/><circle cx="11.4" cy="17.4" r="2.35" fill="#151515"/><path d="M6.9 6.2A4.75 4.75 0 0 1 16.2 6.9V10.4" fill="none" stroke="#151515" stroke-width="2.4"/></svg><span class="n">11</span><span class="sw" style="background:#f59d98"><svg viewBox="0 0 28 28"><circle cx="14" cy="14" r="10.5" fill="none" stroke="#3a2a2a" stroke-width="2.2"/></svg></span><span class="p">745,670</span><span class="d">-1</span></div>
<div class="r" style="top:414.80px"><svg class="lk" viewBox="0 0 24 34"><rect x="3.5" y="10.8" width="15.8" height="13.2" rx="2.1" fill="none" stroke="#151515" stroke-width="2.4"/><circle cx="11.4" cy="17.4" r="2.35" fill="#151515"/><path d="M6.9 6.2A4.75 4.75 0 0 1 16.2 6.9V10.4" fill="none" stroke="#151515" stroke-width="2.4"/></svg><span class="n">12</span><span class="sw" style="background:#9090f2"><svg viewBox="0 0 28 28"><circle cx="14" cy="14" r="10.5" fill="none" stroke="#2a2a3a" stroke-width="2.2"/></svg></span><span class="p">743,744</span><span class="d">-1,927</span></div>
<div class="r" style="top:449.10px"><svg class="lk" viewBox="0 0 24 34"><rect x="3.5" y="10.8" width="15.8" height="13.2" rx="2.1" fill="none" stroke="#151515" stroke-width="2.4"/><circle cx="11.4" cy="17.4" r="2.35" fill="#151515"/><path d="M6.9 6.2A4.75 4.75 0 0 1 16.2 6.9V10.4" fill="none" stroke="#151515" stroke-width="2.4"/></svg><span class="n">13</span><span class="sw" style="background:#9090f2"><svg viewBox="0 0 28 28"><circle cx="14" cy="14" r="10.5" fill="none" stroke="#2a2a3a" stroke-width="2.2"/></svg></span><span class="p">742,931</span><span class="d">-2,740</span></div>
<div class="r" style="top:483.40px"><svg class="lk" viewBox="0 0 24 34"><rect x="3.5" y="10.8" width="15.8" height="13.2" rx="2.1" fill="none" stroke="#151515" stroke-width="2.4"/><circle cx="11.4" cy="17.4" r="2.35" fill="#151515"/><path d="M6.9 6.2A4.75 4.75 0 0 1 16.2 6.9V10.4" fill="none" stroke="#151515" stroke-width="2.4"/></svg><span class="n">14</span><span class="sw" style="background:#e6e6fc"><svg viewBox="0 0 28 28"><circle cx="14" cy="14" r="10.5" fill="none" stroke="#d8433b" stroke-width="2.2"/><circle cx="14" cy="14" r="5.9" fill="#d8433b"/></svg></span><span class="p">746,156</span><span class="d">485</span></div>
</div>
<div id="dd"><b>District Details</b>
<svg viewBox="0 0 24 24" style="position:absolute;left:178px;top:1.4px;width:17.6px;height:17.6px"><path fill="#1f1f1f" d="M16 9V4h1c.55 0 1-.45 1-1s-.45-1-1-1H7c-.55 0-1 .45-1 1s.45 1 1 1h1v5c0 1.660-1.340 3-3 3v2h5.970v7l1 1 1-1v-7H19v-2c-1.660 0-3-1.340-3-3z"/></svg>
<svg viewBox="0 0 24 24" style="position:absolute;left:204px;top:1.5px;width:20px;height:20px"><path fill="none" stroke="#4a4a4a" stroke-width="2" d="M5.500 8.800l6.500 6.400 6.500-6.400"/></svg>
</div>
</body></html>
